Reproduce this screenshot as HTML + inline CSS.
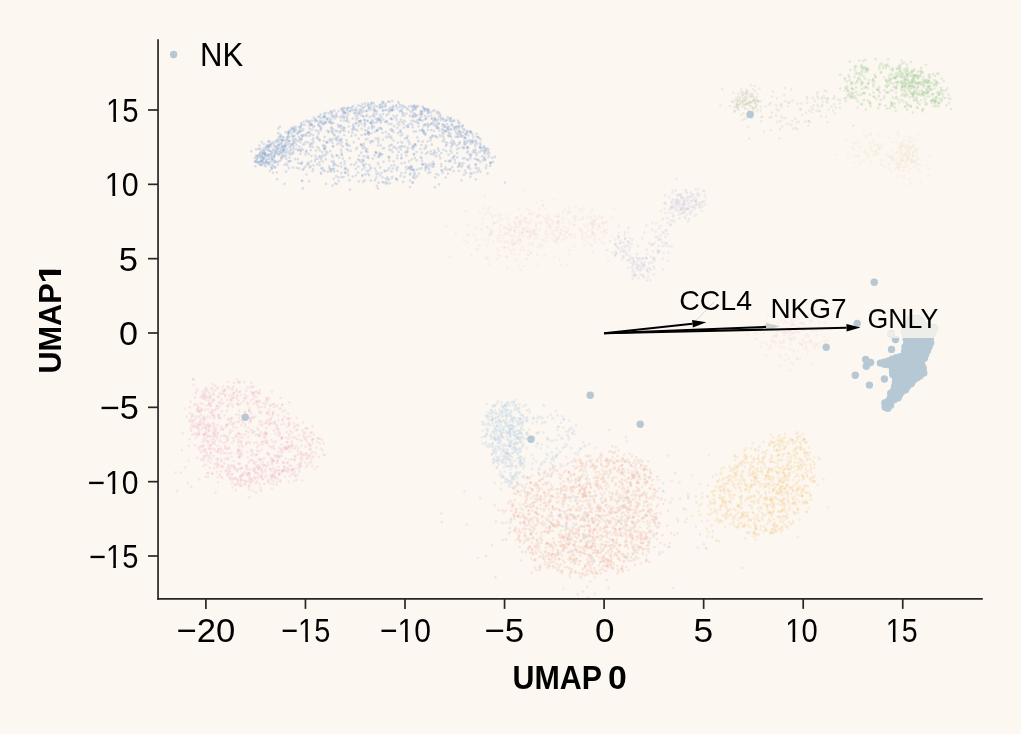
<!DOCTYPE html>
<html><head><meta charset="utf-8"><style>
html,body{margin:0;padding:0;background:#fcf7f1;}
svg{display:block;}
</style></head><body>
<svg width="1021" height="734" viewBox="0 0 1021 734">
<rect width="1021" height="734" fill="#fcf7f1"/>
<clipPath id="ax"><rect x="159" y="30" width="830" height="568"/></clipPath>
<g clip-path="url(#ax)">
<path d="M387.7 170.1h0M451.2 147.2h0M261.5 156.2h0M318.7 123.7h0M402.1 108.6h0M292.7 144.2h0M367.8 173.6h0M257.3 158.9h0M432.3 135.7h0M301.4 135.3h0M320.0 150.5h0M309.6 128.6h0M417.3 115.0h0M272.9 172.8h0M282.9 136.8h0M343.2 112.5h0M325.2 123.3h0M344.8 112.7h0M397.3 127.6h0M442.7 172.7h0M371.5 141.2h0M403.5 106.6h0M376.9 185.9h0M476.4 158.8h0M363.6 156.2h0M318.7 122.3h0M324.2 116.3h0M272.8 165.2h0M368.0 120.9h0M404.7 146.6h0M407.7 149.2h0M315.2 119.6h0M468.7 167.2h0M391.9 144.8h0M309.9 145.1h0M364.2 119.9h0M453.0 126.3h0M347.1 109.7h0M378.5 173.3h0M426.0 117.3h0M321.1 127.9h0M263.6 158.4h0M438.4 175.1h0M457.2 149.2h0M370.6 116.6h0M257.4 155.8h0M358.2 159.4h0M309.5 122.5h0M400.4 105.0h0M362.4 104.2h0M361.9 124.3h0M322.7 161.7h0M440.2 114.7h0M265.8 155.4h0M312.6 146.9h0M354.1 129.2h0M290.4 144.8h0M319.5 140.1h0M333.4 123.1h0M425.6 124.6h0M263.4 163.7h0M382.4 101.9h0M332.5 142.9h0M268.2 141.7h0M450.2 133.6h0M473.4 137.0h0M295.0 159.2h0M282.5 146.6h0M301.3 125.1h0M421.2 112.3h0M267.7 149.0h0M459.1 163.1h0M406.5 151.6h0M324.2 145.8h0M259.0 163.9h0M258.1 162.9h0M348.0 108.1h0M278.5 145.4h0M430.7 112.5h0M280.8 139.9h0M258.6 149.1h0M263.7 144.0h0M286.2 163.7h0M275.3 167.0h0M369.4 165.1h0M407.5 151.1h0M445.6 161.1h0M324.7 122.4h0M367.4 139.0h0M338.8 181.1h0M465.4 144.7h0M424.9 115.8h0M280.5 152.1h0M442.5 125.9h0M354.9 113.6h0M383.0 139.6h0M447.8 127.8h0M484.5 153.5h0M297.8 159.2h0M383.1 110.4h0M483.0 160.3h0M315.6 155.9h0M341.1 120.5h0M321.9 156.6h0M306.4 150.9h0M411.3 166.1h0M383.0 114.1h0M413.2 146.3h0M289.5 144.5h0M256.3 156.2h0M340.1 140.9h0M424.7 108.7h0M448.0 173.6h0M260.1 156.3h0M259.6 157.0h0M451.5 152.6h0M352.8 118.4h0M402.3 134.6h0M357.5 130.4h0M391.3 118.8h0M466.9 159.6h0M303.7 168.8h0M367.9 156.2h0M450.4 135.4h0M366.4 156.9h0M309.2 121.0h0M379.0 119.7h0M331.2 115.3h0M464.4 129.9h0M421.8 158.1h0M333.5 115.9h0M329.6 121.5h0M309.2 132.0h0M451.3 146.2h0M278.9 154.3h0M380.8 122.4h0M418.5 123.4h0M480.3 161.9h0M332.0 170.5h0M287.1 149.1h0M389.0 179.6h0M264.8 164.5h0M488.5 149.2h0M377.4 130.1h0M275.0 141.3h0M370.7 106.0h0M364.8 180.3h0M322.3 152.1h0M336.1 176.1h0M370.5 122.7h0M278.5 161.5h0M452.2 167.0h0M475.5 149.6h0M441.6 170.0h0M321.4 122.9h0M389.4 109.2h0M376.3 153.2h0M355.6 135.3h0M285.8 144.4h0M406.4 126.0h0M304.6 144.0h0M392.3 100.9h0M413.4 170.1h0M431.8 118.5h0M407.7 147.7h0M310.6 166.3h0M338.3 136.4h0M409.1 106.4h0M416.9 176.3h0M470.4 173.4h0M405.4 172.7h0M372.1 128.6h0M256.2 155.4h0M411.4 106.1h0M269.8 171.0h0M454.2 120.7h0M365.2 147.9h0M458.5 126.0h0M477.0 136.8h0M344.9 172.7h0M333.3 169.2h0M476.5 133.8h0M287.0 145.1h0M427.6 167.7h0M386.8 109.9h0M484.2 159.1h0M426.9 111.1h0M391.8 178.0h0M444.7 126.7h0M264.6 153.2h0M427.1 111.1h0M333.3 129.4h0M411.4 169.5h0M323.2 169.9h0M356.4 162.3h0M423.2 107.7h0M310.5 124.2h0M351.0 164.5h0M401.5 163.3h0M331.6 169.7h0M368.0 157.0h0M448.9 161.4h0M320.8 117.8h0M439.5 130.7h0M317.3 164.4h0M373.7 113.7h0M324.4 148.6h0M331.6 122.5h0M363.4 146.0h0M446.9 127.6h0M461.5 167.0h0M436.9 111.9h0M267.1 162.2h0M462.4 165.7h0M293.3 153.2h0M258.2 156.0h0M323.0 145.2h0M310.9 134.2h0M278.6 155.1h0M293.0 139.3h0M289.4 141.1h0M365.8 139.4h0M450.4 121.5h0M368.3 134.3h0M446.0 145.7h0M417.0 120.3h0M337.0 144.3h0M327.3 142.7h0M275.0 161.2h0M400.5 130.2h0M430.8 151.3h0M429.1 112.8h0M322.3 120.6h0M403.8 127.7h0M369.8 110.1h0M393.5 147.5h0M422.6 141.7h0M319.8 165.1h0M282.2 141.6h0M306.3 151.4h0M434.5 110.2h0M368.5 132.9h0M432.1 166.5h0M338.0 124.9h0M277.7 145.7h0M263.1 153.1h0M365.7 106.0h0M369.7 117.1h0M418.9 173.9h0M378.1 140.2h0M261.1 164.3h0M313.6 165.4h0M433.6 154.7h0M268.8 148.3h0M370.6 105.7h0M485.3 160.0h0M457.9 136.7h0M397.3 155.5h0M400.5 135.6h0M410.6 123.7h0M279.2 161.4h0M291.0 149.4h0M438.2 127.5h0M311.0 161.4h0M430.3 163.8h0M284.5 164.9h0M258.5 155.2h0M320.6 130.5h0M302.4 124.7h0M350.8 150.8h0M434.6 117.7h0M294.0 129.2h0M340.7 125.3h0M425.0 125.0h0M489.0 152.7h0M351.9 107.3h0M285.0 146.2h0M447.1 124.3h0M488.4 157.2h0M453.6 157.1h0M428.3 116.3h0M378.6 182.7h0M299.8 131.6h0M280.0 147.9h0M414.8 145.8h0M311.9 120.6h0M322.6 168.0h0M360.9 109.4h0M346.8 143.5h0M475.7 167.8h0M282.8 149.7h0M348.8 132.0h0M425.4 134.7h0M438.2 112.0h0M427.8 111.1h0M452.2 143.9h0M287.3 138.9h0M368.4 104.9h0M412.9 110.1h0M408.7 167.5h0M449.4 126.5h0M446.2 120.7h0M275.1 151.7h0M311.9 124.9h0M392.2 110.1h0M255.7 161.5h0M385.7 103.9h0M261.1 160.7h0M415.6 145.4h0M344.2 118.3h0M324.8 136.9h0M310.8 150.1h0M346.6 149.0h0M407.7 127.1h0M251.2 151.3h0M308.2 162.7h0M260.4 164.2h0M264.2 164.1h0M353.2 129.4h0M282.8 140.0h0M445.7 130.8h0M338.4 166.0h0M261.7 142.1h0M282.2 140.0h0M271.9 168.6h0M419.5 119.7h0M362.6 116.0h0M410.7 173.5h0M475.8 140.7h0M388.1 101.8h0M375.1 111.3h0M289.4 132.4h0M464.6 138.0h0M441.3 153.0h0M377.4 106.4h0M470.2 158.3h0M389.0 157.5h0M320.2 156.4h0M397.3 108.5h0M268.1 146.6h0M332.3 133.0h0M347.0 116.6h0M399.5 111.4h0M341.4 154.5h0M402.0 122.1h0M286.4 158.9h0M347.2 118.0h0M452.1 124.0h0M420.7 111.3h0M313.8 117.3h0M363.5 165.6h0M344.1 135.0h0M415.8 109.5h0M438.8 128.2h0M402.5 115.8h0M292.9 167.5h0M286.2 151.6h0M332.9 157.1h0M432.0 164.1h0M319.8 120.7h0M283.8 150.5h0M379.1 154.8h0M398.1 101.8h0M331.8 127.5h0M462.0 135.6h0M443.1 125.0h0M489.2 156.0h0M423.7 132.1h0M443.9 139.2h0M300.0 130.5h0M389.2 168.2h0M327.5 118.0h0M329.9 120.8h0M384.3 170.9h0M480.1 161.9h0M301.8 180.5h0M289.6 136.8h0M385.1 121.9h0M470.5 131.8h0M414.0 105.9h0M466.8 131.3h0M425.6 168.1h0M350.0 111.2h0M275.4 151.0h0M324.0 140.8h0M259.6 162.9h0M441.0 120.1h0M457.3 153.2h0M268.8 145.6h0M399.8 106.9h0M480.2 146.8h0M427.4 109.0h0M443.2 119.2h0M393.6 161.4h0M286.4 151.0h0M428.3 125.3h0M422.5 130.7h0M380.3 104.6h0M290.7 144.9h0M408.9 167.8h0M392.4 176.8h0M267.8 162.5h0M306.5 120.7h0M443.5 149.9h0M375.2 110.6h0M358.6 121.4h0M368.7 109.8h0M302.2 162.4h0M277.9 148.0h0M396.2 105.4h0M334.7 135.3h0M289.5 161.2h0M480.5 145.2h0M454.0 128.2h0M362.3 175.1h0" stroke="#4d78bd" stroke-opacity="0.19" stroke-width="2.7" stroke-linecap="round" fill="none"/>
<path d="M293.4 127.0h0M335.0 118.3h0M389.2 146.4h0M380.3 119.9h0M475.6 164.5h0M301.9 148.7h0M294.9 131.6h0M414.9 158.2h0M341.6 152.4h0M289.8 147.0h0M278.4 128.4h0M353.8 142.3h0M457.4 128.1h0M380.7 145.3h0M275.3 146.8h0M330.2 122.7h0M341.4 166.5h0M282.2 140.0h0M319.1 126.1h0M376.4 177.7h0M254.8 158.2h0M409.9 115.9h0M484.2 147.6h0M445.6 167.4h0M326.2 142.3h0M330.8 171.6h0M347.7 111.6h0M328.7 131.5h0M462.2 125.9h0M379.8 107.0h0M344.6 163.9h0M442.6 124.1h0M401.1 158.3h0M328.7 113.4h0M405.2 152.6h0M391.0 136.6h0M265.9 166.4h0M305.5 154.5h0M437.6 137.5h0M451.9 125.0h0M284.7 147.3h0M477.0 154.3h0M285.2 153.2h0M401.4 173.1h0M358.9 113.7h0M264.2 152.6h0M481.0 150.2h0M382.4 132.9h0M343.7 128.0h0M357.7 114.9h0M360.6 121.3h0M432.8 111.1h0M268.5 154.7h0M374.1 116.4h0M364.6 167.8h0M424.0 133.5h0M329.2 166.4h0M281.2 142.8h0M460.5 133.3h0M427.7 152.4h0M385.7 106.4h0M271.6 157.9h0M387.4 179.5h0M472.3 141.4h0M422.8 106.6h0M459.6 142.1h0M487.5 154.0h0M379.7 155.9h0M404.9 162.8h0M347.3 120.1h0M385.7 178.5h0M277.4 149.0h0M325.0 122.0h0M341.3 177.1h0M416.9 106.9h0M486.0 149.5h0M394.5 165.2h0M411.6 159.5h0M411.0 167.1h0M436.9 125.6h0M339.8 132.5h0M473.4 142.1h0M293.1 151.5h0M263.8 156.7h0M415.3 116.1h0M397.9 133.1h0M274.3 162.8h0M377.2 130.7h0M396.9 115.6h0M401.0 146.6h0M333.9 134.4h0M282.6 156.0h0M284.0 151.0h0M353.1 106.0h0M465.7 138.0h0M412.4 169.5h0M413.7 147.3h0M311.4 155.8h0M321.2 174.0h0M296.6 167.9h0M379.6 118.8h0M256.6 161.8h0M346.2 169.0h0M463.9 147.5h0M302.9 188.4h0M373.2 110.3h0M330.0 170.8h0M277.1 153.7h0M394.1 126.1h0M260.2 152.8h0M330.2 151.1h0M299.8 139.3h0M264.9 166.0h0M284.5 183.8h0M278.8 137.0h0M289.4 147.1h0M369.0 134.3h0M261.6 161.3h0M422.8 164.5h0M292.1 128.7h0M299.2 146.7h0M266.7 160.1h0M332.2 131.8h0M470.5 155.3h0M358.8 181.3h0M450.5 150.7h0M275.8 162.1h0M413.5 117.1h0M333.1 138.9h0M344.6 161.3h0M300.5 163.6h0M288.5 132.2h0M372.3 126.0h0M323.9 117.5h0M404.3 176.8h0M401.3 132.3h0M390.3 145.1h0M313.4 127.3h0M436.0 156.4h0M355.8 129.5h0M348.0 170.2h0M274.4 150.1h0M268.1 146.7h0M295.3 128.4h0M315.6 130.4h0M399.2 122.0h0M378.0 188.4h0M396.7 149.0h0M307.4 121.9h0M293.9 142.0h0M371.3 133.4h0M480.5 147.9h0M450.4 129.5h0M470.6 143.7h0M350.0 189.7h0M255.4 166.2h0M455.1 162.7h0M386.0 182.0h0M430.2 137.7h0M393.3 105.8h0M380.0 105.0h0M411.9 112.2h0M415.8 107.6h0M316.0 120.2h0M358.6 138.7h0M388.5 156.8h0M364.7 120.0h0M271.7 159.6h0M490.1 165.8h0M336.0 138.3h0M285.2 144.7h0M368.4 132.8h0M288.1 142.8h0M453.7 171.2h0M262.4 154.0h0M376.2 152.5h0M418.4 126.5h0M301.0 126.3h0M342.9 110.9h0M371.9 125.1h0M271.8 159.5h0M439.1 184.4h0M476.4 155.0h0M309.3 136.0h0M259.9 148.6h0M272.1 151.4h0M299.8 127.9h0M286.0 171.7h0M423.7 130.7h0M438.7 123.8h0M419.4 120.0h0M439.4 155.6h0M378.4 142.5h0M378.0 163.1h0M384.0 182.4h0M425.1 119.3h0M446.2 151.1h0M317.5 158.9h0M284.4 156.8h0M297.1 133.9h0M349.8 158.2h0M468.0 147.8h0M417.2 137.4h0M365.8 150.5h0M368.1 103.6h0M274.9 149.7h0M383.4 103.3h0M322.2 123.3h0M377.5 118.9h0M281.0 135.9h0M424.5 148.8h0M465.5 134.1h0M435.3 177.4h0M365.3 134.2h0M357.6 117.9h0M430.2 172.3h0M378.3 164.3h0M344.8 113.0h0M470.2 168.9h0M401.7 111.0h0M319.3 156.7h0M281.2 158.3h0M261.7 157.5h0M272.4 152.4h0M390.0 183.3h0M389.1 111.6h0M293.2 137.1h0M279.8 137.4h0M459.0 131.5h0M300.4 142.1h0M302.9 149.8h0M471.7 173.7h0M468.0 151.2h0M280.8 160.1h0M445.4 142.0h0M338.5 111.0h0M450.5 169.4h0M477.4 168.5h0M434.6 151.4h0M473.5 150.3h0M416.6 151.8h0M375.0 168.6h0M435.9 119.7h0M341.8 142.5h0M334.3 171.4h0M430.9 154.2h0M479.2 169.8h0M393.6 132.0h0M476.1 152.5h0M269.5 156.8h0M319.3 116.7h0M386.8 121.2h0M372.9 158.7h0M293.6 149.2h0M392.5 106.9h0M397.7 123.7h0M402.5 105.7h0M397.7 167.3h0M344.1 127.9h0M385.8 183.4h0M341.2 138.9h0M471.8 143.5h0M320.8 159.3h0M380.2 167.6h0M269.3 151.0h0M274.2 161.1h0M445.8 131.6h0M392.6 131.2h0M333.6 161.3h0M323.0 124.0h0M414.0 154.7h0M392.6 152.0h0M451.7 121.0h0M305.1 166.8h0M439.0 117.0h0M358.3 166.7h0M427.9 127.0h0M482.0 156.3h0M338.6 139.3h0M415.1 178.2h0M321.3 158.6h0M414.5 172.7h0M458.9 171.0h0M474.7 159.0h0M303.1 144.5h0M370.7 122.8h0M311.9 144.0h0M279.1 139.4h0M382.2 107.2h0M354.3 164.7h0M359.0 155.5h0M413.7 175.9h0M380.2 175.5h0M368.8 107.8h0M442.4 129.2h0M360.5 106.1h0M361.0 144.1h0M504.9 182.6h0M451.0 118.4h0M475.5 144.0h0M431.4 123.5h0M318.7 133.4h0M367.1 115.2h0M469.8 130.8h0M336.7 184.0h0M371.6 102.8h0M382.4 104.1h0M440.3 116.4h0M457.1 157.3h0M334.3 117.3h0M456.4 133.2h0M291.2 130.3h0M343.3 112.1h0M301.9 137.6h0M299.0 168.4h0M422.7 120.6h0M306.0 151.8h0M343.3 114.6h0M456.4 126.3h0M398.6 151.9h0M389.2 136.8h0M393.4 115.8h0M261.6 164.7h0M420.4 114.5h0M375.3 110.9h0M469.6 131.9h0M274.4 156.8h0M266.9 145.2h0M364.7 122.7h0M436.6 125.1h0M260.5 158.1h0M288.8 168.2h0M325.2 148.4h0M459.3 165.8h0M425.7 133.7h0M269.8 162.4h0M274.1 143.7h0M287.3 165.3h0M390.9 137.0h0M264.6 155.0h0M311.3 124.9h0M448.6 129.4h0M449.3 136.3h0M391.5 109.5h0M433.7 164.3h0M269.7 159.7h0M363.7 108.0h0M434.2 150.7h0M467.8 167.4h0M348.8 126.5h0M379.7 156.5h0M261.6 153.1h0M410.3 111.3h0M299.7 140.4h0M379.7 152.9h0M315.3 119.1h0M450.5 161.1h0M361.8 135.1h0M352.1 129.5h0M339.8 117.2h0M303.4 135.5h0M330.8 111.8h0M351.3 108.6h0M332.6 185.6h0M376.0 118.7h0M278.0 164.8h0M283.4 149.9h0M373.7 103.0h0M395.0 147.2h0M389.1 156.9h0M307.2 132.9h0M472.8 152.1h0M286.2 155.7h0M283.7 137.6h0M341.7 115.9h0M368.2 105.4h0M391.3 150.2h0M442.9 141.2h0M298.0 132.5h0M302.4 129.0h0M263.8 150.6h0M327.5 130.7h0M323.0 117.5h0M269.2 141.0h0M354.1 112.8h0M261.2 150.9h0M388.6 134.2h0M491.1 162.7h0M303.4 129.7h0M258.8 161.5h0M422.2 129.4h0M326.2 151.5h0M379.2 156.9h0M366.4 111.3h0M270.4 144.5h0M341.3 173.1h0M380.1 115.2h0M302.2 130.8h0M333.1 146.1h0M438.8 150.7h0M385.3 110.2h0M403.2 181.9h0M478.4 168.4h0M349.5 180.2h0M282.4 152.0h0M382.4 177.5h0M335.0 117.8h0M307.9 142.3h0M450.6 120.1h0M336.0 115.4h0M324.3 113.5h0M361.8 112.8h0M331.8 140.0h0M386.7 122.0h0M261.4 158.6h0" stroke="#4d78bd" stroke-opacity="0.19" stroke-width="2.7" stroke-linecap="round" fill="none"/>
<path d="M304.7 124.8h0M346.9 145.0h0M292.5 136.0h0M342.4 117.5h0M378.4 138.2h0M288.4 161.6h0M299.0 149.7h0M327.4 141.9h0M269.1 163.3h0M436.4 174.0h0M470.2 141.3h0M270.0 145.1h0M288.2 136.5h0M386.2 136.8h0M272.5 142.2h0M305.6 142.0h0M478.4 160.0h0M484.1 146.4h0M447.7 117.2h0M492.3 157.9h0M453.0 144.6h0M288.0 137.2h0M441.7 170.8h0M406.5 113.6h0M265.4 158.4h0M265.3 153.5h0M438.9 123.5h0M315.0 161.0h0M391.7 110.4h0M412.9 127.4h0M482.5 147.9h0M376.2 171.5h0M427.9 165.1h0M422.0 164.3h0M474.5 151.3h0M413.8 131.5h0M401.4 142.1h0M330.5 141.1h0M415.2 107.8h0M378.4 118.5h0M271.8 153.9h0M275.1 154.2h0M264.1 162.1h0M431.2 115.5h0M356.9 113.0h0M366.8 170.8h0M415.9 131.4h0M423.8 109.0h0M461.5 180.4h0M372.7 122.7h0M356.0 108.0h0M278.1 133.1h0M293.4 141.1h0M429.2 169.4h0M435.0 136.1h0M315.6 158.9h0M276.5 151.5h0M422.4 130.6h0M368.5 132.0h0M257.0 158.2h0M284.0 155.8h0M406.6 137.9h0M362.8 107.2h0M363.5 116.6h0M447.2 143.2h0M355.9 116.3h0M268.2 158.7h0M451.1 129.3h0M412.5 124.9h0M362.5 163.1h0M400.5 175.9h0M268.2 154.7h0M466.0 172.9h0M291.6 144.1h0M360.3 161.6h0M447.3 128.8h0M445.0 130.8h0M480.3 143.2h0M441.3 166.3h0M413.9 153.8h0M280.0 150.5h0M282.5 144.6h0M363.0 148.3h0M413.6 170.2h0M416.0 116.5h0M310.8 143.3h0M289.7 141.0h0M280.1 134.4h0M437.0 122.2h0M307.2 164.9h0M381.2 117.2h0M332.4 111.6h0M387.3 183.4h0M364.0 143.7h0M352.8 176.6h0M325.8 159.3h0M331.7 123.5h0M426.1 118.8h0M428.2 109.9h0M372.1 103.9h0M426.0 167.2h0M365.1 124.2h0M406.0 166.9h0M263.6 150.7h0M277.6 140.7h0M479.8 147.5h0M447.4 128.3h0M448.1 135.6h0M468.3 159.9h0M443.4 133.6h0M474.5 152.3h0M320.7 128.9h0M323.7 124.2h0M422.5 113.7h0M371.3 103.3h0M415.3 144.3h0M475.9 164.7h0M262.5 161.1h0M472.9 134.6h0M286.0 141.8h0M419.6 118.4h0M377.5 120.1h0M300.4 131.3h0M428.0 123.5h0M455.5 130.9h0M432.5 124.6h0M433.6 166.6h0M409.9 169.2h0M318.4 138.5h0M433.6 153.1h0M373.2 141.3h0M380.4 128.0h0M309.9 122.5h0M375.1 105.7h0M291.9 133.7h0M396.9 170.2h0M415.1 114.0h0M398.9 103.5h0M324.4 149.3h0M441.6 136.2h0M455.0 127.5h0M392.3 119.2h0M425.2 109.8h0M382.7 148.4h0M373.9 107.0h0M257.9 162.4h0M267.1 149.9h0M279.6 145.1h0M389.9 110.9h0M388.9 124.1h0M412.5 107.3h0M269.0 163.8h0M355.9 123.2h0M450.7 142.4h0M295.8 126.5h0M408.3 109.5h0M454.6 129.2h0M449.2 169.5h0M461.1 131.5h0M490.2 162.5h0M455.5 136.9h0M337.3 131.2h0M339.2 157.5h0M471.1 132.0h0M317.6 136.3h0M314.1 126.0h0M485.3 150.5h0M462.4 147.2h0M463.5 128.9h0M336.6 155.6h0M391.5 165.5h0M443.4 136.6h0M348.3 175.3h0M367.1 149.0h0M300.4 153.9h0M319.7 140.0h0M311.8 129.9h0M377.9 145.5h0M431.1 130.1h0M341.5 109.2h0M329.6 168.4h0M375.3 152.0h0M381.7 129.0h0M435.3 119.6h0M359.7 122.4h0M271.6 156.8h0M465.8 134.6h0M477.4 171.9h0M259.2 162.5h0M382.8 106.5h0M456.7 145.5h0M399.0 147.4h0M333.1 146.6h0M415.6 115.5h0M427.9 113.2h0M389.5 101.9h0M290.7 153.2h0M411.7 148.2h0M327.3 119.4h0M346.5 140.3h0M334.5 163.6h0M301.8 139.4h0M293.5 128.8h0M400.9 149.4h0M431.8 144.7h0M475.8 179.4h0M384.8 105.9h0M427.3 109.8h0M384.1 148.2h0M344.7 130.9h0M299.1 127.2h0M459.5 122.9h0M401.4 154.8h0M404.9 138.6h0M459.3 164.8h0M486.6 148.3h0M372.4 121.6h0M363.9 165.0h0M383.2 102.3h0M288.6 133.6h0M289.4 157.5h0M343.4 108.3h0M323.4 154.9h0M426.1 145.6h0M270.4 154.3h0M396.5 178.9h0M370.8 167.5h0M395.5 117.4h0M336.7 137.5h0M439.8 135.3h0M475.4 146.5h0M390.2 130.1h0M389.3 149.8h0M431.8 118.6h0M362.3 176.1h0M368.8 127.9h0M309.7 167.4h0M450.6 118.5h0M300.8 150.9h0M291.7 154.2h0M265.9 147.6h0M464.5 140.5h0M340.3 131.1h0M391.4 171.3h0M375.8 138.6h0M355.9 110.0h0M299.0 131.4h0M342.9 158.5h0M262.7 151.3h0M265.2 158.9h0M356.2 119.5h0M317.6 147.0h0M413.1 115.4h0M349.6 145.8h0M263.8 158.0h0M373.8 122.7h0M263.4 159.7h0M443.0 118.7h0M416.8 169.7h0M312.5 140.1h0M305.7 134.6h0M341.2 140.2h0M284.6 148.9h0M449.7 118.1h0M331.4 130.6h0M359.3 112.7h0M461.2 163.7h0M338.6 126.8h0M467.6 147.2h0M333.8 168.6h0M403.4 113.7h0M443.7 130.9h0M266.1 155.5h0M296.5 144.9h0M302.4 181.1h0M460.8 136.8h0M256.2 160.8h0M256.8 156.4h0M293.3 131.8h0M336.5 113.3h0M367.5 152.1h0M362.0 145.3h0M421.6 111.0h0M467.3 142.6h0M429.5 166.1h0M463.0 125.5h0M290.6 161.1h0M448.9 133.3h0M279.9 126.7h0M325.1 155.6h0M331.1 111.5h0M402.1 142.7h0M412.9 149.2h0M464.9 170.5h0M444.5 169.5h0M412.6 182.5h0M358.3 105.4h0M317.9 131.1h0M442.8 130.2h0M420.5 157.1h0M274.0 156.1h0M366.1 164.0h0M381.5 154.4h0M472.6 140.2h0M339.1 143.5h0M453.5 143.9h0M266.9 156.4h0M463.2 132.3h0M345.3 167.7h0M396.7 168.7h0M291.8 146.4h0M265.4 150.2h0M341.0 149.7h0M300.3 127.1h0M447.9 127.3h0M271.6 168.6h0M459.4 125.8h0M387.0 137.4h0M378.6 128.4h0M353.7 126.8h0M266.2 162.4h0M285.6 132.1h0M408.2 126.9h0M485.2 159.4h0M362.8 160.7h0M452.4 140.3h0M376.4 114.0h0M454.4 155.9h0M273.0 149.4h0M433.4 121.1h0M436.8 127.8h0M475.1 146.0h0M346.7 144.0h0M351.3 135.9h0M324.8 115.6h0M308.7 132.8h0M446.5 144.6h0M464.2 144.3h0M385.5 171.2h0M413.8 105.5h0M431.3 123.7h0M385.7 132.0h0M441.0 118.1h0M432.3 123.2h0M293.7 146.7h0M464.7 137.3h0M327.4 152.9h0M393.6 140.5h0M428.4 172.8h0M484.1 147.7h0M278.6 142.0h0M298.0 133.0h0M260.2 153.4h0M469.1 165.4h0M392.8 168.5h0M454.7 143.4h0M282.1 146.6h0M405.3 107.1h0M431.2 137.9h0M269.3 150.6h0M441.2 164.2h0M302.6 169.8h0M483.0 150.9h0M479.1 138.2h0M369.2 107.8h0M428.4 112.4h0M276.8 172.3h0M397.2 158.3h0M421.9 152.8h0M295.4 142.8h0M463.2 136.4h0M268.2 158.5h0M459.0 130.7h0M455.6 129.3h0M273.4 159.2h0M457.8 134.0h0M368.5 158.0h0M434.8 119.5h0M472.9 140.6h0M352.7 110.3h0M301.5 163.9h0M391.1 129.1h0M399.9 131.6h0M277.2 162.2h0M335.2 183.3h0M364.9 130.0h0M446.8 169.6h0M430.5 140.4h0M474.3 172.6h0M422.0 160.9h0M306.5 174.5h0M359.6 121.1h0M475.9 141.7h0M383.5 161.6h0M326.1 153.9h0M358.0 172.7h0M434.5 123.3h0M427.6 141.5h0M277.1 179.2h0M401.6 157.8h0M333.5 165.5h0M464.2 143.1h0M328.6 132.2h0M285.5 146.3h0M352.3 132.8h0M411.8 167.5h0M480.5 171.8h0M298.4 163.0h0M467.4 131.7h0M422.0 114.1h0M402.3 146.3h0M415.1 121.8h0M295.6 140.0h0M448.5 154.6h0M368.6 128.5h0" stroke="#4d78bd" stroke-opacity="0.19" stroke-width="2.7" stroke-linecap="round" fill="none"/>
<path d="M344.5 107.9h0M266.0 161.3h0M275.9 146.6h0M493.1 161.8h0M309.1 125.6h0M391.5 138.5h0M303.8 121.5h0M329.7 118.5h0M302.1 135.5h0M484.9 152.2h0M356.3 149.2h0M282.3 153.0h0M326.0 183.8h0M266.5 146.7h0M418.1 106.0h0M267.9 155.5h0M448.3 119.7h0M268.4 164.1h0M376.1 122.5h0M379.7 108.1h0M345.4 172.7h0M359.9 111.2h0M271.1 146.7h0M262.0 160.8h0M374.1 126.8h0M306.3 135.7h0M470.4 176.8h0M364.6 126.2h0M296.2 149.1h0M366.8 130.7h0M291.6 128.3h0M427.8 130.0h0M287.7 140.4h0M265.0 154.5h0M425.4 170.2h0M363.1 181.8h0M350.4 111.1h0M477.8 160.1h0M396.7 119.7h0M480.8 139.4h0M424.0 132.6h0M380.3 153.8h0M381.5 173.0h0M366.0 116.3h0M392.3 130.0h0M463.0 158.5h0M409.4 142.7h0M318.2 125.1h0M341.9 126.4h0M372.1 127.0h0M370.5 168.8h0M397.2 179.9h0M287.8 132.5h0M418.6 141.2h0M313.5 142.4h0M312.6 170.9h0M467.0 147.7h0M455.9 127.0h0M388.3 114.1h0M402.3 112.7h0M471.9 142.1h0M369.1 175.2h0M454.8 159.8h0M311.5 124.7h0M313.0 135.1h0M348.7 122.1h0M318.1 116.8h0M269.5 145.8h0M484.7 150.8h0M413.3 120.8h0M271.0 166.8h0M295.3 138.8h0M495.0 156.9h0M342.3 110.1h0M313.0 169.3h0M459.6 133.2h0M335.4 131.1h0M380.7 107.5h0M288.2 134.6h0M348.1 150.4h0M352.9 125.6h0M318.8 148.3h0M316.8 121.1h0M310.2 146.8h0M425.5 124.7h0M469.3 154.2h0M425.1 109.1h0M467.0 147.7h0M344.4 116.7h0M273.8 156.1h0M421.6 168.4h0M484.1 157.8h0M363.6 160.7h0M313.4 138.5h0M277.8 149.9h0M362.3 169.5h0M464.8 158.1h0M308.5 164.0h0M400.9 119.6h0M330.2 138.8h0M366.6 110.8h0M279.6 153.9h0M288.7 151.8h0M412.3 116.4h0M289.9 154.3h0M319.4 162.3h0M361.7 110.4h0M471.2 154.7h0M358.6 125.8h0M353.4 124.4h0M463.5 163.0h0M375.0 180.2h0M263.0 159.6h0M395.9 178.8h0M421.4 145.0h0M460.5 135.3h0M265.2 153.5h0M327.9 171.8h0M445.6 177.6h0M399.5 125.1h0M419.5 168.9h0M301.1 123.2h0M437.5 113.9h0M421.0 114.8h0M374.6 131.8h0M387.3 177.3h0M460.6 135.1h0M326.0 112.8h0M479.5 152.1h0M361.3 152.7h0M332.1 113.5h0M410.0 180.6h0M425.6 165.4h0M336.2 139.8h0M287.1 137.2h0M344.2 128.2h0M282.3 140.0h0M434.9 187.3h0M380.6 120.8h0M418.2 141.2h0M370.5 142.8h0M277.0 142.4h0M356.3 123.5h0M416.2 106.2h0M376.6 174.3h0M281.2 156.9h0M267.3 162.6h0M344.9 169.1h0M435.1 125.9h0M276.9 139.8h0M331.8 155.2h0M416.6 160.4h0M331.4 119.6h0M437.7 128.3h0M420.8 120.3h0M289.9 130.6h0M356.2 110.8h0M414.2 108.7h0M438.3 119.7h0M459.8 143.3h0M271.3 165.5h0M409.8 174.5h0M383.3 119.6h0M464.0 174.8h0M355.8 168.9h0M334.5 110.6h0M275.0 167.7h0M342.8 130.4h0M268.3 164.6h0M344.3 111.4h0M485.8 168.0h0M316.9 137.9h0M423.7 164.1h0M466.9 152.5h0M345.7 113.1h0M329.0 122.0h0M256.1 149.4h0M393.7 109.7h0M263.0 162.2h0M439.1 113.1h0M273.5 166.8h0M325.1 117.1h0M434.1 164.0h0M458.9 127.5h0M340.6 127.5h0M408.3 140.9h0M468.2 135.4h0M331.7 161.7h0M374.6 155.3h0M347.9 145.3h0M356.9 147.9h0M414.7 144.4h0M377.0 111.5h0M444.7 126.8h0M354.5 109.9h0M363.7 111.1h0M283.1 150.6h0M487.6 173.4h0M477.5 143.6h0M421.3 117.0h0M436.3 153.2h0M296.0 130.0h0M277.0 148.2h0M360.8 120.7h0M337.1 140.8h0M411.5 120.8h0M275.1 152.5h0M420.5 149.0h0M280.5 136.8h0M425.6 164.0h0M373.3 115.5h0M373.3 115.7h0M279.7 152.4h0M404.6 115.5h0M355.9 175.5h0M409.0 167.6h0M274.2 146.0h0M406.8 108.7h0M470.6 156.1h0M414.7 174.5h0M361.5 128.8h0M442.5 133.0h0M453.5 120.9h0M396.0 106.3h0M280.0 143.8h0M254.7 161.7h0M484.5 156.8h0M382.8 110.6h0M360.7 115.2h0M365.3 134.3h0M425.8 147.4h0M262.9 153.7h0M332.5 116.9h0M344.3 121.0h0M378.0 156.8h0M393.1 107.3h0M297.8 150.3h0M347.5 172.5h0M423.3 126.3h0M389.1 160.4h0M348.2 114.3h0M386.4 115.4h0M440.3 158.4h0M420.6 113.1h0M261.2 161.6h0M316.0 150.4h0M289.0 130.5h0M358.8 125.3h0M265.7 163.0h0M320.2 126.2h0M320.8 172.5h0M417.5 122.5h0M281.6 149.4h0M271.0 154.6h0M340.3 126.4h0M294.6 135.7h0M274.9 154.0h0M451.1 137.1h0M376.4 130.7h0M264.6 148.1h0M403.5 124.1h0M407.2 138.0h0M359.5 160.0h0M342.9 146.5h0M368.9 170.6h0M490.5 163.3h0M272.0 161.8h0M270.4 143.0h0M450.1 160.4h0M337.1 155.3h0M459.2 148.0h0M478.1 137.1h0M365.0 103.4h0M437.9 148.3h0M366.9 120.9h0M457.9 166.9h0M261.1 161.1h0M458.3 122.4h0M341.5 145.3h0M463.7 148.4h0M404.1 120.7h0M274.0 156.0h0M263.7 148.4h0M433.0 161.8h0M282.0 154.4h0M361.0 145.2h0M433.8 130.8h0M293.7 135.9h0M448.0 130.9h0M465.1 142.4h0M377.5 121.7h0M421.4 112.2h0M346.7 108.6h0M300.3 150.3h0M407.1 152.2h0M458.7 144.2h0M413.4 107.7h0M323.7 146.6h0M407.6 136.0h0M362.8 159.5h0M390.2 107.5h0M370.3 141.6h0M467.2 140.9h0M368.2 132.9h0M436.1 136.7h0M330.8 169.2h0M293.2 144.0h0M413.0 145.5h0M452.6 158.2h0M382.6 182.1h0M272.2 159.2h0M486.0 167.9h0M406.4 155.6h0M325.4 146.5h0M409.4 144.1h0M409.9 187.1h0M353.4 127.5h0M436.2 126.1h0M308.5 153.9h0M366.2 151.3h0M413.7 109.8h0M286.5 139.8h0M320.5 122.0h0M370.9 180.6h0M277.8 152.2h0M341.7 108.5h0M392.6 110.0h0M386.5 121.5h0M412.8 182.7h0M284.5 140.4h0M260.6 165.3h0M272.2 144.0h0M414.2 113.7h0M444.5 121.0h0M324.7 170.9h0M340.8 163.2h0M487.7 151.3h0M282.3 149.2h0M320.7 114.4h0M406.7 169.3h0M371.1 108.5h0M261.8 155.2h0M346.5 120.9h0M298.8 136.8h0M469.6 140.2h0M331.2 128.0h0M258.7 155.8h0M282.2 147.3h0M391.3 123.9h0M259.5 145.5h0M268.2 146.4h0M458.0 120.7h0M261.0 155.9h0M404.8 121.5h0M326.7 119.3h0M289.7 150.9h0M342.2 129.5h0M374.3 109.2h0M380.9 128.4h0M424.2 111.0h0M262.3 157.4h0M371.0 123.1h0M297.6 140.9h0M471.3 133.0h0M457.7 136.7h0M365.2 174.4h0M326.2 122.4h0M463.1 158.4h0M336.8 116.4h0M333.8 178.5h0M329.5 139.7h0M324.2 117.1h0M277.2 146.8h0M400.8 110.3h0M453.7 141.7h0M486.3 165.3h0M408.3 124.8h0M333.8 164.2h0M321.3 168.4h0M281.9 158.1h0M444.5 125.2h0M314.8 121.4h0M342.1 155.0h0M338.3 177.5h0M466.7 133.2h0M390.7 118.5h0M309.0 181.3h0M271.1 151.7h0M337.6 171.0h0M461.7 127.5h0M279.4 153.4h0M277.8 145.5h0M428.8 110.1h0M423.8 124.8h0M419.9 130.4h0M413.2 177.7h0M348.8 107.9h0M434.5 119.6h0M382.2 154.5h0M336.1 165.1h0M283.4 146.3h0M259.3 155.0h0M303.4 135.7h0M288.3 153.0h0M426.0 153.8h0M409.0 161.2h0M429.7 125.0h0M372.6 120.2h0M300.4 138.9h0M446.1 120.2h0M343.5 177.1h0M398.0 142.6h0M432.8 136.1h0M359.0 110.0h0M294.4 130.8h0" stroke="#4d78bd" stroke-opacity="0.19" stroke-width="2.7" stroke-linecap="round" fill="none"/>
<path d="M310.0 444.8h0M239.5 434.2h0M309.2 462.6h0M207.2 424.6h0M275.5 478.3h0M251.2 482.2h0M282.0 471.8h0M214.4 449.4h0M277.9 415.3h0M223.4 403.1h0M231.3 400.7h0M238.2 400.2h0M253.6 418.0h0M272.4 447.8h0M209.5 467.6h0M241.6 485.6h0M209.1 404.1h0M291.1 446.2h0M208.6 445.2h0M296.1 430.2h0M239.1 418.4h0M279.9 432.7h0M216.5 459.1h0M280.1 481.3h0M233.8 461.1h0M314.9 468.8h0M203.6 398.4h0M318.0 438.7h0M199.5 449.4h0M241.8 444.9h0M224.9 390.7h0M243.1 418.1h0M193.9 420.9h0M317.2 442.1h0M197.5 428.2h0M204.1 423.7h0M232.5 424.8h0M285.8 458.6h0M310.1 449.4h0M262.7 471.9h0M303.4 454.8h0M255.4 478.0h0M199.0 428.9h0M289.6 459.8h0M309.5 455.0h0M312.6 443.2h0M201.4 409.4h0M219.4 440.4h0M276.5 470.4h0M228.6 465.8h0M256.2 492.7h0M265.2 432.1h0M206.4 405.3h0M257.0 402.7h0M221.2 441.9h0M261.0 406.9h0M288.5 446.5h0M236.9 470.1h0M208.3 442.2h0M205.1 449.1h0M230.6 421.8h0M246.6 442.7h0M228.7 448.4h0M278.1 457.2h0M205.5 440.5h0M227.9 469.5h0M220.4 429.5h0M218.6 402.7h0M248.4 441.9h0M261.1 475.6h0M246.1 468.5h0M298.8 435.6h0M262.3 474.3h0M239.5 468.4h0M228.4 419.3h0M287.4 426.7h0M248.2 436.8h0M202.9 394.8h0M266.5 413.5h0M200.8 459.8h0M199.6 407.9h0M249.1 480.2h0M230.3 468.3h0M253.2 386.3h0M245.4 398.2h0M281.8 437.8h0M282.2 404.8h0M218.1 449.2h0M295.9 468.3h0M279.0 447.9h0M200.7 410.8h0M208.1 423.3h0M192.3 434.6h0M273.2 461.1h0M197.9 406.9h0M235.2 478.4h0M199.0 430.3h0M250.8 421.2h0M242.9 437.5h0M215.2 390.2h0M270.7 475.2h0M205.8 464.7h0M228.6 453.6h0M209.0 425.4h0M241.5 425.4h0M221.1 461.6h0M241.5 420.4h0M275.7 433.9h0M206.1 429.3h0M265.4 471.4h0M217.7 460.2h0M251.4 459.8h0M236.4 391.6h0M228.7 470.5h0M273.6 407.0h0M266.2 443.3h0M217.7 477.3h0M265.3 476.5h0M192.9 422.6h0M225.8 471.5h0M181.9 450.3h0M249.6 474.2h0M241.4 475.3h0M306.4 458.4h0M214.1 468.1h0M263.7 433.8h0M266.5 475.6h0M206.7 389.0h0M203.5 460.5h0M307.6 465.1h0M287.2 463.1h0M248.9 486.3h0M256.2 391.6h0M310.9 433.1h0M309.8 436.3h0M248.5 481.6h0M269.4 421.3h0M286.4 448.7h0M275.1 469.7h0M268.0 479.9h0M210.5 395.4h0M202.0 458.9h0M234.4 397.6h0M299.5 440.0h0M237.8 479.2h0M217.7 396.8h0M240.8 442.1h0M233.3 427.0h0M269.1 414.6h0M249.1 410.4h0M224.3 463.3h0M319.9 443.3h0M295.5 476.5h0M240.1 480.0h0M319.0 457.0h0M192.9 379.2h0M274.8 477.7h0M237.1 379.5h0M275.5 406.5h0M231.5 388.9h0M323.5 454.7h0M306.2 466.9h0M306.5 454.3h0M194.8 416.3h0M310.0 449.7h0M266.8 399.1h0M245.0 426.2h0M238.7 404.8h0M251.3 417.9h0M228.0 474.1h0M175.3 472.5h0M242.0 434.6h0M239.4 454.5h0M263.9 437.1h0M239.3 382.3h0M289.3 424.2h0M216.5 406.2h0M236.8 396.7h0M274.8 455.0h0M212.4 473.6h0M220.7 447.9h0M296.8 439.0h0M225.6 394.7h0M208.6 457.8h0M248.3 427.8h0M248.8 462.5h0M242.1 455.7h0M237.3 436.5h0M201.7 396.3h0M240.9 468.1h0M295.9 468.3h0M238.6 440.2h0M232.7 388.5h0M205.3 399.7h0M223.1 428.6h0M232.7 438.1h0M264.2 458.4h0M306.3 428.0h0M206.4 440.4h0M277.0 462.8h0M237.1 398.5h0M278.6 452.1h0M226.5 425.3h0M215.3 440.8h0M313.4 439.0h0M244.1 382.0h0M249.4 476.6h0M288.8 469.0h0M228.8 465.0h0M271.9 488.7h0M231.2 465.5h0M267.9 453.7h0M206.2 432.6h0M239.2 410.7h0M242.7 420.4h0M232.2 395.1h0M283.6 470.4h0M222.4 478.0h0M198.9 434.3h0M233.7 424.0h0M311.3 462.1h0M258.3 393.5h0M221.1 471.3h0M289.3 436.5h0M257.4 450.8h0M273.9 404.3h0M288.6 448.7h0M260.1 435.2h0M259.3 467.7h0M263.1 479.1h0M292.0 469.6h0M197.8 416.6h0M257.5 428.1h0M238.4 484.7h0M214.4 400.5h0M251.7 451.7h0M273.4 468.3h0M269.3 409.7h0M252.8 393.1h0M207.7 473.2h0M258.0 465.3h0M232.7 389.9h0M194.0 426.1h0M230.2 399.9h0M236.9 453.4h0M205.9 398.6h0M284.8 448.8h0M257.4 465.4h0M265.9 432.6h0M235.5 437.1h0M268.1 462.5h0M190.4 421.4h0M270.5 423.1h0M294.0 427.4h0M208.5 435.6h0M313.8 434.3h0M213.2 413.7h0M212.0 414.8h0M305.1 439.2h0M189.9 407.2h0M291.4 459.4h0M213.1 429.2h0M272.3 477.4h0M271.4 440.0h0M216.2 451.3h0M284.9 410.5h0M282.5 451.3h0M297.7 475.1h0M221.3 404.2h0M215.4 430.9h0M231.4 418.1h0M266.8 466.8h0M227.2 400.1h0" stroke="#e58fab" stroke-opacity="0.16" stroke-width="2.7" stroke-linecap="round" fill="none"/>
<path d="M220.1 417.5h0M232.4 397.7h0M238.6 463.7h0M245.3 424.1h0M292.5 437.6h0M269.1 446.1h0M259.7 460.9h0M225.6 453.0h0M289.7 451.5h0M265.0 438.0h0M295.1 459.5h0M214.5 418.5h0M300.5 466.2h0M306.1 453.1h0M255.6 392.2h0M277.8 460.2h0M205.5 390.0h0M241.1 441.7h0M304.5 454.9h0M214.9 463.9h0M210.3 397.5h0M294.6 471.8h0M274.6 421.8h0M286.0 446.9h0M217.0 463.1h0M199.5 422.5h0M211.9 410.2h0M177.0 491.2h0M295.4 426.0h0M217.1 467.7h0M289.5 465.7h0M273.8 445.9h0M301.9 459.7h0M241.0 481.5h0M261.5 450.0h0M223.8 435.6h0M231.7 456.6h0M221.0 436.4h0M279.5 473.2h0M305.2 432.7h0M246.1 465.3h0M242.0 475.9h0M210.5 462.4h0M214.0 426.8h0M265.2 433.9h0M257.3 467.0h0M286.5 446.9h0M247.8 457.4h0M301.5 445.8h0M223.0 466.8h0M248.3 432.3h0M191.2 430.7h0M255.9 482.9h0M238.9 421.9h0M209.5 402.9h0M228.1 405.8h0M254.8 464.5h0M305.6 428.5h0M263.0 441.9h0M199.5 416.8h0M236.3 414.7h0M234.4 468.4h0M196.2 433.1h0M208.6 430.7h0M266.0 465.0h0M259.2 411.2h0M209.8 436.8h0M230.2 471.4h0M249.8 478.1h0M310.4 449.2h0M240.0 457.2h0M251.3 449.9h0M232.5 474.0h0M197.3 457.8h0M209.4 393.2h0M252.3 450.4h0M219.3 393.9h0M182.7 433.0h0M280.9 408.6h0M283.8 467.1h0M261.4 412.4h0M200.8 424.5h0M210.9 453.1h0M301.7 453.1h0M222.0 467.5h0M288.4 418.5h0M255.7 461.9h0M256.3 472.9h0M299.3 469.8h0M232.7 465.6h0M213.3 456.1h0M261.3 421.4h0M271.2 479.5h0M205.7 450.6h0M276.1 441.3h0M197.3 409.4h0M236.2 484.4h0M294.4 460.5h0M253.2 460.8h0M278.7 432.4h0M207.9 409.2h0M271.8 391.9h0M239.1 392.1h0M292.1 445.0h0M249.4 473.1h0M286.6 432.5h0M219.7 474.6h0M247.2 474.8h0M282.6 419.0h0M251.1 400.3h0M258.4 430.1h0M291.5 465.9h0M306.6 440.9h0M294.0 473.5h0M244.7 394.7h0M289.1 422.4h0M299.3 471.5h0M256.8 442.8h0M225.4 458.9h0M276.2 427.6h0M203.0 398.1h0M215.4 430.1h0M212.1 402.6h0M303.9 432.4h0M264.5 440.8h0M302.4 430.4h0M253.2 469.0h0M202.0 429.4h0M270.4 483.3h0M199.6 424.3h0M225.4 446.1h0M218.5 415.7h0M279.4 408.7h0M233.5 465.7h0M249.5 485.5h0M204.9 397.0h0M279.9 470.5h0M209.6 447.6h0M268.3 455.0h0M210.6 424.8h0M203.2 394.9h0M233.8 393.6h0M245.7 483.9h0M247.2 452.0h0M200.9 419.6h0M278.7 466.9h0M247.2 466.4h0M256.3 397.0h0M322.5 450.3h0M214.9 433.9h0M266.3 428.2h0M239.5 450.4h0M191.7 414.5h0M213.9 418.7h0M272.8 414.5h0M200.2 446.6h0M240.5 450.6h0M191.3 418.0h0M270.0 469.2h0M236.6 427.9h0M227.3 474.8h0M223.2 393.8h0M246.0 418.9h0M213.3 416.1h0M244.1 481.2h0M288.6 481.6h0M234.0 383.0h0M254.4 431.8h0M209.9 412.5h0M205.8 434.7h0M252.3 433.2h0M232.6 406.8h0M208.2 426.9h0M256.7 454.9h0M212.6 442.5h0M192.9 426.8h0M214.8 444.0h0M242.8 419.5h0M280.0 435.0h0M225.7 427.2h0M200.8 414.9h0M204.0 458.2h0M306.8 437.2h0M262.1 425.7h0M296.8 479.8h0M250.4 419.2h0M205.2 425.4h0M264.8 407.2h0M220.3 449.2h0M273.7 461.2h0M221.9 411.4h0M243.6 401.0h0M214.5 410.6h0M198.9 411.0h0M275.5 477.0h0M268.7 424.4h0M242.2 452.5h0M197.2 434.2h0M208.8 448.7h0M248.0 404.3h0M276.8 426.2h0M205.3 456.2h0M270.3 419.0h0M257.3 401.1h0M206.1 427.3h0M261.6 468.3h0M271.8 459.2h0M193.6 384.9h0M221.0 476.6h0M282.1 437.3h0M273.1 475.9h0M206.1 418.1h0M230.0 433.2h0M271.7 470.9h0M189.6 439.1h0M250.0 387.2h0M241.7 452.9h0M278.4 420.1h0M212.6 448.6h0M246.2 390.9h0M209.6 447.4h0M186.7 416.6h0M258.5 459.1h0M241.1 479.6h0M251.4 413.6h0M254.4 432.0h0M253.9 432.0h0M202.9 403.8h0M225.6 448.5h0M288.1 439.0h0M272.5 476.7h0M223.7 391.8h0M267.1 452.8h0M235.8 478.3h0M259.0 401.5h0M215.5 492.7h0M204.5 420.6h0M218.1 452.0h0M234.1 479.1h0M254.8 468.0h0M249.6 422.5h0M238.9 433.0h0M266.6 422.8h0M279.0 474.0h0M225.5 389.5h0M200.9 411.5h0M203.5 434.9h0M195.9 393.2h0M240.3 477.1h0M286.3 471.0h0M200.6 396.9h0M237.6 403.8h0M219.1 414.8h0M234.1 440.6h0M226.8 424.3h0M202.3 423.4h0M287.3 442.4h0M245.2 434.5h0M317.4 466.4h0M232.5 487.6h0M247.4 387.7h0M246.4 481.5h0M322.5 439.9h0M273.8 430.5h0M258.4 473.1h0M216.9 436.2h0M241.1 403.5h0M277.6 455.1h0M283.0 470.7h0M228.1 382.0h0M217.5 445.8h0M258.6 469.2h0M259.5 390.4h0" stroke="#e58fab" stroke-opacity="0.16" stroke-width="2.7" stroke-linecap="round" fill="none"/>
<path d="M237.7 469.7h0M313.0 456.7h0M261.4 476.7h0M213.4 393.4h0M195.1 445.3h0M233.8 393.1h0M207.0 437.4h0M225.2 395.9h0M196.5 424.0h0M308.2 443.4h0M180.7 472.5h0M198.8 411.9h0M196.9 389.3h0M245.6 473.1h0M257.4 477.6h0M272.9 412.2h0M221.9 465.9h0M259.0 451.5h0M218.9 396.8h0M282.3 420.7h0M197.5 408.5h0M261.6 490.9h0M233.2 386.6h0M251.2 478.9h0M312.5 426.6h0M213.5 438.8h0M260.6 487.7h0M289.5 447.0h0M272.1 416.6h0M203.2 427.0h0M227.4 406.3h0M291.4 441.4h0M210.7 452.5h0M189.6 420.3h0M244.4 472.4h0M278.1 435.9h0M255.7 435.2h0M296.8 418.1h0M264.1 465.5h0M229.0 476.7h0M218.2 432.7h0M222.9 450.7h0M221.5 451.6h0M286.6 442.0h0M211.8 436.6h0M227.6 457.8h0M294.6 437.2h0M230.6 419.6h0M260.0 466.5h0M204.5 456.2h0M281.0 450.4h0M260.3 459.3h0M320.3 438.9h0M239.8 463.7h0M197.4 405.2h0M237.5 404.1h0M258.2 478.1h0M321.0 448.6h0M268.2 481.4h0M238.1 433.6h0M252.3 394.6h0M205.1 393.5h0M254.9 478.5h0M212.0 389.5h0M303.2 422.4h0M224.4 415.3h0M312.2 440.0h0M254.6 471.3h0M243.1 422.5h0M292.2 432.7h0M305.6 446.7h0M261.8 469.7h0M213.3 434.2h0M268.1 482.1h0M226.0 470.3h0M245.3 398.4h0M273.4 480.8h0M266.6 434.6h0M232.5 480.0h0M258.2 469.2h0M191.1 486.9h0M232.1 442.8h0M262.5 479.2h0M212.3 400.6h0M297.4 429.7h0M201.7 446.2h0M210.2 426.6h0M282.0 438.3h0M307.5 456.7h0M217.2 406.2h0M282.1 404.9h0M257.9 467.5h0M277.4 405.4h0M226.3 441.5h0M207.9 460.4h0M294.1 480.9h0M249.6 490.0h0M210.0 417.6h0M203.4 417.8h0M284.2 447.9h0M281.5 456.1h0M217.7 424.9h0M204.3 434.7h0M229.9 431.6h0M223.8 453.4h0M211.0 445.3h0M299.1 467.3h0M224.2 443.2h0M190.5 428.2h0M253.0 393.6h0M215.9 428.2h0M207.4 436.0h0M221.2 426.9h0M303.8 434.6h0M208.3 400.7h0M221.6 459.6h0M189.7 412.8h0M218.5 417.7h0M228.6 387.8h0M275.0 456.6h0M214.5 416.1h0M261.4 471.0h0M212.9 423.2h0M253.5 463.1h0M206.6 396.1h0M213.3 432.3h0M281.4 424.5h0M266.3 442.4h0M215.6 409.5h0M248.6 488.7h0M260.0 490.1h0M299.6 463.7h0M216.9 472.2h0M266.9 433.7h0M250.4 420.2h0M212.7 383.9h0M245.2 411.9h0M214.8 435.6h0M192.6 420.3h0M249.6 497.1h0M297.7 454.5h0M197.6 426.4h0M276.8 484.8h0M249.1 410.7h0M287.7 472.1h0M238.0 450.8h0M218.0 387.9h0M218.0 482.3h0M238.8 457.6h0M292.1 448.1h0M266.5 397.9h0M192.3 425.0h0M240.6 454.2h0M238.2 449.4h0M245.4 480.8h0M278.7 456.0h0M197.2 411.2h0M287.4 418.7h0M247.4 469.4h0M258.9 436.2h0M208.9 429.1h0M229.0 403.9h0M239.0 463.9h0M277.0 429.0h0M232.7 398.0h0M199.8 425.2h0M284.2 466.9h0M289.9 476.2h0M276.4 456.7h0M313.5 457.1h0M260.4 424.5h0M268.2 412.1h0M257.6 405.1h0M208.2 473.0h0M235.9 490.1h0M282.7 471.3h0M203.0 420.4h0M241.1 468.8h0M283.7 462.9h0M265.6 435.8h0M273.0 474.1h0M282.9 411.5h0M270.5 404.9h0M292.0 443.3h0M218.4 415.1h0M258.3 407.5h0M303.4 435.6h0M223.9 390.6h0M272.1 463.0h0M248.7 473.5h0M301.1 462.2h0M247.3 402.7h0M278.0 470.3h0M220.8 453.7h0M243.3 474.8h0M232.1 430.5h0M246.0 431.0h0M222.8 430.0h0M222.6 390.4h0M234.6 466.8h0M292.8 469.7h0M264.4 483.8h0M274.9 422.4h0M285.1 476.6h0M249.4 408.2h0M255.7 472.7h0M233.8 466.8h0M250.0 469.6h0M300.9 454.1h0M210.2 449.1h0M244.4 397.9h0M252.8 431.6h0M203.1 466.0h0M279.5 474.8h0M230.2 430.6h0M257.4 434.7h0M190.7 401.9h0M230.0 477.4h0M292.6 469.9h0M311.9 466.0h0M286.0 449.0h0M310.1 456.5h0M204.9 409.9h0M261.8 442.2h0M210.7 405.9h0M227.5 436.2h0M308.4 456.5h0M234.9 469.1h0M259.5 421.6h0M259.7 401.4h0M215.8 408.8h0M191.9 424.8h0M277.6 429.6h0M253.6 398.9h0M207.2 455.3h0M209.3 396.7h0M227.3 439.6h0M281.5 455.9h0M229.3 395.5h0M297.6 424.5h0M309.6 444.8h0M238.5 442.4h0M203.5 445.2h0M197.0 390.9h0M281.5 444.8h0M265.6 404.0h0M231.3 452.9h0M215.2 385.7h0M213.5 392.3h0M231.2 399.9h0M218.1 464.6h0M212.1 473.7h0M187.9 483.1h0M274.7 471.9h0M193.4 379.4h0M237.3 471.3h0M207.2 397.0h0M292.7 446.1h0M304.3 437.7h0M229.4 396.1h0M198.9 432.8h0M307.9 458.4h0M195.7 404.1h0M294.7 456.1h0M227.0 410.9h0M295.9 446.1h0M254.1 403.7h0M229.2 447.7h0M233.5 422.8h0M258.6 475.2h0M185.0 467.5h0M237.6 482.0h0" stroke="#e58fab" stroke-opacity="0.16" stroke-width="2.7" stroke-linecap="round" fill="none"/>
<path d="M240.2 437.7h0M281.8 453.0h0M226.8 437.5h0M208.0 476.9h0M205.2 428.2h0M297.8 465.2h0M253.4 393.7h0M284.3 416.5h0M218.1 408.5h0M261.0 432.2h0M207.7 416.1h0M307.6 428.9h0M226.8 425.1h0M253.1 454.0h0M278.0 479.0h0M316.4 447.7h0M236.0 435.1h0M238.0 381.9h0M203.7 416.6h0M283.4 463.1h0M198.4 410.6h0M228.3 459.3h0M236.7 389.6h0M300.9 456.0h0M188.8 446.0h0M238.1 450.1h0M238.7 451.8h0M285.0 447.1h0M202.0 409.5h0M246.0 444.1h0M295.0 448.5h0M253.2 417.0h0M266.9 440.5h0M282.8 462.2h0M289.3 418.9h0M259.0 435.2h0M227.9 386.6h0M263.8 465.3h0M269.3 454.1h0M257.2 481.6h0M271.8 458.8h0M295.1 475.6h0M265.3 469.6h0M231.5 474.7h0M204.5 451.3h0M301.8 440.8h0M288.8 446.1h0M253.4 491.0h0M302.3 480.5h0M209.2 404.0h0M270.1 406.1h0M253.7 392.7h0M196.8 427.7h0M194.3 434.3h0M217.9 458.7h0M270.6 419.2h0M254.9 416.6h0M205.1 391.5h0M258.7 392.5h0M299.9 452.0h0M273.4 484.0h0M267.4 442.7h0M272.3 423.0h0M271.4 461.1h0M240.8 395.2h0M211.7 387.8h0M221.2 393.5h0M209.8 455.5h0M224.8 435.9h0M229.5 423.9h0M289.3 425.3h0M270.9 457.9h0M267.3 400.3h0M230.0 479.5h0M267.4 413.1h0M265.8 422.8h0M207.6 391.2h0M292.4 474.3h0M280.7 480.6h0M195.7 418.6h0M203.4 449.9h0M212.4 411.1h0M203.5 439.4h0M290.2 431.2h0M270.9 477.0h0M311.7 452.9h0M267.5 401.6h0M202.5 391.8h0M282.9 470.4h0M297.6 451.2h0M311.3 432.3h0M278.5 429.2h0M240.4 486.2h0M259.8 393.3h0M262.1 444.7h0M257.1 447.3h0M324.8 455.1h0M211.5 440.0h0M300.5 463.8h0M269.0 398.9h0M279.5 456.8h0M241.6 416.3h0M232.3 483.2h0M284.1 423.8h0M267.2 420.5h0M214.1 424.4h0M199.0 434.5h0M241.7 479.7h0M251.2 430.0h0M206.0 476.8h0M218.4 450.3h0M222.9 386.7h0M263.0 461.8h0M294.5 459.6h0M192.7 414.8h0M218.2 451.2h0M263.4 403.2h0M281.3 448.7h0M221.5 399.7h0M300.5 458.3h0M247.9 475.1h0M211.2 413.0h0M200.5 452.6h0M253.4 471.1h0M202.4 451.4h0M255.2 455.6h0M256.5 454.7h0M287.6 462.6h0M205.7 388.0h0M305.3 462.6h0M239.0 415.1h0M195.6 438.0h0M274.7 424.0h0M204.5 395.8h0M251.2 391.8h0M315.9 453.6h0M198.4 447.4h0M289.0 434.4h0M317.9 438.1h0M289.5 402.4h0M219.8 418.6h0M266.1 401.0h0M287.0 467.9h0M209.3 431.5h0M217.4 433.7h0M203.9 434.5h0M205.6 432.7h0M256.1 401.7h0M204.5 437.7h0M237.6 480.8h0M288.5 470.0h0M231.9 418.0h0M273.4 460.2h0M250.0 460.4h0M236.7 422.1h0M254.0 476.4h0M251.5 382.9h0M197.4 435.8h0M225.3 447.8h0M246.5 466.0h0M271.1 447.0h0M239.7 382.1h0M209.1 404.7h0M204.0 418.6h0M232.0 478.1h0M298.1 425.7h0M239.2 456.7h0M248.4 472.8h0M285.8 437.5h0M194.1 405.1h0M228.2 419.3h0M238.8 446.0h0M259.5 483.8h0M198.2 424.6h0M274.6 449.0h0M311.6 459.3h0M278.9 474.0h0M274.0 475.4h0M208.0 425.8h0M291.3 471.5h0M249.6 411.7h0M213.6 432.9h0M323.6 443.5h0M227.2 448.9h0M272.0 464.5h0M260.0 413.0h0M280.6 398.1h0M312.3 439.5h0M194.9 397.7h0M261.2 477.1h0M273.1 404.0h0M247.3 396.4h0M281.5 438.7h0M240.3 391.3h0M247.4 474.2h0M310.4 446.6h0M184.7 408.6h0M192.2 416.2h0M313.6 451.8h0M293.1 469.4h0M214.0 395.0h0M202.8 446.6h0M195.0 426.0h0M216.9 465.5h0M275.6 472.6h0M270.5 469.2h0M237.3 395.2h0M273.0 413.0h0M261.3 459.3h0M244.2 484.7h0M266.2 433.4h0M293.8 423.5h0M264.1 423.5h0M232.1 404.6h0M252.0 479.5h0M229.0 472.8h0M300.6 466.2h0M249.9 443.1h0M254.4 395.9h0M209.8 398.3h0M200.6 403.4h0M298.1 448.3h0M227.9 467.4h0M214.4 436.5h0M211.1 444.9h0M240.2 476.4h0M295.4 456.3h0M254.2 442.9h0M255.1 469.1h0M272.3 475.6h0M268.7 398.1h0M242.2 467.7h0M288.1 413.7h0M269.9 424.3h0M188.5 460.5h0M206.6 453.0h0M240.1 483.6h0M252.6 387.3h0M228.3 439.9h0M277.0 482.2h0M210.6 405.5h0M242.7 473.9h0M234.9 484.8h0M277.1 425.1h0M219.3 465.9h0M244.5 412.2h0M251.4 455.3h0M200.1 422.0h0M285.2 469.3h0M258.7 445.2h0M199.2 479.4h0M281.1 448.8h0M273.6 441.9h0M216.9 438.2h0M277.3 461.4h0M251.6 480.6h0M250.5 482.7h0M249.3 417.9h0M213.2 399.3h0M219.1 406.6h0M286.9 448.8h0M216.9 388.3h0M213.8 442.8h0M253.2 480.5h0M220.9 402.6h0M261.8 464.2h0M302.2 457.6h0M202.7 441.8h0M242.5 446.9h0M208.1 441.7h0M268.7 465.0h0M211.1 458.6h0" stroke="#e58fab" stroke-opacity="0.16" stroke-width="2.7" stroke-linecap="round" fill="none"/>
<path d="M535.0 529.0h0M592.1 545.7h0M605.3 559.3h0M531.1 534.4h0M549.2 501.1h0M589.5 492.9h0M589.8 460.6h0M644.7 539.3h0M605.6 531.2h0M535.7 512.4h0M594.2 464.9h0M637.7 536.5h0M575.3 518.0h0M595.3 466.9h0M553.7 525.8h0M687.8 494.2h0M624.5 475.8h0M636.2 536.9h0M528.0 478.2h0M569.7 481.9h0M579.6 485.8h0M537.3 541.0h0M617.1 461.4h0M632.9 538.4h0M581.4 526.4h0M583.3 534.7h0M636.3 491.4h0M573.4 544.5h0M520.7 540.7h0M552.3 496.1h0M615.1 545.8h0M565.0 547.4h0M590.7 547.9h0M576.1 550.2h0M578.3 480.6h0M555.4 524.7h0M536.4 553.1h0M547.9 475.2h0M553.2 565.5h0M568.7 471.7h0M634.8 544.7h0M523.6 504.5h0M620.0 560.4h0M626.1 493.7h0M547.0 543.3h0M641.8 494.5h0M544.6 493.5h0M622.7 507.9h0M622.3 516.3h0M524.9 534.3h0M565.5 496.5h0M625.3 461.8h0M587.7 517.9h0M628.3 461.9h0M589.4 444.2h0M527.6 525.4h0M609.6 523.4h0M556.9 564.0h0M554.9 509.5h0M627.6 491.3h0M584.6 493.7h0M619.9 529.1h0M585.3 487.5h0M549.7 527.0h0M598.3 516.0h0M546.4 527.7h0M601.8 502.6h0M502.4 523.0h0M613.8 518.5h0M543.7 491.8h0M579.0 530.1h0M590.0 500.6h0M644.4 466.2h0M518.6 529.7h0M529.4 513.9h0M539.4 480.7h0M618.5 468.1h0M535.6 551.7h0M596.7 556.0h0M620.2 473.4h0M578.6 536.0h0M597.5 487.5h0M564.2 472.5h0M597.3 459.9h0M555.1 470.5h0M595.0 543.9h0M531.8 552.0h0M582.6 494.6h0M649.5 561.8h0M583.3 516.1h0M604.4 558.7h0M564.3 486.0h0M641.0 547.7h0M574.0 559.8h0M529.5 539.1h0M513.2 504.2h0M592.0 564.7h0M552.6 557.5h0M551.9 546.2h0M525.0 534.0h0M644.2 482.8h0M628.9 499.3h0M528.4 520.7h0M570.7 538.5h0M567.4 520.2h0M602.3 489.0h0M536.8 484.5h0M599.8 570.4h0M605.8 531.3h0M601.8 543.7h0M651.3 516.0h0M533.5 537.8h0M654.2 493.5h0M646.5 555.1h0M637.4 472.7h0M584.5 515.5h0M565.1 499.7h0M637.4 482.6h0M562.1 555.5h0M650.2 532.7h0M580.5 507.1h0M568.4 517.9h0M548.3 489.8h0M644.3 492.3h0M598.8 515.9h0M637.0 600.9h0M532.9 490.5h0M533.1 554.6h0M618.6 497.4h0M605.9 500.8h0M542.1 523.0h0M584.5 526.2h0M553.2 519.8h0M626.5 531.1h0M559.2 474.2h0M523.2 514.2h0M625.0 507.2h0M645.8 561.5h0M633.9 510.0h0M641.8 495.1h0M632.6 528.2h0M523.4 468.4h0M588.3 547.3h0M630.9 465.1h0M594.2 545.4h0M546.1 484.0h0M654.7 492.8h0M611.1 521.3h0M547.4 567.9h0M635.3 509.5h0M543.1 484.5h0M613.1 545.4h0M540.1 565.4h0M570.6 530.9h0M572.5 514.6h0M602.3 568.6h0M626.7 493.0h0M641.4 543.0h0M647.7 524.3h0M633.6 475.2h0M603.1 549.6h0M571.7 538.0h0M551.6 554.5h0M587.2 559.5h0M533.0 490.5h0M644.5 466.8h0M616.3 543.2h0M604.1 570.6h0M601.0 456.3h0M560.7 572.5h0M657.3 527.8h0M622.4 495.5h0M563.5 588.5h0M543.2 521.9h0M601.0 464.1h0M609.6 514.5h0M568.1 498.0h0M534.4 546.0h0M561.1 538.1h0M591.8 556.3h0M506.1 510.5h0M596.6 460.4h0M609.3 451.6h0M549.4 559.2h0M624.4 497.8h0M637.0 506.3h0M598.2 504.9h0M647.1 515.4h0M656.7 533.3h0M574.7 517.8h0M548.1 473.7h0M578.1 477.4h0M538.5 486.5h0M532.4 520.4h0M613.4 563.0h0M631.3 543.5h0M619.7 481.7h0M552.0 524.3h0M525.2 525.5h0M607.3 462.0h0M636.8 506.0h0M668.5 455.6h0M609.7 512.9h0M531.6 534.2h0M549.2 566.1h0M596.4 478.2h0M551.1 476.6h0M626.7 498.1h0M441.3 513.7h0M557.3 493.7h0M632.6 499.4h0M588.2 456.6h0M594.3 545.1h0M550.8 544.4h0M536.2 546.9h0M659.5 523.4h0M576.5 558.4h0M553.8 469.3h0M620.4 509.8h0M639.4 495.6h0M637.1 552.5h0M571.4 474.8h0M515.0 530.6h0M582.3 505.3h0M653.1 495.3h0M523.3 522.4h0M599.7 457.7h0M567.8 537.7h0M650.0 538.9h0M601.3 457.4h0M610.0 532.1h0M524.8 532.8h0M606.1 545.9h0M565.4 494.9h0M598.1 550.9h0M610.6 521.0h0M614.6 463.0h0M587.5 514.4h0M605.4 545.3h0M627.8 516.9h0M524.7 522.1h0M616.8 493.2h0M571.9 569.6h0M607.7 466.3h0M600.8 569.5h0M578.6 507.1h0M548.4 493.3h0M561.9 573.2h0M600.3 474.9h0M595.8 519.8h0M593.5 538.0h0M627.1 517.8h0M645.3 484.6h0M607.6 521.4h0M575.5 546.3h0M550.0 530.5h0M600.8 456.0h0M646.4 514.9h0M586.2 464.2h0M568.1 478.9h0M559.4 558.8h0M546.2 518.2h0M611.1 561.6h0M598.3 536.7h0M623.4 512.4h0M651.2 531.0h0M602.2 502.6h0M602.3 536.0h0M620.9 497.3h0M638.0 460.5h0M621.4 523.1h0M563.5 545.3h0M558.9 535.1h0M630.1 506.3h0M546.1 505.7h0M542.5 515.9h0M581.4 539.7h0M596.3 481.1h0M630.3 528.1h0M613.7 532.8h0M633.1 477.0h0M683.7 508.4h0M517.1 485.7h0M549.9 516.6h0M656.8 518.5h0M593.6 560.2h0M651.9 519.6h0M595.9 515.1h0M570.4 487.7h0M596.2 552.8h0M525.7 502.9h0M589.9 483.8h0M635.6 526.2h0M594.2 500.0h0M514.2 516.1h0M611.4 556.3h0M567.3 518.3h0M607.7 566.4h0M576.6 559.0h0M640.7 563.4h0M631.7 495.2h0M577.2 538.1h0M513.8 514.3h0M618.0 501.0h0M647.6 511.6h0M577.6 502.6h0M614.7 500.0h0M668.6 547.0h0M565.1 567.0h0M575.8 478.9h0M557.6 550.0h0M607.8 521.5h0M606.3 461.3h0M603.6 520.0h0M535.0 484.7h0M573.6 534.3h0M575.0 533.9h0M571.2 569.4h0M636.2 556.7h0M585.5 546.1h0M593.3 543.2h0M620.6 466.4h0M656.6 517.6h0M628.1 498.2h0M583.1 573.3h0M615.2 528.5h0M639.0 546.8h0M637.7 505.9h0M575.0 501.1h0M636.9 509.9h0M712.4 536.8h0M587.1 545.4h0M552.9 467.7h0M607.9 533.6h0M566.4 524.9h0M663.3 504.0h0M613.8 477.4h0M647.5 482.1h0M551.6 515.2h0M654.1 520.4h0M561.1 541.7h0M636.3 510.2h0M589.4 507.7h0M580.4 520.0h0M567.0 567.3h0M633.2 516.8h0M539.6 499.1h0M545.2 531.5h0M563.7 537.5h0M646.1 548.9h0M627.3 511.3h0M620.6 545.0h0M628.8 472.9h0M541.4 463.5h0M657.8 497.7h0M591.0 511.7h0M616.3 492.9h0M622.4 469.4h0M551.7 474.7h0M623.5 561.1h0M590.7 487.9h0M531.6 552.2h0M555.8 559.2h0M616.2 513.0h0M599.1 505.7h0M605.6 505.7h0M640.7 537.7h0M525.1 535.3h0M642.0 518.1h0M629.3 509.3h0M521.4 491.0h0M635.4 506.6h0M594.3 553.2h0M631.7 472.4h0M593.1 533.4h0M553.0 554.2h0M632.1 522.1h0M635.8 531.8h0M648.2 504.5h0M537.2 539.6h0M552.5 506.5h0M614.3 531.9h0M613.7 542.8h0M674.4 535.1h0M603.4 466.9h0M572.9 663.0h0M547.8 563.6h0M593.9 468.9h0M583.0 591.4h0M637.4 480.1h0M594.3 529.1h0M520.0 517.2h0M617.4 516.5h0M631.1 485.4h0M643.6 505.9h0M596.8 537.5h0M620.8 532.0h0M550.1 531.0h0M533.4 506.6h0M588.1 554.8h0M583.0 574.2h0M538.7 550.2h0M530.5 482.4h0M631.2 557.4h0M642.1 487.1h0M598.3 508.8h0M563.9 501.2h0M541.6 535.9h0M622.2 484.2h0M614.9 452.1h0M617.0 548.9h0M574.0 555.4h0M613.7 511.7h0M632.3 553.9h0M624.2 454.6h0M528.1 494.4h0M588.2 521.8h0M613.6 564.3h0M617.1 491.2h0M534.0 560.5h0M612.0 518.2h0M649.4 498.5h0M618.7 551.2h0M643.7 469.2h0M579.8 500.5h0M587.2 564.1h0M563.5 481.3h0M643.6 510.4h0M657.2 476.8h0M546.3 485.1h0M569.4 536.8h0M519.1 530.9h0M585.1 566.0h0M607.8 461.7h0M630.3 482.2h0" stroke="#e6896a" stroke-opacity="0.15" stroke-width="2.7" stroke-linecap="round" fill="none"/>
<path d="M612.9 494.0h0M590.6 466.9h0M466.8 524.7h0M649.5 478.3h0M600.6 547.8h0M597.4 484.8h0M546.9 495.7h0M626.8 491.8h0M630.8 502.6h0M562.0 535.6h0M578.3 493.4h0M560.8 478.8h0M559.0 559.2h0M599.8 486.8h0M560.9 491.1h0M617.4 573.6h0M622.1 507.3h0M598.7 472.2h0M633.0 518.0h0M576.9 549.9h0M567.5 515.1h0M590.5 556.4h0M511.0 518.9h0M597.0 573.7h0M561.9 544.6h0M573.6 545.0h0M606.2 545.7h0M530.0 492.9h0M571.4 461.9h0M559.6 537.5h0M589.6 557.8h0M603.7 481.6h0M604.3 528.7h0M621.8 479.3h0M591.8 459.8h0M608.3 564.8h0M508.2 503.3h0M618.9 551.8h0M525.4 552.2h0M592.4 531.8h0M516.0 494.0h0M559.8 477.9h0M544.2 476.3h0M625.7 545.2h0M588.0 548.5h0M535.2 525.8h0M556.9 502.4h0M618.5 450.4h0M590.1 566.9h0M567.0 487.9h0M563.2 511.4h0M535.9 548.1h0M580.6 470.0h0M581.5 462.8h0M627.2 459.7h0M583.4 549.3h0M605.5 485.6h0M646.6 493.3h0M589.9 555.4h0M592.4 522.8h0M564.4 540.1h0M577.2 504.1h0M611.6 548.3h0M646.5 466.0h0M605.7 542.1h0M537.6 491.5h0M529.0 510.4h0M595.6 572.9h0M554.0 547.6h0M528.2 514.3h0M626.8 496.7h0M626.1 557.3h0M542.2 540.1h0M613.1 461.8h0M524.9 518.4h0M649.9 488.0h0M652.6 480.2h0M603.9 561.6h0M629.7 503.1h0M546.7 531.5h0M579.4 459.7h0M601.6 478.6h0M512.0 506.7h0M634.6 530.9h0M541.2 532.7h0M532.0 549.4h0M535.3 560.4h0M559.8 553.8h0M574.3 459.2h0M561.5 571.0h0M656.8 533.6h0M550.0 469.9h0M520.5 495.2h0M606.4 580.2h0M587.5 569.7h0M612.0 481.4h0M523.7 517.5h0M553.0 547.9h0M569.4 568.4h0M550.6 498.8h0M543.9 531.6h0M629.7 515.7h0M556.6 497.8h0M619.1 500.7h0M516.6 509.0h0M624.4 480.0h0M557.7 522.5h0M650.4 513.3h0M545.1 496.2h0M568.9 528.7h0M649.6 541.8h0M607.9 551.9h0M646.8 501.6h0M540.6 508.8h0M578.9 534.4h0M548.7 504.2h0M634.4 559.8h0M628.1 547.8h0M566.3 490.7h0M615.8 447.3h0M571.4 562.3h0M581.7 488.9h0M586.4 536.8h0M539.8 474.9h0M627.8 500.4h0M626.0 567.1h0M560.6 466.6h0M589.6 556.3h0M575.9 542.0h0M532.3 510.5h0M589.7 536.3h0M544.9 471.1h0M662.7 535.1h0M552.9 506.6h0M624.9 480.3h0M612.4 567.8h0M569.0 472.7h0M513.2 488.8h0M527.2 496.4h0M525.5 496.7h0M603.2 477.0h0M622.5 566.0h0M648.7 542.7h0M533.2 553.2h0M541.0 539.4h0M593.4 536.6h0M635.0 558.6h0M638.4 547.8h0M586.0 484.4h0M646.4 496.2h0M562.0 498.5h0M580.2 576.5h0M551.1 556.3h0M574.9 562.5h0M619.9 528.9h0M654.8 523.0h0M637.8 502.7h0M595.0 540.4h0M607.8 508.1h0M623.6 556.0h0M558.5 554.5h0M579.2 561.1h0M605.5 460.6h0M518.9 535.9h0M560.4 510.9h0M529.9 487.7h0M615.1 535.0h0M576.0 509.4h0M659.7 552.2h0M548.6 502.7h0M600.5 562.2h0M605.3 500.3h0M552.7 531.0h0M638.7 488.7h0M564.6 512.1h0M632.6 523.2h0M573.2 554.4h0M543.5 473.0h0M622.4 569.7h0M552.1 562.1h0M641.1 532.4h0M632.4 476.6h0M616.8 539.6h0M599.6 521.9h0M565.6 528.8h0M671.3 533.0h0M611.6 545.0h0M486.0 555.9h0M589.2 512.0h0M584.6 553.6h0M575.9 561.1h0M634.6 474.7h0M583.2 494.2h0M642.2 461.7h0M605.6 515.7h0M592.4 571.7h0M586.5 571.2h0M584.4 496.7h0M637.8 545.3h0M530.2 553.0h0M580.5 541.6h0M618.9 470.3h0M640.8 542.9h0M626.8 525.1h0M630.1 483.7h0M558.5 501.5h0M593.8 523.3h0M598.1 524.7h0M604.3 511.3h0M633.9 550.4h0M650.6 472.2h0M552.6 509.6h0M580.2 493.4h0M517.9 515.7h0M611.2 512.7h0M576.7 508.8h0M550.4 500.1h0M643.6 521.8h0M571.6 572.2h0M523.0 509.8h0M667.9 511.0h0M650.1 488.1h0M616.4 532.6h0M522.9 529.5h0M530.5 493.4h0M562.9 501.7h0M600.8 493.9h0M591.8 519.3h0M543.2 554.8h0M655.0 489.9h0M637.2 482.3h0M567.9 480.2h0M579.2 510.7h0M579.7 552.0h0M641.4 495.8h0M603.5 556.9h0M583.4 471.4h0M611.0 567.0h0M605.5 566.1h0M627.8 478.2h0M569.7 534.3h0M742.3 567.8h0M646.7 481.1h0M627.4 478.7h0M656.9 539.1h0M625.1 541.9h0M595.3 495.2h0M559.3 524.7h0M622.4 520.5h0M553.7 542.1h0M540.4 567.7h0M595.7 550.1h0M615.1 469.0h0M703.9 544.2h0M526.1 539.5h0M579.7 485.3h0M617.3 471.3h0M581.6 475.3h0M519.8 504.5h0M585.2 565.9h0M583.0 463.7h0M568.3 544.2h0M623.2 554.0h0M565.9 542.5h0M561.0 564.5h0M552.9 550.3h0M576.0 558.7h0M566.6 523.4h0M545.1 524.2h0M537.6 519.5h0M555.1 554.7h0M571.1 552.1h0M580.2 489.5h0M517.5 483.6h0M588.5 515.2h0M608.5 460.5h0M619.5 545.9h0M568.8 497.0h0M578.1 497.1h0M600.3 553.0h0M635.2 476.7h0M627.4 520.8h0M645.7 535.3h0M649.9 522.5h0M533.8 502.5h0M588.4 597.3h0M534.9 567.5h0M558.1 502.4h0M618.6 511.0h0M568.6 552.2h0M510.4 522.8h0M567.5 539.6h0M531.2 558.5h0M642.6 549.1h0M546.0 506.4h0M639.8 532.8h0M575.0 536.8h0M579.6 470.8h0M584.7 468.4h0M611.3 508.6h0M595.0 502.8h0M551.0 484.5h0M591.0 569.1h0M524.8 523.5h0M616.4 460.5h0M510.0 522.2h0M645.6 469.2h0M588.1 455.6h0M558.0 552.9h0M630.4 501.6h0M604.5 515.9h0M624.1 505.9h0M526.3 529.0h0M548.7 509.1h0M530.0 546.3h0M624.6 460.5h0M643.0 510.2h0M598.8 486.1h0M660.3 543.1h0M520.5 532.7h0M645.3 537.3h0M588.1 562.2h0M536.4 544.4h0M526.3 506.8h0M592.4 558.1h0M635.9 464.1h0M532.1 542.6h0M517.6 438.3h0M541.4 524.0h0M575.9 533.0h0M644.0 518.1h0M586.3 496.0h0M587.1 586.8h0M560.8 488.9h0M524.3 523.5h0M541.1 552.4h0M586.3 513.3h0M568.2 463.2h0M527.9 492.6h0M588.1 503.1h0M633.3 560.1h0M585.9 545.4h0M567.9 478.5h0M570.2 509.5h0M543.3 525.5h0M609.4 492.3h0M552.4 487.0h0M607.7 559.9h0M616.3 522.8h0M548.3 553.2h0M659.1 488.4h0M600.6 535.2h0M522.7 516.2h0M571.1 551.5h0M513.9 515.8h0M594.0 529.8h0M533.2 502.5h0M571.0 558.5h0M582.9 569.4h0M622.4 569.1h0M611.1 565.9h0M570.2 542.4h0M603.2 474.4h0M610.0 539.1h0M545.6 552.4h0M647.4 528.5h0M548.5 532.3h0M569.9 514.6h0M569.0 510.0h0M532.1 489.4h0M534.6 485.9h0M610.2 461.1h0M565.4 497.6h0M520.3 522.6h0M514.7 500.0h0M524.6 541.0h0M631.7 535.5h0M584.8 530.1h0M632.3 466.7h0M580.5 463.3h0M648.5 545.4h0M630.7 465.6h0M565.7 514.1h0M572.4 489.7h0M551.0 488.7h0M623.3 459.4h0M589.2 570.5h0M537.3 494.8h0M581.7 466.3h0M656.7 506.7h0M515.1 529.0h0M550.0 562.6h0M639.4 511.8h0M535.9 483.1h0M583.8 475.0h0M531.1 483.4h0M612.8 539.9h0M646.4 481.7h0M552.2 523.7h0M547.3 542.8h0M619.7 506.7h0M587.2 515.8h0M602.0 515.7h0M633.2 462.7h0M632.3 546.2h0M586.3 543.3h0M539.2 489.0h0M593.6 498.9h0M534.4 495.8h0M545.4 524.5h0M515.6 512.2h0M536.5 533.4h0M580.2 555.6h0M600.2 485.9h0M559.4 516.9h0M616.0 541.9h0M624.2 561.6h0M565.5 487.2h0M581.5 577.8h0M597.4 461.5h0M540.4 505.0h0M636.5 540.3h0M608.6 588.3h0M633.2 478.4h0M611.3 451.7h0M605.4 527.2h0M582.2 476.2h0M658.2 480.1h0M573.2 506.5h0M509.9 528.0h0M639.7 499.6h0M628.4 508.6h0M568.1 529.1h0M615.6 485.2h0M619.7 494.6h0" stroke="#e6896a" stroke-opacity="0.15" stroke-width="2.7" stroke-linecap="round" fill="none"/>
<path d="M511.1 520.5h0M530.1 482.6h0M635.3 496.0h0M530.8 533.9h0M548.1 532.5h0M606.8 526.7h0M583.3 534.0h0M548.0 482.2h0M634.4 471.6h0M552.9 508.0h0M639.3 490.7h0M618.5 508.4h0M547.3 483.1h0M634.8 564.8h0M648.5 477.1h0M548.6 520.0h0M648.8 549.2h0M609.0 464.0h0M607.1 532.0h0M550.9 512.3h0M653.2 533.7h0M542.0 517.1h0M530.6 519.2h0M543.9 499.1h0M589.5 562.0h0M593.0 543.0h0M648.6 551.8h0M566.8 510.6h0M536.4 513.5h0M558.8 569.4h0M625.7 522.2h0M599.1 489.3h0M592.4 465.7h0M506.1 539.4h0M547.9 556.0h0M552.5 465.1h0M628.4 490.6h0M664.7 544.8h0M581.4 469.4h0M634.8 522.8h0M598.5 477.8h0M615.0 512.7h0M618.5 461.2h0M552.3 472.6h0M558.1 551.3h0M595.8 530.3h0M559.2 567.0h0M564.3 495.6h0M538.7 522.2h0M589.8 532.2h0M591.7 548.2h0M558.0 554.5h0M587.4 484.2h0M558.3 521.8h0M552.3 516.9h0M647.3 537.7h0M636.2 502.5h0M541.7 479.3h0M572.9 532.8h0M622.3 473.1h0M591.2 546.5h0M564.0 498.3h0M537.4 485.4h0M576.2 460.9h0M531.2 526.4h0M614.7 467.2h0M592.9 496.4h0M568.4 544.8h0M571.2 555.9h0M557.6 415.4h0M581.1 541.0h0M506.6 453.1h0M513.5 506.2h0M643.5 470.2h0M596.7 466.6h0M568.5 505.6h0M594.7 577.5h0M644.3 502.6h0M580.7 561.0h0M654.2 535.2h0M559.1 565.5h0M611.9 496.8h0M533.1 528.4h0M529.3 521.5h0M574.0 474.1h0M581.0 519.7h0M582.2 465.7h0M606.7 459.6h0M606.3 504.9h0M516.2 540.0h0M639.6 477.0h0M597.6 481.7h0M596.2 485.7h0M557.5 552.9h0M613.6 526.3h0M591.1 572.1h0M639.7 504.1h0M633.5 553.6h0M624.1 491.8h0M646.1 533.6h0M601.4 464.9h0M610.9 472.5h0M528.6 548.2h0M551.1 522.7h0M558.8 522.4h0M625.7 507.8h0M559.5 510.2h0M538.5 545.6h0M629.8 536.7h0M599.0 511.2h0M586.3 487.4h0M685.9 509.5h0M524.3 521.7h0M590.8 486.4h0M597.2 507.9h0M597.7 515.1h0M514.3 518.7h0M667.1 525.7h0M583.7 495.3h0M603.3 478.2h0M589.3 492.1h0M570.7 475.9h0M596.5 536.9h0M614.0 547.4h0M624.0 526.7h0M621.5 482.3h0M591.6 540.7h0M621.8 483.2h0M646.8 560.6h0M581.9 487.5h0M550.6 475.5h0M552.6 489.5h0M618.7 520.5h0M538.4 544.5h0M642.8 552.5h0M604.3 479.2h0M623.3 486.7h0M552.9 525.1h0M592.2 508.5h0M571.7 492.3h0M600.8 539.7h0M615.9 529.9h0M614.9 553.6h0M618.8 510.1h0M582.0 526.2h0M550.4 501.5h0M550.3 528.1h0M494.5 504.9h0M590.0 483.5h0M642.7 554.2h0M626.5 536.9h0M598.4 553.1h0M553.0 567.2h0M498.8 510.0h0M589.7 506.2h0M600.2 539.4h0M677.9 521.5h0M648.3 542.2h0M583.6 489.7h0M611.5 558.6h0M596.0 495.9h0M616.1 553.1h0M610.7 560.0h0M640.7 539.7h0M646.3 533.3h0M603.5 565.8h0M515.8 527.7h0M602.1 558.3h0M594.3 521.7h0M644.7 501.4h0M603.5 482.3h0M563.6 545.5h0M578.5 466.9h0M593.3 521.8h0M628.3 502.7h0M585.0 547.1h0M591.5 561.4h0M584.8 550.9h0M573.2 491.4h0M578.9 573.0h0M641.3 465.6h0M587.6 483.4h0M562.8 548.3h0M566.8 537.7h0M518.3 538.0h0M607.4 563.0h0M533.5 505.5h0M610.1 559.5h0M645.0 479.5h0M522.0 551.9h0M582.9 496.7h0M578.9 515.9h0M575.2 487.3h0M603.3 545.2h0M592.5 543.0h0M604.0 532.0h0M596.1 511.1h0M651.0 497.4h0M632.9 516.9h0M622.0 465.4h0M582.5 496.8h0M642.9 543.2h0M636.8 473.9h0M557.3 524.7h0M530.8 507.0h0M527.1 498.9h0M611.6 540.1h0M620.4 528.7h0M639.0 482.9h0M519.7 547.0h0M652.1 510.3h0M645.9 501.5h0M517.3 516.4h0M580.5 477.3h0M643.6 516.8h0M639.3 476.8h0M563.4 536.4h0M618.5 571.5h0M549.8 522.5h0M589.4 564.8h0M588.6 540.8h0M613.0 468.6h0M617.1 503.4h0M517.8 491.4h0M549.5 544.3h0M527.4 518.3h0M569.5 557.0h0M640.6 467.9h0M608.8 430.0h0M629.7 533.8h0M589.7 555.1h0M630.9 505.2h0M616.1 524.9h0M556.2 489.2h0M584.9 575.5h0M572.6 528.8h0M611.0 549.2h0M601.4 487.5h0M515.7 509.3h0M533.3 523.6h0M540.6 499.3h0M617.3 456.0h0M606.3 466.4h0M552.8 553.9h0M537.0 518.0h0M526.7 477.8h0M568.1 552.9h0M624.6 557.4h0M576.1 499.9h0M574.9 516.6h0M630.4 483.3h0M606.7 565.5h0M631.9 475.2h0M679.6 482.4h0M597.7 550.9h0M544.5 492.7h0M653.5 489.0h0M616.9 554.5h0M594.2 530.1h0M603.1 560.6h0M592.4 512.5h0M563.8 486.1h0M660.5 513.3h0M587.2 544.3h0M638.8 516.0h0M648.0 549.8h0M533.7 527.5h0M590.2 492.5h0M604.4 547.7h0M610.0 523.0h0M620.9 535.5h0M535.3 502.1h0M544.0 508.8h0M537.0 509.0h0M535.0 512.0h0M646.4 482.7h0M600.7 510.9h0M600.2 516.4h0M565.8 470.7h0M627.2 509.7h0M576.6 531.2h0M572.7 486.9h0M544.9 562.2h0M573.6 560.8h0M616.3 494.9h0M592.3 549.7h0M611.0 500.2h0M563.8 504.3h0M537.1 521.1h0M613.6 453.2h0M608.1 561.3h0M581.4 573.9h0M575.6 482.9h0M578.7 530.4h0M575.3 571.6h0M495.4 577.3h0M562.2 503.8h0M578.3 546.5h0M627.9 553.9h0M617.7 616.4h0M538.5 543.1h0M655.0 517.5h0M653.8 519.6h0M621.4 569.1h0M601.2 551.5h0M592.2 463.4h0M585.3 554.0h0M626.5 541.9h0M609.6 506.0h0M516.4 512.0h0M570.6 489.9h0M531.4 498.1h0M609.7 545.5h0M643.6 549.0h0M548.5 559.3h0M536.8 524.6h0M578.9 564.3h0M651.0 504.4h0M593.1 574.1h0M480.2 498.1h0M605.4 481.7h0M551.5 560.0h0M524.7 491.7h0M654.8 514.0h0M628.2 487.7h0M612.9 540.4h0M583.1 485.5h0M559.4 515.3h0M590.9 509.3h0M584.7 567.8h0M599.6 506.9h0M441.7 521.9h0M525.6 517.9h0M571.3 496.9h0M586.0 496.4h0M589.5 525.4h0M616.8 501.3h0M532.1 475.5h0M636.9 474.0h0M567.3 544.6h0M590.4 529.2h0M621.8 554.6h0M633.6 522.9h0M597.8 481.0h0M586.2 479.0h0M584.3 534.6h0M647.2 506.2h0M541.6 488.6h0M529.5 529.2h0M563.1 560.5h0M627.6 509.1h0M528.5 505.5h0M610.7 562.3h0M623.3 501.2h0M586.9 525.1h0M520.5 523.6h0M551.4 496.4h0M618.1 558.8h0M560.7 464.3h0M584.5 521.1h0M584.4 489.6h0M612.6 457.4h0M578.4 528.9h0M563.9 550.4h0M610.3 469.9h0M675.1 472.9h0M587.2 536.6h0M597.5 533.0h0M520.8 508.3h0M631.0 530.2h0M648.6 511.6h0M632.4 539.2h0M646.5 498.0h0M634.1 477.5h0M541.0 556.5h0M545.3 551.3h0M622.8 571.7h0M609.1 474.7h0M606.9 564.9h0M626.7 481.9h0M595.1 483.0h0M612.5 528.0h0M543.5 503.1h0M606.2 559.0h0M656.8 513.4h0M636.3 522.8h0M600.4 516.2h0M594.4 568.4h0M595.5 472.2h0M634.4 516.8h0M630.4 501.5h0M641.5 535.0h0M524.5 536.2h0M524.4 516.6h0M531.8 572.8h0M596.8 475.9h0M576.7 467.1h0M583.2 537.0h0M600.8 573.5h0M596.6 526.5h0M610.7 554.2h0M584.4 539.0h0M632.2 521.3h0M579.9 479.9h0M633.5 513.2h0M653.1 498.8h0M577.7 594.3h0M648.2 461.3h0M595.7 529.1h0M554.3 526.5h0M619.2 529.6h0M568.6 559.5h0M617.1 511.7h0M526.3 518.3h0M637.6 472.0h0M534.2 517.2h0M610.4 496.8h0M557.6 552.8h0M579.6 491.0h0M589.1 534.7h0M635.1 547.0h0M533.1 531.4h0M546.8 543.7h0M538.9 490.6h0M588.5 492.1h0M606.2 489.0h0M645.1 476.2h0M587.4 499.9h0M592.0 517.9h0M640.7 460.4h0M594.6 550.6h0M573.4 518.4h0M650.0 530.7h0M561.3 546.1h0M572.1 491.3h0" stroke="#e6896a" stroke-opacity="0.15" stroke-width="2.7" stroke-linecap="round" fill="none"/>
<path d="M639.6 535.2h0M531.1 533.3h0M596.9 506.8h0M646.6 539.2h0M606.6 458.6h0M562.9 550.6h0M575.5 572.5h0M627.1 545.2h0M628.0 518.4h0M586.6 547.0h0M571.3 509.2h0M637.2 482.9h0M574.6 549.9h0M524.6 528.3h0M649.7 469.9h0M573.6 487.0h0M605.7 553.5h0M630.2 535.2h0M590.1 547.3h0M646.3 537.3h0M643.9 532.2h0M530.8 504.0h0M543.9 510.7h0M625.2 520.3h0M588.1 504.9h0M538.7 514.4h0M626.2 540.0h0M639.6 474.5h0M595.8 484.8h0M638.1 521.6h0M509.3 501.0h0M535.2 559.1h0M553.2 538.7h0M582.7 553.1h0M584.5 492.5h0M671.7 480.8h0M526.1 493.9h0M640.3 479.0h0M537.4 487.8h0M641.8 518.8h0M644.4 495.0h0M546.9 520.5h0M606.7 471.9h0M585.1 492.5h0M574.3 541.3h0M617.9 569.6h0M624.2 533.2h0M604.0 527.4h0M511.0 501.2h0M549.7 490.7h0M590.5 504.3h0M597.0 573.2h0M597.1 552.6h0M631.4 541.8h0M585.6 516.9h0M574.3 474.7h0M517.2 481.9h0M637.9 530.8h0M570.7 572.3h0M584.0 538.0h0M632.0 538.1h0M599.3 510.5h0M546.8 543.7h0M606.4 534.8h0M551.6 554.5h0M650.0 488.8h0M621.2 534.9h0M620.0 520.5h0M539.7 569.9h0M584.6 489.4h0M565.9 534.3h0M620.0 552.4h0M557.3 520.3h0M643.5 493.7h0M556.6 526.9h0M540.9 496.2h0M580.7 460.4h0M613.7 463.5h0M589.1 530.1h0M558.5 508.9h0M536.6 512.5h0M641.1 534.3h0M607.4 527.1h0M566.7 516.9h0M571.6 515.9h0M655.7 516.5h0M519.9 512.8h0M622.4 474.4h0M599.2 508.8h0M652.0 485.2h0M495.7 521.7h0M635.4 551.8h0M620.9 523.9h0M530.2 506.7h0M555.1 556.9h0M628.2 530.3h0M616.2 477.3h0M613.0 540.0h0M638.0 537.8h0M595.5 546.9h0M609.7 546.5h0M607.9 567.6h0M559.0 542.0h0M618.2 534.6h0M582.9 496.8h0M658.5 526.6h0M572.9 515.7h0M612.1 493.0h0M575.9 572.1h0M512.0 504.6h0M611.5 510.3h0M569.8 532.6h0M621.3 518.2h0M553.3 496.8h0M582.3 488.1h0M545.0 502.7h0M569.6 539.5h0M624.5 471.9h0M601.8 498.0h0M609.4 511.4h0M519.4 535.9h0M531.5 489.1h0M576.9 516.7h0M579.5 484.3h0M532.7 503.3h0M612.2 479.4h0M580.4 547.9h0M606.1 535.8h0M649.5 509.0h0M540.8 500.8h0M586.4 573.8h0M628.7 492.2h0M629.7 462.7h0M600.5 507.9h0M635.3 512.4h0M518.8 539.5h0M563.1 537.8h0M613.6 507.6h0M585.2 508.1h0M655.9 519.3h0M557.8 489.2h0M607.8 463.5h0M492.0 545.4h0M600.7 453.6h0M571.5 487.4h0M669.8 543.1h0M630.8 485.7h0M617.1 535.7h0M557.4 570.7h0M561.9 490.2h0M636.6 487.3h0M509.1 486.7h0M603.4 556.1h0M580.9 509.4h0M554.6 543.9h0M658.0 504.7h0M631.4 509.3h0M528.4 510.7h0M599.3 557.8h0M589.1 525.6h0M519.8 542.1h0M565.7 526.7h0M548.9 528.9h0M563.9 494.4h0M592.0 537.0h0M605.6 498.9h0M646.9 545.6h0M503.0 540.1h0M576.0 518.8h0M637.6 520.1h0M529.1 523.9h0M627.7 556.7h0M569.5 574.8h0M564.6 490.1h0M640.7 511.2h0M579.9 478.3h0M606.4 571.0h0M636.4 495.0h0M621.7 568.0h0M626.4 526.1h0M598.0 520.2h0M585.6 466.0h0M606.9 537.2h0M545.1 565.0h0M570.0 508.9h0M527.6 549.9h0M611.8 551.6h0M574.9 563.7h0M550.3 495.7h0M610.6 460.2h0M595.3 468.1h0M639.4 497.1h0M586.6 461.7h0M628.9 477.9h0M601.2 529.1h0M607.2 459.1h0M576.5 510.7h0M587.5 515.9h0M625.1 515.2h0M625.8 534.6h0M589.6 526.9h0M579.9 490.7h0M539.4 556.8h0M601.1 518.6h0M608.5 486.5h0M529.7 547.3h0M628.2 560.6h0M536.9 507.7h0M624.8 556.3h0M551.4 545.8h0M570.7 510.1h0M576.5 523.9h0M613.0 568.6h0M638.4 476.7h0M582.6 501.5h0M615.7 483.4h0M536.2 570.2h0M608.8 560.9h0M615.9 519.8h0M628.7 570.3h0M561.6 551.6h0M611.7 498.7h0M603.4 509.9h0M640.0 527.1h0M633.5 548.8h0M600.1 528.0h0M633.2 491.2h0M632.6 536.2h0M604.7 492.5h0M565.3 517.1h0M587.7 574.6h0M614.6 555.3h0M548.9 515.4h0M544.9 559.3h0M649.9 477.0h0M630.6 561.0h0M634.1 527.3h0M592.4 545.7h0M574.5 544.7h0M564.5 562.3h0M561.7 518.2h0M622.3 465.1h0M561.5 475.2h0M584.7 519.1h0M570.3 519.7h0M537.6 499.1h0M644.2 469.1h0M526.6 483.9h0M527.2 492.4h0M551.4 513.0h0M584.2 526.8h0M537.2 498.9h0M597.5 524.8h0M645.4 515.0h0M604.9 562.1h0M548.9 565.9h0M564.6 545.5h0M599.9 530.1h0M637.3 507.1h0M549.3 546.6h0M575.5 468.7h0M527.8 540.3h0M607.6 515.0h0M638.3 504.3h0M624.8 504.9h0M624.4 489.1h0M621.8 461.2h0M582.4 517.8h0M607.4 519.8h0M638.7 462.6h0M625.2 529.4h0M557.3 470.7h0M601.5 454.8h0M529.9 477.9h0M648.7 510.0h0M564.1 548.1h0M525.8 500.4h0M623.4 468.9h0M644.0 474.7h0M621.7 471.9h0M517.2 532.8h0M644.6 478.9h0M541.3 542.8h0M608.2 542.2h0M508.8 533.5h0M621.8 505.5h0M622.7 458.0h0M618.4 521.5h0M566.3 517.5h0M606.2 474.0h0M612.0 513.1h0M607.2 483.3h0M570.2 577.1h0M637.5 532.0h0M586.1 547.5h0M601.6 479.4h0M560.3 484.0h0M654.5 522.0h0M589.4 496.0h0M622.4 535.8h0M583.4 492.9h0M545.1 473.0h0M555.7 567.7h0M528.9 547.0h0M661.0 499.7h0M587.2 475.5h0M622.0 459.4h0M554.5 561.9h0M619.0 470.0h0M522.6 486.7h0M647.2 521.4h0M593.7 539.7h0M585.5 512.2h0M626.7 507.3h0M569.0 543.7h0M560.1 533.8h0M532.4 549.5h0M602.9 495.5h0M602.3 470.5h0M607.8 560.4h0M546.2 556.0h0M525.8 500.7h0M601.0 460.6h0M562.7 570.7h0M597.8 484.0h0M577.1 551.9h0M592.9 518.8h0M571.5 480.3h0M518.2 515.9h0M579.9 461.3h0M581.4 462.8h0M637.7 490.0h0M609.7 470.8h0M661.5 498.6h0M604.8 471.6h0M539.2 567.0h0M650.8 473.4h0M620.0 533.5h0M585.4 501.0h0M573.6 559.7h0M654.7 496.4h0M577.8 516.3h0M641.8 539.1h0M622.2 489.2h0M543.7 558.8h0M549.0 553.8h0M631.5 533.4h0M600.6 518.6h0M641.1 464.9h0M632.8 474.9h0M564.7 537.1h0M611.3 534.6h0M592.2 520.3h0M522.9 485.7h0M609.3 511.8h0M502.3 510.2h0M592.9 465.8h0M617.2 565.8h0M619.0 544.7h0M603.3 502.0h0M626.2 534.4h0M614.5 529.2h0M556.2 545.3h0M582.9 547.0h0M546.0 502.8h0M558.5 525.4h0M514.0 493.6h0M574.8 548.9h0M578.0 533.3h0M606.2 524.6h0M655.6 525.2h0M649.4 511.1h0M629.6 453.5h0M562.2 536.9h0M636.5 469.8h0M579.9 552.1h0M622.5 505.7h0M511.3 510.7h0M644.9 474.4h0M554.3 525.9h0M647.0 515.8h0M556.0 508.6h0M576.1 529.0h0M594.2 560.9h0M514.9 487.7h0M538.7 547.7h0M625.5 461.7h0M602.8 536.8h0M716.3 540.6h0M609.8 555.5h0M585.9 494.7h0M617.3 555.8h0M523.7 543.1h0M595.4 571.5h0M560.9 515.8h0M575.6 480.6h0M628.3 497.9h0M610.4 564.7h0M636.1 457.3h0M565.3 530.7h0M609.1 521.4h0M619.4 487.1h0M594.1 477.7h0M530.7 534.3h0M643.9 538.6h0M537.4 495.9h0M632.0 455.9h0M594.7 518.1h0M628.3 470.0h0M600.8 562.0h0M566.7 547.8h0M606.4 472.6h0M685.5 522.2h0M590.5 535.8h0M571.3 540.0h0M594.9 547.1h0M641.4 536.5h0M559.8 515.2h0M644.7 494.7h0M543.2 558.8h0M568.3 534.4h0M514.3 531.0h0M569.1 472.3h0M558.6 496.7h0M640.3 547.1h0M656.9 491.3h0M532.8 538.1h0M561.6 487.8h0M537.0 501.0h0M635.1 466.9h0M618.9 558.4h0M625.0 546.4h0M577.3 486.7h0M570.4 559.4h0M604.5 473.7h0" stroke="#e6896a" stroke-opacity="0.15" stroke-width="2.7" stroke-linecap="round" fill="none"/>
<path d="M572.3 433.5h0M514.7 450.6h0M585.5 445.1h0M537.6 443.5h0M573.7 523.8h0M618.8 521.7h0M512.1 461.7h0M499.8 439.7h0M506.4 416.1h0M523.5 421.4h0M575.3 453.6h0M638.2 558.4h0M521.5 422.7h0M500.8 488.9h0M519.6 442.0h0M626.9 441.5h0M517.2 450.2h0M495.5 417.5h0M503.9 467.3h0M572.8 551.7h0M486.7 429.0h0M543.3 611.4h0M490.3 425.7h0M511.6 466.8h0M487.2 428.4h0M516.3 408.5h0M492.7 443.8h0M517.5 421.5h0M504.6 456.5h0M575.6 525.3h0M511.5 445.6h0M513.7 447.6h0M515.7 408.3h0M496.6 451.5h0M501.3 434.9h0M517.7 483.6h0M515.5 436.2h0M516.2 448.0h0M512.1 477.0h0M497.5 457.3h0M509.3 413.9h0M519.1 431.0h0M501.6 411.2h0M519.9 465.4h0M509.7 432.4h0M502.8 446.6h0M499.3 439.0h0M578.6 480.5h0M513.4 477.3h0M507.2 450.9h0M486.3 442.5h0M522.2 447.2h0M553.4 467.2h0M523.9 417.0h0M500.9 439.6h0M560.2 545.8h0M520.8 462.4h0M515.4 407.5h0M512.8 426.2h0M507.0 453.5h0M520.9 459.0h0M669.0 547.0h0M626.0 498.0h0M623.1 506.2h0M506.3 522.5h0M551.8 452.2h0M520.5 451.5h0M580.6 448.4h0M495.9 426.5h0M553.3 418.6h0M569.0 420.5h0M594.8 593.7h0M509.9 441.4h0M586.4 471.6h0M506.7 410.3h0M522.7 415.5h0M492.2 412.1h0M506.9 405.1h0M494.6 428.1h0M515.6 399.9h0M520.4 418.3h0M513.7 432.2h0M546.0 459.0h0M512.2 457.2h0M547.2 439.1h0M529.1 429.7h0M499.1 447.2h0M518.1 442.2h0M569.0 536.0h0M514.8 479.2h0M489.7 445.5h0M495.7 429.9h0M522.3 438.1h0M495.0 461.3h0M555.9 456.5h0M493.3 412.8h0M523.2 446.4h0M497.9 443.3h0M708.1 485.6h0M520.4 438.4h0M513.2 422.4h0M519.2 412.1h0M493.8 459.0h0M498.4 459.4h0M609.0 550.3h0M561.3 437.9h0M515.3 420.3h0M512.4 487.6h0M677.5 533.3h0M498.6 460.1h0M499.9 439.1h0M523.7 406.2h0M521.4 448.1h0M529.0 409.7h0M482.4 424.4h0M510.6 410.0h0M516.5 438.3h0M503.6 458.9h0M509.4 481.3h0M552.3 418.2h0M503.0 429.8h0M491.7 417.6h0M537.6 433.5h0M527.0 421.5h0M553.4 456.4h0M658.4 522.8h0M541.3 464.9h0M519.1 458.2h0M501.9 445.7h0M515.1 460.5h0M532.4 455.1h0M512.3 449.2h0M509.0 444.6h0M579.3 527.0h0M497.7 416.8h0M510.3 469.6h0M499.5 423.4h0M549.3 526.0h0M506.2 425.3h0M505.9 457.8h0M509.2 441.6h0M534.3 437.4h0M533.4 418.1h0M526.3 418.6h0M513.5 420.5h0M519.9 448.9h0M562.7 506.7h0M631.1 479.0h0M629.9 530.7h0M594.7 491.4h0M516.0 449.1h0M532.2 469.2h0M526.4 434.3h0M545.6 422.2h0M494.8 437.6h0M587.3 481.6h0M499.4 456.7h0M496.4 421.9h0M515.5 447.4h0M506.8 439.5h0M507.6 403.4h0M504.8 423.3h0M574.2 461.1h0M501.4 421.8h0M500.5 424.5h0M514.5 418.0h0M514.3 410.1h0M560.8 514.4h0M555.0 466.3h0M663.6 491.7h0M495.2 405.7h0M538.9 469.8h0M558.3 426.9h0M522.0 446.1h0M487.0 434.6h0M508.5 453.9h0M490.9 446.6h0M513.3 421.2h0M511.4 419.7h0M541.7 423.5h0M584.6 520.5h0M512.8 404.9h0M498.6 422.3h0M510.8 419.5h0M563.7 419.2h0M492.1 420.6h0M576.0 425.3h0M511.9 429.2h0M566.9 527.5h0M600.6 499.7h0M519.3 438.8h0M646.9 469.7h0M511.2 420.5h0M502.3 463.1h0M524.3 489.7h0M696.0 526.6h0M497.9 427.1h0M510.6 433.8h0M501.9 476.9h0M517.7 454.5h0M511.1 442.3h0M493.4 430.9h0M505.0 426.6h0" stroke="#86b6dc" stroke-opacity="0.16" stroke-width="2.7" stroke-linecap="round" fill="none"/>
<path d="M566.9 444.8h0M560.4 452.1h0M540.9 497.0h0M524.0 475.8h0M500.6 432.5h0M501.8 412.6h0M561.4 525.9h0M677.3 518.7h0M526.5 421.1h0M624.1 499.5h0M492.5 437.7h0M504.4 409.5h0M515.0 486.6h0M532.6 463.5h0M562.3 416.3h0M513.3 401.9h0M512.8 453.1h0M636.5 513.7h0M505.3 406.0h0M626.5 558.4h0M522.7 436.5h0M521.0 442.5h0M510.2 436.3h0M492.2 445.0h0M622.9 528.7h0M520.5 430.5h0M492.4 415.8h0M565.8 444.4h0M538.9 473.1h0M514.1 444.3h0M507.6 402.4h0M514.0 447.0h0M492.8 450.1h0M559.6 451.8h0M558.4 515.7h0M509.6 445.5h0M504.5 406.8h0M500.6 422.1h0M502.8 450.7h0M518.0 422.8h0M482.0 421.8h0M558.6 435.4h0M649.6 526.4h0M498.3 417.1h0M509.1 438.5h0M505.2 453.6h0M588.9 479.2h0M600.9 508.1h0M540.7 417.4h0M558.1 426.9h0M498.0 435.5h0M488.3 412.5h0M500.1 415.0h0M538.5 432.3h0M493.2 451.7h0M503.0 411.3h0M487.7 418.7h0M566.1 456.8h0M519.1 408.3h0M497.2 461.2h0M539.2 468.1h0M561.0 422.8h0M516.0 474.7h0M522.0 434.2h0M605.2 521.9h0M500.3 411.6h0M518.0 434.1h0M493.7 452.0h0M509.4 416.2h0M594.2 501.5h0M512.3 419.1h0M599.1 516.3h0M585.3 495.9h0M517.1 491.2h0M509.0 425.4h0M517.0 425.4h0M501.7 402.2h0M696.5 502.3h0M508.2 439.8h0M522.6 419.6h0M576.6 497.0h0M487.1 415.6h0M522.0 422.7h0M518.1 418.4h0M572.0 531.1h0M510.7 402.4h0M514.1 475.7h0M648.9 531.9h0M589.5 531.3h0M622.3 472.6h0M569.2 429.4h0M501.9 416.4h0M514.7 435.2h0M516.6 474.9h0M550.6 440.8h0M533.7 458.9h0M497.4 403.0h0M496.2 413.7h0M571.3 448.1h0M519.3 423.8h0M583.1 519.8h0M490.2 436.1h0M509.6 484.3h0M584.9 491.5h0M505.7 465.1h0M503.2 461.3h0M520.1 432.4h0M514.1 476.6h0M712.8 531.2h0M509.7 425.0h0M565.2 446.7h0M552.7 440.7h0M517.3 443.9h0M507.8 446.1h0M496.0 448.9h0M508.2 427.3h0M517.5 477.8h0M491.4 412.9h0M583.2 518.6h0M563.4 466.1h0M521.6 433.2h0M492.9 405.8h0M497.4 436.2h0M555.9 411.1h0M569.6 429.1h0M483.9 422.3h0M621.7 513.3h0M496.8 468.0h0M504.4 462.9h0M595.4 447.6h0M578.9 602.4h0M489.0 416.5h0M593.6 562.3h0M653.1 536.7h0M616.8 508.3h0M477.8 558.0h0M504.2 512.2h0M491.8 410.7h0M509.9 444.1h0M524.6 438.6h0M507.2 482.4h0M518.8 430.8h0M571.1 550.6h0M507.5 449.3h0M510.8 473.0h0M531.7 518.5h0M547.5 455.4h0M505.6 414.7h0M519.7 421.3h0M486.8 445.5h0M509.6 455.5h0M503.3 437.7h0M492.3 419.2h0M499.4 449.2h0M512.3 420.5h0M521.1 429.1h0M628.3 512.8h0M501.2 449.3h0M521.4 457.2h0M498.4 446.8h0M506.0 420.7h0M520.2 484.5h0M491.6 454.4h0M521.4 463.5h0M505.6 407.6h0M499.0 416.0h0M492.9 461.9h0M513.1 426.8h0M516.3 468.0h0M500.7 442.0h0M501.4 483.3h0M508.3 439.8h0M556.4 448.4h0M503.5 427.7h0M519.7 461.4h0M522.4 423.6h0M499.8 420.4h0M498.4 437.1h0M515.9 466.3h0M526.6 506.6h0M492.8 422.9h0M501.4 449.9h0M552.8 458.7h0M506.8 436.4h0M538.8 416.4h0M511.3 428.4h0M516.9 444.3h0M507.9 410.8h0M510.3 429.4h0M520.3 436.9h0M516.6 430.7h0M510.2 432.7h0M590.4 461.7h0M510.5 415.4h0M523.4 444.2h0M501.1 436.3h0M634.4 524.8h0M496.3 439.9h0M513.0 479.2h0M520.3 472.3h0M507.6 456.3h0M507.5 431.5h0M526.5 432.5h0" stroke="#86b6dc" stroke-opacity="0.16" stroke-width="2.7" stroke-linecap="round" fill="none"/>
<path d="M550.4 468.6h0M510.1 532.1h0M540.0 537.9h0M537.5 418.1h0M503.7 421.0h0M494.6 450.1h0M499.2 413.3h0M494.0 432.3h0M487.5 416.7h0M494.7 439.1h0M497.1 425.9h0M520.6 414.2h0M506.2 431.2h0M556.1 457.5h0M518.0 458.1h0M492.8 442.9h0M519.4 433.6h0M510.0 446.3h0M513.8 402.1h0M494.7 448.6h0M600.5 545.0h0M501.1 426.2h0M573.0 526.8h0M497.7 460.9h0M570.4 497.9h0M492.0 420.1h0M507.4 415.0h0M507.8 433.3h0M557.0 455.1h0M568.9 439.4h0M514.3 417.6h0M495.2 428.9h0M501.4 453.3h0M505.3 482.1h0M529.8 412.5h0M499.9 443.2h0M612.4 446.2h0M498.3 439.5h0M590.8 496.6h0M567.0 518.8h0M515.9 406.0h0M543.2 404.8h0M645.6 515.6h0M498.1 420.6h0M521.3 465.9h0M510.5 459.7h0M515.4 433.5h0M574.0 430.7h0M500.9 428.2h0M486.9 433.6h0M542.5 418.1h0M500.5 427.7h0M501.0 434.1h0M524.2 462.1h0M659.3 554.4h0M584.0 512.9h0M590.7 455.8h0M503.5 429.6h0M504.8 405.5h0M521.2 427.2h0M507.2 480.2h0M498.2 463.3h0M511.5 425.1h0M526.6 448.3h0M505.6 452.5h0M510.1 446.8h0M556.4 555.4h0M523.7 477.3h0M507.3 425.7h0M505.6 433.0h0M515.3 442.9h0M575.7 497.6h0M489.0 424.3h0M566.1 431.3h0M510.4 412.9h0M510.5 463.1h0M519.2 424.3h0M697.8 547.9h0M502.9 408.1h0M516.5 436.8h0M512.4 418.1h0M673.0 588.3h0M492.8 447.0h0M586.4 541.7h0M577.8 454.5h0M516.4 434.0h0M638.5 549.5h0M521.2 560.6h0M516.3 448.9h0M520.2 460.2h0M507.1 466.6h0M519.9 418.8h0M533.2 418.4h0M525.9 404.9h0M511.3 429.3h0M508.7 453.3h0M504.6 432.6h0M495.8 422.6h0M484.9 435.9h0M536.6 433.0h0M491.2 435.2h0M492.2 454.0h0M491.7 432.3h0M494.3 437.0h0M544.2 405.9h0M499.8 430.6h0M498.0 401.1h0M498.8 465.0h0M544.7 461.8h0M519.9 451.8h0M538.4 473.3h0M528.0 434.6h0M509.3 465.9h0M518.0 438.0h0M547.8 417.1h0M516.2 405.5h0M586.8 535.3h0M497.0 426.0h0M522.4 424.6h0M526.8 410.3h0M568.0 540.3h0M536.4 446.4h0M584.3 446.5h0M522.5 476.9h0M490.1 413.9h0M527.0 432.9h0M507.2 423.3h0M522.4 424.9h0M489.6 420.0h0M522.0 427.4h0M511.1 442.3h0M543.8 422.2h0M633.0 547.3h0M513.5 431.7h0M520.3 440.6h0M517.1 452.3h0M589.0 542.2h0M488.2 447.0h0M563.0 526.3h0M510.6 436.5h0M602.2 560.5h0M514.7 448.8h0M578.4 451.4h0M523.5 430.0h0M524.5 465.9h0M521.6 440.5h0M486.8 430.8h0M493.6 432.6h0M503.3 432.8h0M539.3 481.0h0M557.4 430.2h0M653.1 516.4h0M530.6 530.6h0M506.2 418.4h0M521.6 464.3h0M670.6 502.4h0M495.1 405.4h0M507.7 458.9h0M502.6 476.8h0M496.1 446.1h0M496.4 431.3h0M510.3 456.2h0M587.6 525.8h0M573.3 466.0h0M511.5 483.9h0M620.9 498.4h0M514.6 439.6h0M523.6 459.8h0M517.6 453.0h0M590.3 581.7h0M505.3 445.7h0M489.5 444.3h0M496.6 460.0h0M515.2 431.9h0M481.7 437.3h0M545.3 482.8h0M519.9 456.3h0M506.7 416.2h0M518.2 408.1h0M629.9 518.1h0M510.2 430.1h0M541.6 444.2h0M500.4 435.1h0M517.1 472.1h0M517.0 409.9h0M494.9 483.2h0M485.8 416.0h0M509.9 428.9h0M493.1 425.4h0M518.9 462.9h0M501.8 405.5h0M501.3 435.9h0M688.3 498.2h0M662.9 491.0h0M520.5 460.6h0M519.6 439.2h0M502.1 474.7h0M519.2 438.9h0M511.9 483.0h0M563.0 447.9h0M512.3 464.2h0M699.8 534.3h0" stroke="#86b6dc" stroke-opacity="0.16" stroke-width="2.7" stroke-linecap="round" fill="none"/>
<path d="M568.4 431.6h0M591.2 559.2h0M501.6 460.5h0M592.7 553.0h0M568.1 539.6h0M646.3 559.4h0M522.7 463.8h0M482.4 443.2h0M530.9 436.5h0M566.1 522.9h0M511.2 476.8h0M499.7 420.0h0M503.2 449.4h0M513.4 434.6h0M511.5 425.5h0M495.6 418.5h0M512.3 477.0h0M511.2 416.4h0M502.7 456.0h0M495.7 413.3h0M482.8 430.7h0M494.3 439.6h0M488.3 430.3h0M508.8 458.7h0M506.3 479.1h0M565.8 619.5h0M625.2 524.2h0M515.3 404.5h0M499.6 459.6h0M625.9 437.0h0M584.3 536.1h0M514.8 451.9h0M494.1 452.6h0M517.8 437.0h0M547.8 439.4h0M536.7 421.9h0M484.7 424.8h0M519.0 473.4h0M503.8 451.6h0M498.7 441.4h0M547.7 446.5h0M650.8 509.4h0M635.8 550.0h0M511.7 482.1h0M571.1 428.8h0M501.2 431.7h0M635.1 460.7h0M566.6 464.7h0M699.5 604.7h0M537.5 443.5h0M516.0 442.9h0M503.8 459.5h0M509.6 434.8h0M611.1 508.6h0M654.4 547.1h0M506.4 409.6h0M527.2 419.5h0M540.7 448.3h0M505.6 422.5h0M556.2 440.0h0M505.0 471.7h0M560.9 530.8h0M584.7 536.6h0M511.8 453.6h0M547.6 437.7h0M505.5 444.3h0M527.8 477.0h0M505.1 411.8h0M550.4 522.0h0M588.9 520.9h0M497.5 438.2h0M506.2 462.6h0M537.3 514.5h0M506.8 478.9h0M510.0 446.3h0M495.9 454.0h0M571.9 427.6h0M536.4 540.2h0M515.6 473.2h0M553.8 460.3h0M574.5 434.0h0M511.4 411.9h0M643.4 542.3h0M505.4 405.3h0M503.6 444.5h0M505.8 456.3h0M525.5 487.2h0M494.8 440.0h0M505.3 404.4h0M490.5 409.8h0M563.8 419.5h0M509.4 405.4h0M495.1 410.7h0M515.9 475.7h0M634.0 494.4h0M505.1 479.2h0M509.2 426.6h0M563.5 427.4h0M513.5 428.6h0M464.5 491.4h0M520.3 419.3h0M493.1 406.7h0M583.3 442.1h0M518.9 411.7h0M511.7 465.5h0M547.3 476.5h0M546.4 453.8h0M542.7 478.8h0M519.1 492.1h0M543.9 557.4h0M510.3 474.9h0M602.8 550.7h0M568.6 436.8h0M527.6 537.9h0M484.8 443.8h0M508.5 466.0h0M519.6 404.4h0M506.4 413.2h0M509.8 480.8h0M486.8 424.3h0M499.7 474.8h0M504.8 449.5h0M488.2 423.0h0M501.4 461.8h0M491.2 438.9h0M511.7 440.7h0M562.2 439.0h0M522.1 415.0h0M511.7 479.5h0M635.0 499.1h0M507.5 433.0h0M536.3 461.3h0M509.8 460.4h0M514.1 443.9h0M586.3 477.9h0M499.2 409.3h0M497.2 425.6h0M581.5 552.2h0M503.6 456.1h0M543.7 462.0h0M527.4 417.7h0M570.4 500.9h0M573.7 496.2h0M502.9 406.7h0M498.0 430.2h0M493.4 418.7h0M499.0 438.1h0M509.7 428.9h0M507.8 453.6h0M567.4 435.1h0M495.6 439.1h0M506.7 459.4h0M550.7 414.7h0M515.7 466.3h0M503.4 416.1h0M572.5 432.6h0M585.9 455.8h0M526.7 417.4h0M498.8 430.6h0M662.9 552.1h0M505.2 411.6h0M502.4 414.1h0M521.0 433.1h0M496.5 433.5h0M535.2 499.1h0M557.3 454.3h0M593.4 521.9h0M543.5 432.3h0M639.4 521.1h0M503.3 420.0h0M527.0 438.7h0M599.0 565.2h0M509.8 430.6h0M570.4 514.3h0M494.9 434.2h0M487.0 404.0h0M497.0 467.3h0M493.5 459.3h0M550.7 462.8h0M532.4 423.3h0M500.4 471.9h0M629.9 510.3h0M503.6 477.0h0M514.7 426.9h0M524.7 458.1h0M502.1 432.3h0M509.5 432.9h0M663.1 483.2h0M509.9 422.0h0M545.7 547.5h0M573.5 516.8h0M551.2 459.3h0M485.3 436.7h0M514.1 443.8h0M519.4 448.7h0M494.2 433.8h0M580.7 449.0h0M502.6 436.9h0M608.4 477.4h0M493.4 463.4h0M496.5 457.5h0M560.7 493.4h0" stroke="#86b6dc" stroke-opacity="0.16" stroke-width="2.7" stroke-linecap="round" fill="none"/>
<path d="M760.9 495.6h0M737.6 466.9h0M726.1 518.8h0M782.5 482.7h0M768.8 469.6h0M708.7 532.4h0M719.9 495.1h0M800.6 469.8h0M777.4 473.1h0M760.2 486.6h0M779.5 435.2h0M723.6 516.0h0M778.6 467.5h0M777.6 460.2h0M739.3 523.9h0M765.9 484.4h0M745.4 485.0h0M750.3 468.3h0M737.7 484.6h0M780.8 450.3h0M725.3 501.2h0M736.3 475.0h0M752.1 474.0h0M798.8 468.4h0M750.3 527.1h0M733.9 468.8h0M726.6 506.7h0M761.1 467.7h0M734.6 484.4h0M758.9 499.5h0M773.5 511.0h0M752.8 512.5h0M741.7 472.5h0M795.6 501.9h0M743.1 526.5h0M800.7 489.6h0M758.8 534.4h0M785.1 448.4h0M777.9 484.1h0M725.1 514.3h0M787.2 485.2h0M721.9 505.5h0M784.4 519.7h0M797.0 490.9h0M742.0 516.9h0M733.4 519.4h0M793.2 521.1h0M721.9 500.5h0M763.9 464.6h0M735.9 510.3h0M784.8 437.6h0M789.0 476.1h0M811.0 469.6h0M790.7 460.8h0M755.1 468.6h0M788.8 473.5h0M688.2 496.9h0M737.6 527.7h0M744.6 523.8h0M726.1 502.2h0M751.0 486.9h0M799.5 502.0h0M701.9 521.0h0M810.4 459.4h0M738.9 512.2h0M767.3 506.0h0M775.3 445.7h0M755.3 476.6h0M763.7 503.9h0M750.4 464.9h0M764.2 464.9h0M778.1 455.1h0M787.7 494.7h0M806.7 492.1h0M770.3 513.2h0M740.8 476.4h0M780.2 521.2h0M779.2 529.4h0M726.4 508.3h0M767.0 450.4h0M764.7 456.4h0M784.7 488.8h0M774.4 450.2h0M774.0 507.8h0M738.9 487.6h0M714.6 511.5h0M801.8 495.9h0M790.7 469.2h0M799.2 469.4h0M803.8 491.6h0M805.7 485.6h0M789.0 522.0h0M782.4 529.5h0M771.4 502.5h0M778.4 436.9h0M794.4 502.8h0M754.0 495.7h0M739.5 497.2h0M750.0 474.7h0M797.6 437.0h0M795.4 476.4h0M753.3 459.2h0M729.5 494.7h0M755.5 450.0h0M765.8 504.2h0M744.1 525.2h0M719.4 479.7h0M713.2 494.6h0M726.6 514.4h0M726.2 483.0h0M763.9 526.3h0M785.3 442.1h0M788.7 468.9h0M738.6 524.5h0M724.0 467.2h0M773.0 525.2h0M778.7 492.7h0M767.5 509.1h0M798.8 476.3h0M794.6 449.6h0M741.6 495.8h0M773.8 531.9h0M765.2 498.4h0M810.6 469.7h0M732.7 484.6h0M758.6 521.1h0M766.2 477.9h0M728.4 510.2h0M745.0 463.1h0M742.9 513.3h0M729.6 501.6h0M797.8 462.8h0M706.7 528.9h0M785.7 492.8h0M783.2 516.0h0M743.3 512.0h0M755.3 520.1h0M746.2 455.5h0M806.8 502.4h0M752.1 466.2h0M715.8 486.6h0M770.3 497.4h0M773.2 506.2h0M781.9 486.0h0M802.9 440.7h0M777.1 444.7h0M762.8 461.1h0M790.4 458.4h0M803.0 461.7h0M737.5 506.4h0M776.4 484.8h0M757.9 468.5h0M791.1 493.9h0M772.7 529.4h0M767.4 471.6h0M797.2 432.1h0M780.6 491.3h0M742.6 477.7h0M784.5 474.1h0M747.9 462.4h0M803.4 490.2h0M755.0 495.9h0M800.3 447.9h0M788.3 453.4h0M740.8 499.1h0M723.1 479.9h0M781.8 510.8h0M750.9 456.3h0M783.2 438.3h0M756.9 470.3h0M787.5 444.0h0M712.8 476.6h0M771.7 516.0h0M783.6 498.9h0M793.2 440.3h0M797.6 487.7h0M770.7 498.6h0M757.4 500.2h0M779.1 493.6h0M774.0 506.7h0M771.1 533.3h0M761.9 517.5h0M729.7 480.7h0M728.5 491.2h0M760.7 462.2h0M744.7 454.6h0M712.0 512.8h0M756.2 528.9h0M722.4 514.8h0M780.2 449.5h0M765.6 486.3h0M797.6 510.5h0M813.2 481.2h0M798.6 488.8h0M755.3 527.4h0M801.9 460.4h0M751.5 501.3h0M752.0 508.5h0M774.3 468.5h0M783.5 472.9h0M764.3 498.0h0M744.8 450.3h0M749.9 489.5h0M776.8 450.7h0M804.7 453.3h0M766.4 475.7h0M787.6 460.7h0M731.4 468.6h0M778.1 474.1h0M808.1 458.4h0M721.7 486.3h0M695.9 496.4h0M765.9 528.7h0M773.9 490.4h0M797.3 499.5h0M779.1 511.3h0M769.0 483.2h0M760.0 484.2h0M791.5 456.6h0M800.6 459.8h0M751.1 497.5h0M754.0 484.5h0M799.7 519.7h0M801.9 450.0h0M785.2 492.3h0" stroke="#eeb24e" stroke-opacity="0.17" stroke-width="2.7" stroke-linecap="round" fill="none"/>
<path d="M808.5 508.5h0M726.4 477.7h0M739.6 506.0h0M776.7 490.9h0M795.3 456.3h0M789.1 508.9h0M773.8 497.3h0M814.2 480.8h0M753.9 461.8h0M745.2 513.4h0M783.2 500.7h0M769.2 475.6h0M719.6 488.9h0M755.5 473.4h0M797.1 474.3h0M782.4 471.6h0M780.7 504.8h0M755.4 525.7h0M807.8 486.2h0M717.5 518.5h0M772.9 479.0h0M780.8 468.8h0M782.3 492.4h0M753.8 503.3h0M714.4 509.0h0M759.7 520.8h0M735.2 517.6h0M720.6 486.6h0M806.9 475.1h0M803.6 502.3h0M784.7 509.2h0M807.8 471.2h0M769.2 519.0h0M772.0 470.1h0M725.1 517.3h0M774.6 488.3h0M758.0 459.0h0M794.6 443.0h0M728.1 483.6h0M742.0 465.3h0M784.8 516.4h0M749.0 472.2h0M783.4 477.3h0M733.0 498.6h0M751.3 484.9h0M723.4 502.3h0M754.0 533.6h0M800.2 459.8h0M708.2 514.0h0M809.7 479.4h0M782.5 501.3h0M758.4 481.9h0M760.5 497.8h0M786.7 517.0h0M762.5 458.9h0M790.0 506.9h0M730.1 524.2h0M680.3 498.8h0M720.7 505.9h0M707.5 520.9h0M791.1 466.0h0M743.5 526.5h0M804.3 478.5h0M771.8 457.9h0M783.7 454.0h0M774.1 524.2h0M805.4 503.0h0M772.8 500.7h0M805.7 469.1h0M770.2 459.7h0M710.6 509.2h0M793.4 503.7h0M803.2 489.2h0M779.5 480.9h0M767.5 483.4h0M765.6 514.8h0M734.9 494.9h0M763.8 515.5h0M800.7 444.0h0M741.2 523.0h0M767.7 512.3h0M755.4 539.3h0M720.4 472.1h0M760.2 506.9h0M763.3 463.0h0M752.7 472.6h0M784.4 479.9h0M731.3 490.8h0M794.6 513.7h0M800.0 436.1h0M798.9 458.6h0M754.2 522.9h0M691.6 515.9h0M708.7 455.1h0M781.1 531.7h0M750.4 519.7h0M745.2 489.5h0M755.8 535.6h0M734.6 455.2h0M743.0 515.9h0M804.8 439.6h0M744.4 456.1h0M797.8 438.4h0M770.2 512.9h0M725.6 503.6h0M808.3 455.0h0M717.3 481.7h0M788.9 469.2h0M747.6 515.6h0M777.3 449.9h0M766.5 530.3h0M757.1 477.7h0M787.7 493.1h0M735.0 516.1h0M777.7 517.2h0M779.3 454.7h0M721.7 468.8h0M744.2 517.2h0M802.8 479.3h0M755.9 516.0h0M757.3 475.2h0M721.4 490.8h0M759.4 446.9h0M803.1 502.1h0M774.7 497.0h0M795.8 504.5h0M736.7 514.0h0M713.5 499.0h0M743.6 480.0h0M811.6 481.7h0M769.1 468.5h0M765.9 475.4h0M790.5 462.2h0M731.7 498.5h0M780.2 468.2h0M756.9 534.5h0M782.6 522.2h0M714.6 500.4h0M723.6 483.9h0M769.3 445.2h0M732.6 516.7h0M797.1 453.5h0M783.2 504.9h0M775.7 525.9h0M796.9 482.7h0M731.0 514.0h0M766.5 486.4h0M720.8 520.9h0M776.1 531.4h0M769.9 444.6h0M672.0 498.4h0M757.9 463.7h0M755.0 477.0h0M807.1 453.0h0M750.3 487.0h0M740.3 463.9h0M780.3 528.2h0M781.6 441.4h0M800.8 465.7h0M723.8 489.6h0M788.1 457.0h0M765.4 492.1h0M787.6 527.7h0M808.8 447.6h0M794.0 503.3h0M802.8 501.8h0M806.8 511.8h0M730.6 502.9h0M772.0 507.5h0M737.5 471.3h0M783.9 489.1h0M785.0 489.0h0M801.3 492.3h0M814.4 468.0h0M795.5 458.4h0M717.8 519.9h0M737.3 457.1h0M769.5 479.6h0M823.5 479.4h0M790.3 439.4h0M810.8 495.6h0M792.1 440.4h0M789.3 510.5h0M752.7 485.4h0M810.7 478.7h0M742.1 462.4h0M778.6 478.2h0M768.0 472.8h0M780.8 487.7h0M792.1 503.8h0M796.2 441.5h0M798.0 489.3h0M782.6 487.1h0M751.4 506.2h0M772.9 498.1h0M749.4 519.6h0M741.8 461.4h0M801.7 493.4h0M810.8 499.7h0M784.0 498.9h0M792.5 490.2h0M777.2 472.1h0M719.2 497.5h0M814.2 457.4h0M782.7 440.9h0M783.8 504.5h0M775.3 487.3h0M755.3 479.0h0M738.4 520.2h0M772.6 442.5h0M770.6 500.3h0M749.6 470.1h0M749.5 505.4h0M755.2 449.6h0M770.7 533.1h0M802.9 476.2h0M781.6 478.8h0M715.0 502.3h0M806.9 460.3h0M747.4 488.6h0M792.7 443.1h0M793.3 451.0h0M710.9 503.4h0M736.4 473.7h0M747.1 486.3h0" stroke="#eeb24e" stroke-opacity="0.17" stroke-width="2.7" stroke-linecap="round" fill="none"/>
<path d="M805.4 472.8h0M786.3 512.1h0M715.6 520.5h0M787.5 491.1h0M759.1 511.1h0M804.3 449.7h0M774.2 505.0h0M744.9 458.7h0M729.8 501.5h0M723.4 478.5h0M784.5 503.3h0M753.5 513.2h0M717.0 510.5h0M692.2 475.5h0M796.8 470.0h0M792.3 487.9h0M784.1 510.6h0M732.7 495.1h0M785.2 433.7h0M756.3 478.6h0M699.7 484.1h0M793.4 511.7h0M736.2 479.8h0M772.9 437.5h0M737.4 467.3h0M809.7 452.5h0M749.0 492.2h0M727.8 510.8h0M745.7 489.9h0M762.2 470.0h0M724.0 487.5h0M814.5 464.3h0M748.3 496.7h0M779.1 472.3h0M803.1 434.3h0M768.9 521.3h0M771.7 529.3h0M793.0 491.3h0M779.6 489.2h0M746.9 498.3h0M807.2 476.5h0M781.7 501.0h0M771.5 471.4h0M794.3 466.6h0M756.5 481.8h0M761.9 513.0h0M769.0 476.6h0M741.7 508.1h0M793.3 485.9h0M757.9 514.5h0M785.0 505.4h0M777.6 499.0h0M741.1 480.4h0M777.5 463.6h0M773.3 477.1h0M803.7 464.2h0M745.1 525.7h0M754.4 532.4h0M782.7 509.1h0M734.1 473.1h0M715.3 490.7h0M723.7 489.6h0M770.7 521.3h0M764.2 487.1h0M716.2 474.4h0M771.0 441.7h0M744.8 467.1h0M795.4 513.3h0M706.3 548.4h0M806.3 465.1h0M798.9 480.7h0M811.5 472.6h0M735.0 476.9h0M796.6 447.6h0M804.1 439.2h0M794.1 454.7h0M775.0 523.2h0M772.6 461.9h0M718.2 481.5h0M770.3 499.2h0M776.5 493.4h0M749.8 475.2h0M732.9 495.5h0M753.1 536.3h0M803.2 503.3h0M779.0 516.3h0M730.1 509.3h0M765.7 494.1h0M789.6 472.6h0M782.6 455.6h0M780.1 500.8h0M778.9 493.7h0M774.0 503.3h0M781.3 480.3h0M729.3 466.5h0M772.4 513.7h0M711.5 491.9h0M784.9 475.9h0M735.2 460.0h0M745.7 515.7h0M735.6 488.5h0M784.8 506.3h0M788.0 479.6h0M747.1 532.5h0M784.3 469.7h0M797.9 466.0h0M775.5 530.7h0M777.7 525.6h0M782.7 466.2h0M780.9 511.9h0M792.4 497.9h0M745.3 538.4h0M739.7 480.5h0M769.4 492.3h0M797.9 537.4h0M828.3 507.6h0M798.1 509.0h0M734.0 486.7h0M810.3 464.6h0M733.9 508.8h0M784.2 481.5h0M759.0 461.4h0M753.9 496.5h0M769.5 512.8h0M741.7 496.9h0M780.9 439.0h0M710.1 501.6h0M700.3 515.3h0M743.4 461.1h0M761.5 470.7h0M789.0 503.5h0M733.4 477.0h0M812.3 477.4h0M796.6 494.2h0M720.1 520.4h0M788.4 501.8h0M746.6 484.9h0M773.1 489.1h0M722.0 497.9h0M665.0 500.1h0M771.0 531.9h0M748.1 520.6h0M802.2 496.2h0M806.5 511.8h0M725.0 489.5h0M735.6 468.3h0M730.1 514.8h0M757.8 518.3h0M790.2 473.5h0M733.2 470.1h0M785.7 478.1h0M766.5 497.9h0M740.7 491.0h0M747.5 516.7h0M772.9 533.2h0M702.4 497.5h0M748.0 525.2h0M781.3 517.1h0M742.2 514.7h0M718.7 486.9h0M720.3 509.6h0M735.0 456.8h0M756.2 527.8h0M787.2 517.9h0M811.5 478.3h0M801.7 468.1h0M788.7 441.8h0M781.7 494.6h0M719.1 541.2h0M793.4 472.2h0M779.5 444.1h0M750.8 520.6h0M754.7 532.9h0M755.3 524.6h0M755.3 484.5h0M803.2 476.8h0M800.8 446.9h0M796.1 452.2h0M707.6 496.1h0M777.9 504.0h0M772.5 485.6h0M790.1 488.3h0M746.0 448.5h0M819.8 459.2h0M699.4 505.6h0M780.9 481.5h0M740.0 463.3h0M755.6 533.3h0M794.5 496.9h0M729.8 496.7h0M732.4 476.0h0M741.2 497.8h0M729.5 475.4h0M763.4 532.0h0M806.3 452.5h0M721.4 474.1h0M758.5 493.5h0M740.6 518.1h0M752.8 443.3h0M772.7 485.4h0M782.1 526.8h0M793.2 503.1h0M768.1 504.8h0M746.6 457.1h0M818.6 457.8h0M740.6 487.8h0M804.6 487.5h0M751.2 448.7h0M797.5 447.2h0M773.5 519.4h0M787.6 465.4h0M777.8 440.4h0M806.5 442.7h0M770.8 461.7h0M782.4 494.8h0M763.0 513.9h0M738.5 483.5h0M814.9 481.9h0M762.6 484.2h0M788.8 463.1h0M740.9 483.8h0M738.6 505.7h0M754.1 501.1h0M751.0 496.5h0M778.0 484.3h0" stroke="#eeb24e" stroke-opacity="0.17" stroke-width="2.7" stroke-linecap="round" fill="none"/>
<path d="M780.7 488.8h0M791.8 439.5h0M787.6 476.4h0M732.6 481.7h0M784.4 469.1h0M698.6 511.2h0M713.2 491.3h0M787.6 464.8h0M814.6 476.3h0M741.6 475.3h0M733.3 523.7h0M817.7 485.0h0M799.2 495.3h0M783.7 446.0h0M757.3 502.6h0M766.2 497.5h0M788.2 486.1h0M804.2 452.4h0M746.3 458.7h0M729.3 479.5h0M750.8 484.9h0M724.3 505.9h0M786.4 526.6h0M800.2 486.9h0M791.0 524.7h0M725.2 485.2h0M727.7 517.2h0M786.4 468.7h0M772.7 504.1h0M796.3 489.8h0M782.4 482.5h0M779.3 446.7h0M762.5 473.8h0M712.7 503.0h0M724.0 497.1h0M787.8 480.8h0M738.2 465.6h0M728.3 477.2h0M781.0 489.7h0M775.9 497.9h0M795.8 448.9h0M734.9 526.5h0M748.3 532.8h0M728.5 480.8h0M742.3 514.1h0M737.8 526.7h0M765.3 530.2h0M711.5 525.4h0M773.8 527.0h0M720.8 506.9h0M800.6 464.1h0M709.9 514.6h0M765.2 479.5h0M765.6 467.4h0M686.7 518.5h0M726.7 512.7h0M786.5 484.4h0M725.3 527.2h0M780.6 491.4h0M773.2 442.5h0M764.9 500.0h0M770.4 504.8h0M775.0 462.5h0M782.5 503.3h0M708.5 505.9h0M764.0 458.2h0M724.6 492.7h0M774.0 446.8h0M737.8 506.1h0M787.9 500.3h0M766.7 476.2h0M722.8 499.5h0M780.7 500.5h0M771.1 462.1h0M796.6 434.0h0M805.5 442.2h0M748.0 512.5h0M739.7 508.1h0M733.4 522.4h0M778.8 440.8h0M730.8 478.6h0M806.7 501.6h0M785.9 446.9h0M724.6 501.3h0M760.6 529.6h0M767.3 499.3h0M800.1 442.2h0M743.1 471.2h0M793.5 499.3h0M780.4 461.1h0M749.6 532.4h0M769.5 484.9h0M785.5 487.1h0M814.1 476.8h0M782.4 442.9h0M773.3 511.8h0M701.3 504.1h0M723.6 501.7h0M802.7 466.2h0M798.8 466.9h0M765.8 453.8h0M775.1 529.1h0M755.3 529.7h0M807.1 503.1h0M761.6 472.0h0M781.9 510.8h0M804.6 485.6h0M707.0 536.6h0M771.3 500.2h0M769.3 487.9h0M802.3 496.0h0M805.6 455.5h0M714.1 503.6h0M777.8 450.8h0M753.2 532.7h0M769.2 478.6h0M790.6 487.4h0M767.1 523.6h0M735.3 465.9h0M758.4 455.7h0M741.0 501.6h0M724.8 492.7h0M780.7 518.6h0M776.4 526.8h0M789.8 454.0h0M779.2 481.3h0M780.3 486.4h0M756.5 490.9h0M798.2 513.2h0M787.4 497.3h0M753.8 471.7h0M805.7 456.5h0M806.4 493.0h0M766.8 506.4h0M728.5 491.3h0M758.9 502.5h0M802.3 474.9h0M722.5 502.3h0M796.3 484.4h0M783.6 449.0h0M785.7 468.3h0M771.1 477.5h0M751.3 480.7h0M766.1 499.7h0M735.1 472.6h0M765.0 452.4h0M775.7 471.4h0M744.4 483.4h0M744.7 480.4h0M758.2 458.1h0M753.6 518.4h0M783.9 473.4h0M772.9 490.9h0M769.8 443.9h0M813.5 461.9h0M800.3 449.1h0M791.5 467.7h0M770.7 434.4h0M778.2 511.8h0M803.5 439.3h0M762.7 457.5h0M730.4 470.8h0M762.5 452.4h0M774.8 442.2h0M707.7 496.7h0M772.2 500.1h0M781.3 441.7h0M792.6 523.1h0M717.0 513.7h0M740.1 517.4h0M706.2 548.2h0M735.2 473.9h0M722.4 521.5h0M752.7 466.9h0M720.5 498.2h0M741.9 503.5h0M763.6 441.8h0M772.3 481.6h0M794.8 462.6h0M754.4 458.7h0M762.5 519.6h0M776.8 492.5h0M771.7 455.7h0M748.8 498.7h0M728.7 477.0h0M769.4 469.9h0M785.6 475.7h0M728.0 489.0h0M805.2 500.8h0M767.9 472.0h0M771.6 468.9h0M738.2 504.6h0M809.3 492.9h0M782.2 459.8h0M780.4 459.7h0M788.0 453.5h0M720.0 491.1h0M727.6 515.7h0M757.9 508.5h0M714.4 495.8h0M760.7 526.3h0M758.7 491.9h0M758.4 450.4h0M754.0 473.3h0M811.2 466.9h0M754.1 481.2h0M774.1 484.0h0M776.5 466.5h0M745.3 500.5h0M797.4 508.5h0M784.5 524.7h0M761.2 508.5h0M793.1 480.2h0M751.7 462.6h0M702.2 493.5h0M769.6 511.5h0M780.2 446.2h0M754.4 477.8h0M718.9 522.6h0M786.3 466.9h0M753.0 475.9h0M758.6 471.6h0M786.9 514.8h0M777.6 455.9h0M810.4 495.4h0" stroke="#eeb24e" stroke-opacity="0.17" stroke-width="2.7" stroke-linecap="round" fill="none"/>
<path d="M941.2 93.4h0M918.8 94.7h0M845.0 79.6h0M920.9 72.4h0M898.1 81.5h0M896.5 96.8h0M880.8 73.0h0M865.5 71.9h0M912.6 80.5h0M853.4 89.3h0M868.6 69.5h0M940.9 90.2h0M903.6 82.9h0M917.8 82.9h0M910.5 75.8h0M858.5 78.0h0M913.8 87.1h0M934.1 100.4h0M847.9 91.1h0M885.8 68.2h0M895.5 87.4h0M907.3 104.4h0M928.2 92.4h0M912.6 82.9h0M934.1 101.8h0M936.5 100.7h0M917.6 71.8h0M900.1 65.3h0M905.6 91.9h0M917.3 100.7h0M860.0 72.5h0M862.3 93.6h0M879.4 104.5h0M910.5 85.8h0M943.8 81.1h0M901.7 90.2h0M918.3 84.3h0M861.2 66.5h0M907.1 109.6h0M918.1 76.8h0M910.8 62.1h0M927.5 82.4h0M904.7 83.2h0M925.8 104.4h0M852.1 94.1h0M872.7 80.7h0M865.9 109.5h0M948.6 94.6h0M917.8 86.8h0M863.1 61.1h0M904.1 62.7h0M901.9 63.7h0M903.3 75.8h0M906.7 95.9h0M938.2 82.9h0M864.9 78.7h0M943.0 94.4h0M903.8 87.5h0M906.9 86.0h0M911.2 93.5h0M910.5 93.6h0M875.4 59.2h0M923.4 92.2h0M870.4 106.3h0M865.4 60.2h0M919.1 82.1h0M909.2 90.8h0M893.6 83.8h0M900.4 71.4h0M904.8 76.4h0M860.9 94.8h0M915.9 75.3h0M897.1 68.3h0M892.9 103.4h0M894.8 107.4h0M863.5 68.0h0M846.9 81.4h0M938.5 102.6h0M907.6 83.5h0M856.2 91.9h0M851.3 84.2h0M935.9 97.3h0M916.6 93.7h0M925.9 93.0h0M936.8 83.2h0M854.5 76.9h0M878.9 90.4h0M911.8 84.6h0M922.4 111.3h0M913.8 80.5h0M918.7 71.2h0M939.1 94.8h0M874.2 97.1h0M901.6 60.5h0M903.7 84.7h0M890.9 83.0h0M898.8 68.7h0M914.2 75.5h0M934.4 102.9h0M938.7 106.2h0M911.6 87.9h0M873.2 79.1h0M863.1 82.6h0M913.7 94.9h0M924.6 83.3h0M862.0 104.4h0M913.1 80.5h0M892.8 68.4h0M904.9 84.3h0M894.6 77.9h0M894.9 103.5h0M935.6 104.4h0M917.8 108.1h0M918.5 77.9h0M906.4 102.7h0M939.0 93.7h0M865.8 87.3h0M848.6 75.3h0M865.4 67.7h0M920.5 76.1h0M931.1 101.1h0M885.3 65.2h0M901.7 95.4h0M904.1 78.8h0M908.7 85.4h0M895.7 111.0h0M931.7 83.0h0M924.3 85.7h0M860.1 79.2h0M910.8 106.2h0M878.4 107.9h0M929.4 77.5h0M886.7 87.2h0M923.5 87.3h0M899.4 72.0h0M923.8 85.7h0M906.2 83.3h0M879.3 69.1h0M907.5 94.9h0M875.5 76.8h0M868.0 83.8h0M881.7 63.3h0M856.2 87.4h0" stroke="#62b054" stroke-opacity="0.16" stroke-width="2.7" stroke-linecap="round" fill="none"/>
<path d="M918.1 87.3h0M909.6 82.5h0M901.5 99.9h0M883.1 66.0h0M861.4 85.3h0M928.3 86.3h0M901.0 82.1h0M939.2 92.6h0M895.8 98.2h0M904.7 71.9h0M898.7 66.0h0M908.8 72.8h0M935.8 106.4h0M872.8 79.8h0M866.9 69.9h0M927.8 93.0h0M878.8 96.3h0M887.2 92.7h0M925.9 64.8h0M914.7 93.1h0M948.9 98.0h0M934.5 88.5h0M897.0 68.9h0M889.1 79.9h0M906.4 71.1h0M928.3 80.7h0M899.7 68.7h0M904.9 86.6h0M891.0 106.0h0M917.3 77.9h0M901.3 77.1h0M901.3 80.8h0M901.9 74.4h0M928.6 75.3h0M906.6 72.1h0M851.7 82.9h0M848.3 96.1h0M932.9 74.2h0M907.8 70.8h0M861.1 103.9h0M929.2 87.6h0M905.1 80.1h0M932.6 100.2h0M935.4 102.1h0M923.2 94.8h0M931.4 89.6h0M917.7 78.8h0M899.5 102.3h0M923.8 93.6h0M912.0 82.4h0M916.3 99.1h0M911.2 82.1h0M927.1 82.9h0M922.2 91.8h0M912.4 79.5h0M933.3 98.4h0M873.9 81.8h0M851.8 97.7h0M859.2 60.3h0M888.6 85.6h0M950.2 99.2h0M912.6 71.2h0M854.4 96.2h0M925.2 80.1h0M877.2 89.7h0M904.0 69.4h0M938.1 103.2h0M935.2 84.5h0M930.1 77.5h0M910.8 106.4h0M904.4 96.3h0M890.9 79.1h0M845.9 97.9h0M916.9 83.7h0M914.3 80.6h0M914.6 98.7h0M863.9 100.1h0M933.2 93.9h0M849.3 93.9h0M893.4 87.0h0M927.8 82.2h0M917.7 76.3h0M888.1 59.4h0M891.8 69.5h0M912.3 95.8h0M936.6 96.8h0M851.8 88.2h0M914.5 77.3h0M907.2 70.8h0M892.9 105.9h0M943.1 97.4h0M915.9 92.4h0M923.5 77.3h0M906.9 64.7h0M864.2 88.0h0M853.8 97.0h0M923.8 81.3h0M891.7 103.4h0M848.2 90.9h0M921.4 85.1h0M887.4 64.6h0M935.0 75.9h0M880.7 99.9h0M883.6 98.5h0M906.5 94.0h0M907.0 74.7h0M895.5 77.0h0M919.2 91.7h0M913.8 100.2h0M930.5 86.3h0M909.9 97.3h0M936.5 81.5h0M913.2 94.0h0M903.4 101.3h0M874.6 74.7h0M874.1 81.1h0M908.3 79.7h0M866.8 68.4h0M930.5 90.0h0M892.8 78.2h0M924.6 81.1h0M883.0 68.1h0M867.5 100.6h0M915.1 75.1h0M879.3 66.7h0M902.1 86.5h0M913.8 70.7h0M862.1 71.3h0M890.9 69.5h0M917.6 88.6h0M878.8 96.1h0M932.1 100.1h0M855.4 83.3h0M915.9 82.7h0M884.3 96.6h0M861.7 83.5h0M892.9 97.7h0M868.0 88.3h0M876.4 99.1h0M913.1 97.0h0M886.3 80.6h0M888.8 84.7h0M918.1 77.7h0" stroke="#62b054" stroke-opacity="0.16" stroke-width="2.7" stroke-linecap="round" fill="none"/>
<path d="M857.5 80.6h0M909.9 74.3h0M941.8 101.0h0M903.6 90.5h0M907.3 67.8h0M933.8 80.1h0M914.4 87.3h0M896.7 73.0h0M913.0 75.7h0M888.8 66.5h0M934.0 85.4h0M935.2 80.7h0M849.5 77.2h0M884.0 77.5h0M851.9 88.9h0M902.6 93.8h0M891.6 104.6h0M863.8 67.0h0M891.2 102.6h0M916.1 89.7h0M929.6 96.5h0M922.7 79.8h0M873.7 96.5h0M939.6 98.7h0M923.5 84.9h0M877.7 89.7h0M891.1 73.8h0M855.6 73.6h0M893.0 70.7h0M891.3 90.0h0M864.4 93.4h0M889.9 81.4h0M868.7 83.0h0M900.1 71.0h0M905.9 83.9h0M912.5 76.1h0M922.9 84.1h0M941.3 100.8h0M847.3 86.0h0M901.7 87.2h0M938.8 94.8h0M851.3 96.2h0M929.2 86.1h0M937.5 93.4h0M854.6 68.4h0M916.7 97.3h0M888.6 80.8h0M897.2 85.4h0M917.7 102.8h0M936.1 98.5h0M946.3 105.4h0M879.6 92.6h0M915.1 100.6h0M885.8 85.6h0M907.9 87.5h0M889.0 77.5h0M860.1 75.2h0M926.5 89.9h0M861.9 83.4h0M919.6 104.2h0M929.7 83.1h0M945.2 98.0h0M897.0 76.8h0M857.9 94.9h0M885.8 80.3h0M925.5 81.5h0M930.0 82.3h0M896.8 82.5h0M933.7 84.1h0M917.0 107.3h0M886.6 65.9h0M870.2 103.7h0M868.8 80.2h0M905.8 78.0h0M912.0 80.3h0M924.4 82.0h0M898.2 76.2h0M913.9 78.5h0M903.9 94.4h0M904.5 95.0h0M868.2 83.0h0M916.2 75.0h0M934.3 100.7h0M926.1 88.8h0M926.8 93.0h0M918.7 82.9h0M896.6 88.6h0M907.2 74.5h0M895.3 73.8h0M921.3 72.0h0M910.7 88.6h0M905.5 80.0h0M926.3 93.7h0M902.2 83.9h0M923.2 109.2h0M931.6 100.5h0M949.0 103.3h0M892.6 90.4h0M894.8 77.8h0M904.9 106.8h0M887.1 86.1h0M869.5 101.7h0M909.6 85.9h0M904.1 77.4h0M901.1 72.9h0M920.1 94.1h0M923.0 83.1h0M912.7 112.6h0M937.1 73.7h0M913.6 87.8h0M850.5 97.5h0M866.1 69.4h0M913.9 91.8h0M914.4 69.1h0M913.0 86.4h0M856.0 66.4h0M887.2 80.9h0M890.5 79.7h0M861.4 67.6h0M912.2 92.9h0M861.1 81.3h0M921.5 94.1h0M896.0 82.3h0M933.1 106.2h0M873.1 84.3h0M937.4 91.9h0M869.9 94.7h0M884.4 90.4h0M889.8 81.7h0M929.2 81.3h0M858.2 78.8h0M921.6 90.0h0M911.2 72.4h0M906.9 70.5h0M879.9 104.1h0M907.8 76.3h0M927.4 91.2h0M900.0 67.7h0M901.4 88.4h0M909.7 91.2h0M916.7 76.3h0M921.4 82.9h0" stroke="#62b054" stroke-opacity="0.16" stroke-width="2.7" stroke-linecap="round" fill="none"/>
<path d="M931.7 102.8h0M861.7 65.1h0M939.6 103.1h0M912.7 77.7h0M856.2 98.6h0M906.8 79.9h0M945.8 90.4h0M858.9 73.5h0M870.0 103.2h0M900.4 75.4h0M855.4 70.6h0M913.6 76.7h0M909.5 83.4h0M911.8 86.1h0M879.3 87.5h0M919.7 83.5h0M927.4 90.3h0M920.6 74.7h0M840.2 74.9h0M851.8 92.6h0M853.4 93.1h0M919.3 75.4h0M855.0 66.1h0M896.2 92.5h0M873.5 86.2h0M941.6 78.9h0M873.5 92.5h0M914.1 76.2h0M900.4 75.7h0M862.0 73.6h0M840.3 88.5h0M923.1 93.9h0M928.6 80.3h0M912.4 71.4h0M901.4 77.4h0M895.9 78.6h0M896.9 82.4h0M851.1 96.0h0M909.8 86.0h0M941.6 99.6h0M898.3 99.6h0M915.3 83.8h0M857.8 101.4h0M943.3 90.6h0M861.6 89.2h0M844.8 78.2h0M947.5 88.4h0M910.5 83.1h0M850.4 69.9h0M921.1 67.9h0M924.2 96.0h0M862.5 69.6h0M863.4 76.0h0M924.4 92.0h0M912.8 95.9h0M921.7 94.9h0M932.7 94.8h0M902.6 86.3h0M887.0 82.5h0M903.0 73.6h0M916.3 82.9h0M863.4 69.1h0M866.2 86.7h0M907.3 75.8h0M892.5 75.5h0M910.6 82.1h0M895.9 87.2h0M936.5 83.1h0M849.8 61.6h0M915.1 83.4h0M846.8 89.0h0M903.1 81.0h0M913.5 82.2h0M881.3 71.8h0M921.1 82.6h0M878.8 87.1h0M857.2 73.4h0M938.7 73.6h0M912.4 73.3h0M917.7 94.4h0M925.5 80.2h0M921.3 100.0h0M866.9 69.1h0M927.5 87.5h0M889.8 108.3h0M905.9 68.8h0M849.4 80.3h0M927.4 96.6h0M927.1 79.8h0M929.1 88.7h0M904.9 86.0h0M857.1 82.1h0M921.4 70.5h0M921.4 95.4h0M895.7 88.0h0M885.3 105.5h0M846.8 88.6h0M923.0 72.7h0M899.8 82.8h0M867.3 71.6h0M845.9 101.1h0M915.2 83.6h0M911.8 70.7h0M922.3 109.7h0M914.7 86.5h0M898.6 74.2h0M907.8 80.7h0M880.2 64.6h0M887.0 108.6h0M875.6 76.7h0M889.4 75.1h0M929.6 74.7h0M852.0 82.6h0M926.9 104.0h0M905.3 89.7h0M908.4 82.0h0M906.6 74.2h0M912.6 93.6h0M896.9 75.4h0M942.1 90.8h0M904.6 82.1h0M905.7 106.3h0M902.2 82.2h0M906.4 79.0h0M908.2 88.6h0M951.2 109.0h0M914.3 91.2h0M901.1 82.9h0M931.9 94.2h0M927.7 82.3h0M888.7 92.1h0M886.7 92.4h0M931.2 89.4h0M908.5 105.2h0M927.7 86.6h0M934.9 101.2h0M940.9 87.9h0M928.5 90.7h0M925.1 99.1h0M936.6 85.9h0M864.0 92.9h0M925.3 101.8h0" stroke="#62b054" stroke-opacity="0.16" stroke-width="2.7" stroke-linecap="round" fill="none"/>
<path d="M780.7 105.3h0M731.7 101.7h0M742.4 94.7h0M826.4 101.2h0M736.5 106.6h0M749.5 103.8h0M722.3 89.3h0M781.7 107.0h0M737.0 100.2h0M808.6 121.2h0M749.1 96.6h0M811.6 112.3h0M776.1 115.6h0M760.7 106.8h0M748.3 126.8h0M749.7 93.8h0M751.0 95.4h0M743.2 101.2h0M810.0 121.9h0M854.1 97.9h0M741.7 103.7h0M734.8 111.7h0M757.3 94.0h0M780.5 121.2h0M816.9 93.7h0M746.9 103.9h0M749.5 102.4h0M816.5 110.4h0M744.1 104.7h0M746.2 89.9h0M817.6 92.1h0M746.7 95.5h0M749.5 105.8h0M792.3 121.2h0M847.8 94.7h0M838.3 99.7h0M748.4 109.5h0M748.5 103.5h0M755.2 108.0h0M826.3 91.7h0M736.9 104.9h0M742.5 120.1h0M754.3 100.1h0M736.4 98.2h0M826.0 116.6h0M749.2 138.5h0M748.5 111.0h0M776.8 98.1h0M739.9 104.2h0M818.2 98.3h0M749.9 112.8h0M747.0 91.8h0M753.2 111.2h0M737.6 108.5h0M821.3 106.2h0M744.0 100.9h0M720.5 105.6h0M741.2 92.1h0M753.8 100.7h0M795.4 118.7h0M739.8 99.0h0M823.7 95.9h0" stroke="#9ea684" stroke-opacity="0.15" stroke-width="2.7" stroke-linecap="round" fill="none"/>
<path d="M836.0 107.6h0M827.5 98.4h0M751.1 101.8h0M800.0 109.2h0M822.8 102.0h0M747.6 91.2h0M752.7 107.7h0M796.5 122.8h0M825.1 98.0h0M737.7 105.5h0M752.8 96.7h0M802.3 115.0h0M827.6 122.2h0M776.9 109.6h0M744.6 99.6h0M776.4 105.4h0M788.2 106.2h0M784.9 101.1h0M742.7 92.3h0M812.7 98.0h0M765.9 106.4h0M756.9 97.4h0M744.0 93.2h0M805.2 121.5h0M743.3 113.3h0M834.3 104.5h0M798.6 121.8h0M770.7 103.2h0M733.4 102.1h0M747.3 99.3h0M788.2 102.7h0M754.0 97.5h0M738.2 93.8h0M824.7 90.3h0M734.6 100.6h0M807.1 98.9h0M822.6 105.4h0M772.0 96.5h0M840.2 99.9h0M845.5 87.7h0M828.0 99.5h0M807.3 102.7h0M757.7 100.8h0M745.7 105.0h0M753.0 100.2h0M745.6 101.6h0M793.5 128.7h0M736.5 103.7h0M738.8 110.1h0M749.4 114.1h0M853.3 125.7h0M756.0 100.6h0M741.2 89.4h0M755.1 103.0h0M821.5 97.7h0M754.6 86.0h0M747.1 114.1h0M759.5 88.7h0M781.2 116.0h0M764.1 131.6h0M743.1 98.5h0" stroke="#9ea684" stroke-opacity="0.15" stroke-width="2.7" stroke-linecap="round" fill="none"/>
<path d="M779.6 138.4h0M741.5 96.5h0M833.3 110.8h0M753.7 101.0h0M744.8 107.9h0M751.5 102.6h0M746.3 93.2h0M844.3 98.6h0M808.9 121.2h0M760.5 101.4h0M817.4 96.4h0M747.0 103.6h0M828.7 109.3h0M751.8 107.5h0M817.5 104.8h0M815.0 100.6h0M758.7 101.1h0M755.8 106.9h0M833.0 98.8h0M734.1 107.0h0M834.6 113.6h0M789.2 124.2h0M769.5 117.6h0M779.9 129.2h0M777.4 121.9h0M752.0 102.4h0M818.8 111.3h0M733.2 92.9h0M791.1 89.4h0M811.1 107.3h0M749.7 101.8h0M742.4 106.9h0M735.9 107.2h0M743.0 95.0h0M760.9 110.5h0M762.2 116.5h0M785.3 118.1h0M757.7 109.8h0M737.5 108.1h0M745.0 96.8h0M738.4 106.5h0M839.8 107.9h0M839.9 103.4h0M755.8 105.6h0M834.3 96.3h0M791.8 125.0h0M781.5 104.2h0M752.1 93.7h0M845.9 88.1h0M741.9 101.3h0M757.2 111.1h0M737.2 105.0h0M738.3 100.3h0M827.4 102.9h0M734.8 110.8h0M758.7 101.1h0M750.5 106.0h0M743.9 104.6h0M801.5 103.3h0M797.4 129.2h0M753.4 101.0h0" stroke="#9ea684" stroke-opacity="0.15" stroke-width="2.7" stroke-linecap="round" fill="none"/>
<path d="M741.1 115.0h0M737.1 101.8h0M792.6 100.5h0M755.2 91.0h0M761.2 117.1h0M786.5 123.8h0M742.7 101.9h0M828.0 98.4h0M756.2 100.0h0M752.3 95.6h0M778.9 110.6h0M739.8 103.6h0M806.7 96.8h0M844.8 90.6h0M806.1 113.0h0M744.7 118.8h0M809.1 110.7h0M729.8 106.0h0M784.4 94.8h0M752.9 89.4h0M753.3 109.1h0M820.9 116.3h0M782.5 118.0h0M755.4 99.9h0M808.4 125.5h0M771.2 117.2h0M801.0 109.6h0M758.3 101.5h0M751.8 118.0h0M755.5 103.2h0M769.2 104.4h0M812.8 109.2h0M797.6 103.7h0M745.7 108.9h0M747.7 103.5h0M834.7 98.3h0M772.8 91.5h0M740.0 100.9h0M756.7 104.8h0M772.0 112.7h0M795.7 127.8h0M813.8 105.6h0M746.0 97.5h0M831.6 106.5h0M782.3 126.6h0M746.2 93.7h0M760.8 121.4h0M789.7 102.6h0M770.9 130.3h0M820.0 110.8h0M745.0 99.7h0M749.5 102.9h0M751.3 96.8h0M746.3 117.9h0M857.4 107.8h0M785.0 88.1h0M822.2 98.8h0M818.2 107.1h0M750.7 85.2h0M738.8 97.2h0M738.2 96.8h0" stroke="#9ea684" stroke-opacity="0.15" stroke-width="2.7" stroke-linecap="round" fill="none"/>
<path d="M900.8 161.3h0M891.9 150.2h0M907.9 140.4h0M876.0 150.8h0M901.8 142.8h0M920.4 181.4h0M918.9 169.5h0M874.2 154.9h0M888.6 164.3h0M904.3 184.7h0M898.7 164.4h0M894.8 169.8h0M902.5 157.3h0M891.4 156.4h0M869.5 143.2h0M906.3 144.8h0M903.2 170.7h0M877.9 147.1h0M896.4 163.7h0M852.6 147.1h0M901.8 156.9h0M917.4 155.9h0M847.6 157.7h0M918.4 158.5h0M917.3 164.2h0M881.0 146.1h0M910.7 183.2h0M854.3 156.3h0M897.8 152.7h0M903.8 160.9h0M890.9 170.6h0M889.5 137.7h0M900.8 154.7h0M882.7 136.2h0M901.4 162.8h0M896.9 167.2h0M894.1 153.5h0M913.1 155.7h0M917.6 134.1h0M908.5 172.5h0M854.0 143.6h0M905.0 146.3h0M892.2 158.6h0M901.8 160.9h0M906.7 151.9h0M905.8 154.5h0M917.3 148.4h0M929.8 169.2h0M908.1 165.1h0M912.7 159.9h0M914.9 161.9h0M880.1 147.1h0M907.5 158.8h0M863.8 130.4h0M899.9 150.0h0M929.8 156.7h0M886.3 154.6h0M907.0 158.4h0" stroke="#e6cfa8" stroke-opacity="0.12" stroke-width="2.7" stroke-linecap="round" fill="none"/>
<path d="M908.2 147.8h0M904.3 141.6h0M906.0 167.1h0M870.7 149.6h0M884.6 166.6h0M920.0 164.6h0M913.6 146.8h0M836.3 154.6h0M867.8 135.1h0M878.2 144.4h0M898.1 167.1h0M874.5 145.6h0M863.5 160.3h0M873.5 154.5h0M864.8 137.5h0M881.9 144.8h0M877.4 154.6h0M910.2 146.6h0M858.8 141.3h0M912.3 160.9h0M907.4 146.0h0M899.5 147.0h0M890.5 157.6h0M912.6 162.7h0M907.7 156.9h0M903.9 140.2h0M917.2 154.1h0M905.5 136.3h0M900.2 145.8h0M909.5 145.0h0M903.4 170.8h0M901.8 160.7h0M903.7 142.8h0M881.6 147.6h0M903.2 145.4h0M870.9 162.1h0M866.6 136.4h0M913.4 145.1h0M897.4 176.0h0M870.8 133.6h0M909.4 156.3h0M916.7 149.9h0M880.6 164.2h0M865.9 151.2h0M911.6 147.0h0M895.8 141.8h0M903.0 167.3h0M901.2 147.8h0M906.8 160.0h0M889.4 168.4h0M888.9 157.2h0M879.4 149.0h0M877.0 144.5h0M882.1 160.7h0M903.3 155.9h0M860.2 162.7h0M855.6 143.4h0M908.0 156.5h0" stroke="#e6cfa8" stroke-opacity="0.12" stroke-width="2.7" stroke-linecap="round" fill="none"/>
<path d="M911.1 141.5h0M894.2 159.4h0M868.6 155.6h0M916.6 164.8h0M910.7 160.8h0M920.0 148.3h0M903.4 159.4h0M892.1 156.4h0M900.3 165.8h0M905.1 147.4h0M905.3 163.6h0M915.0 149.7h0M873.2 143.1h0M864.5 151.9h0M909.8 154.2h0M917.5 158.6h0M872.8 151.0h0M867.2 153.5h0M904.2 176.6h0M878.8 148.1h0M895.9 159.5h0M905.7 162.4h0M875.8 152.3h0M911.6 162.5h0M909.1 158.4h0M900.0 167.8h0M896.6 168.0h0M853.7 149.0h0M878.0 145.0h0M903.7 178.2h0M878.1 149.0h0M910.3 147.6h0M910.7 148.4h0M913.1 156.4h0M909.2 152.6h0M901.1 143.4h0M913.4 152.5h0M897.4 132.9h0M901.2 144.9h0M900.7 175.5h0M898.7 165.1h0M892.2 142.6h0M900.8 153.4h0M904.3 153.9h0M909.7 179.3h0M910.6 137.6h0M853.7 149.4h0M897.9 168.3h0M899.0 146.7h0M906.9 149.9h0M857.6 155.7h0M899.3 170.1h0M900.5 148.5h0M904.4 166.8h0M899.4 157.5h0M871.3 146.7h0M905.6 155.1h0" stroke="#e6cfa8" stroke-opacity="0.12" stroke-width="2.7" stroke-linecap="round" fill="none"/>
<path d="M902.4 146.4h0M875.1 152.2h0M916.7 160.2h0M901.2 158.6h0M897.4 160.3h0M904.5 154.2h0M892.8 159.2h0M872.5 140.2h0M905.9 153.8h0M912.3 161.8h0M913.4 145.6h0M911.0 159.8h0M928.0 175.4h0M853.6 162.8h0M892.4 161.7h0M896.8 152.4h0M870.6 134.9h0M908.2 160.0h0M908.8 153.2h0M908.7 151.1h0M907.8 161.0h0M900.7 151.7h0M914.8 140.2h0M846.3 139.8h0M907.7 161.4h0M910.7 149.2h0M912.5 155.4h0M908.4 151.4h0M907.9 151.8h0M901.7 150.0h0M898.5 135.0h0M906.0 155.8h0M913.2 152.4h0M909.1 142.6h0M927.4 165.7h0M910.5 168.7h0M878.4 152.7h0M902.0 160.3h0M897.7 163.1h0M907.7 158.1h0M899.8 164.2h0M901.8 161.1h0M898.7 130.6h0M878.3 134.9h0M867.5 157.4h0M915.8 151.7h0M908.8 156.1h0M914.3 167.3h0M908.7 137.9h0M858.5 156.3h0M882.1 165.0h0M859.4 147.0h0M914.7 162.0h0M887.9 155.5h0M908.7 148.4h0M919.4 172.4h0M905.8 148.5h0" stroke="#e6cfa8" stroke-opacity="0.12" stroke-width="2.7" stroke-linecap="round" fill="none"/>
<path d="M673.0 207.7h0M698.9 204.5h0M673.2 216.7h0M683.2 211.6h0M689.2 208.4h0M680.9 196.6h0M666.5 230.4h0M684.0 204.1h0M697.0 194.9h0M638.5 265.8h0M653.9 274.4h0M687.4 209.1h0M666.9 243.2h0M627.0 260.3h0M633.7 262.1h0M671.9 203.0h0M629.2 250.2h0M686.3 200.8h0M688.3 203.7h0M623.4 242.4h0M662.8 219.2h0M702.0 211.3h0M692.1 211.0h0M704.6 194.9h0M689.1 219.2h0M670.5 220.7h0M682.5 203.8h0M638.0 245.9h0M640.2 269.5h0M646.7 258.5h0M701.4 202.5h0M646.7 249.6h0M615.5 244.3h0M701.3 202.4h0M660.7 211.0h0M618.4 237.9h0M634.1 263.9h0M667.9 223.1h0M651.2 256.8h0M695.4 201.6h0M699.6 195.7h0M690.1 213.7h0M699.5 208.1h0M627.1 254.9h0M685.0 212.2h0M682.2 213.1h0M673.4 199.2h0M671.3 208.7h0M636.7 266.6h0M653.9 258.7h0M694.0 207.1h0M664.0 233.0h0M664.2 203.1h0M688.5 205.4h0M677.1 202.0h0M637.8 268.6h0M683.0 198.7h0M659.0 228.5h0M660.4 225.9h0M689.7 196.3h0M607.1 250.1h0M646.8 280.5h0M691.7 194.2h0M668.9 246.1h0M669.0 197.3h0M623.1 251.7h0M638.3 270.0h0M620.4 251.9h0M633.8 260.9h0M636.9 257.8h0M659.0 251.2h0M627.7 241.3h0M699.3 202.9h0M624.0 250.9h0M679.6 206.5h0M705.3 204.6h0M618.9 248.3h0M677.8 201.2h0M618.2 236.7h0M651.6 262.9h0M679.0 203.1h0M705.8 197.5h0M683.2 211.8h0M677.5 204.4h0M652.8 244.3h0M634.2 276.1h0M636.3 267.7h0M684.9 204.1h0" stroke="#9898d0" stroke-opacity="0.13" stroke-width="2.7" stroke-linecap="round" fill="none"/>
<path d="M672.2 200.4h0M684.2 209.1h0M659.6 239.4h0M631.8 263.2h0M644.4 232.5h0M685.9 192.2h0M629.4 259.5h0M696.1 205.2h0M688.6 200.3h0M671.8 246.8h0M632.3 239.7h0M643.8 266.4h0M648.5 272.4h0M679.4 218.4h0M642.7 268.6h0M658.5 246.0h0M642.1 264.3h0M629.9 247.6h0M686.1 191.0h0M680.8 213.9h0M660.3 235.3h0M678.5 194.8h0M648.9 243.1h0M633.0 268.9h0M672.2 205.9h0M615.4 255.6h0M647.4 254.0h0M626.3 253.3h0M691.1 196.8h0M655.2 243.0h0M665.2 237.0h0M671.0 207.5h0M658.0 237.2h0M618.5 232.8h0M685.2 209.9h0M688.2 209.7h0M678.7 202.4h0M675.8 200.0h0M616.4 253.4h0M693.8 194.5h0M632.9 258.5h0M682.1 209.3h0M696.2 214.6h0M676.6 194.8h0M692.8 201.1h0M618.7 236.4h0M652.6 222.5h0M652.8 251.3h0M671.1 202.3h0M637.0 254.2h0M675.1 205.1h0M648.9 268.1h0M665.8 204.1h0M684.7 217.1h0M616.2 245.8h0M642.0 265.7h0M665.4 242.8h0M646.4 258.2h0M631.6 267.0h0M642.1 258.9h0M650.4 269.6h0M621.9 247.3h0M642.0 267.8h0M646.2 225.6h0M628.4 245.4h0M649.4 267.8h0M650.9 245.2h0M684.2 201.5h0M680.7 209.4h0M654.3 268.6h0M623.1 256.2h0M657.3 236.8h0M704.1 201.2h0M695.9 200.8h0M695.0 208.6h0M671.9 206.6h0M694.7 216.0h0M629.9 237.9h0M688.0 221.7h0M687.8 199.7h0M674.3 221.3h0M634.3 274.3h0M656.1 223.3h0M630.8 258.5h0M693.5 199.3h0M688.3 198.3h0M624.6 251.3h0M669.5 209.3h0" stroke="#9898d0" stroke-opacity="0.13" stroke-width="2.7" stroke-linecap="round" fill="none"/>
<path d="M668.4 212.5h0M665.3 202.5h0M625.2 238.2h0M655.6 236.8h0M696.0 204.7h0M663.6 253.2h0M667.3 218.1h0M695.7 200.8h0M662.6 246.0h0M680.2 204.7h0M673.9 207.5h0M673.5 215.1h0M640.4 266.6h0M696.1 205.1h0M652.7 244.2h0M695.5 197.9h0M630.1 256.0h0M670.9 224.5h0M692.9 207.6h0M686.9 214.8h0M615.2 243.9h0M672.9 220.5h0M703.2 190.7h0M625.3 247.5h0M665.6 245.2h0M657.3 250.3h0M683.5 213.0h0M617.6 247.1h0M658.0 253.2h0M614.9 255.3h0M637.6 261.3h0M634.7 271.7h0M697.9 193.0h0M681.4 194.3h0M674.9 202.2h0M696.6 199.5h0M675.9 190.4h0M643.3 258.2h0M642.7 275.6h0M635.8 275.4h0M622.0 249.5h0M637.3 268.7h0M702.6 202.0h0M664.8 208.8h0M698.7 194.5h0M671.0 206.7h0M682.5 207.2h0M628.5 242.6h0M667.6 260.6h0M624.3 246.0h0M644.3 265.7h0M677.2 198.8h0M690.2 212.2h0M672.4 192.9h0M658.3 239.8h0M638.6 277.9h0M637.9 265.2h0M667.4 234.1h0M681.3 197.8h0M623.5 257.2h0M639.8 258.7h0M685.6 189.8h0M662.4 232.0h0M662.5 242.5h0M685.0 208.7h0M612.9 252.5h0M615.7 251.5h0M696.6 202.8h0M635.4 275.5h0M647.2 270.6h0M632.6 271.4h0M680.9 208.7h0M685.9 208.7h0M642.5 263.6h0M685.8 218.3h0M632.5 278.8h0M676.8 210.4h0M680.2 200.4h0M698.2 188.9h0M650.1 280.4h0M616.1 253.5h0M619.8 243.3h0M672.7 190.8h0M683.7 204.9h0M654.5 258.2h0M662.8 258.7h0M681.2 195.3h0" stroke="#9898d0" stroke-opacity="0.13" stroke-width="2.7" stroke-linecap="round" fill="none"/>
<path d="M683.1 206.3h0M638.6 259.2h0M678.3 195.6h0M675.7 209.4h0M628.3 268.1h0M640.5 274.3h0M683.8 200.7h0M634.1 261.4h0M632.8 258.2h0M634.3 261.8h0M677.0 207.3h0M661.0 239.8h0M654.3 260.8h0M632.4 275.3h0M665.6 230.5h0M652.0 230.1h0M644.0 277.3h0M678.8 211.2h0M684.5 203.3h0M653.8 266.5h0M668.3 252.6h0M648.9 262.9h0M648.8 263.7h0M663.2 269.6h0M642.4 238.6h0M686.0 198.5h0M628.3 227.9h0M671.7 213.1h0M676.6 202.2h0M658.2 252.0h0M620.6 242.9h0M704.4 191.0h0M699.6 204.6h0M690.7 192.4h0M629.1 260.8h0M690.9 206.7h0M679.5 194.4h0M691.3 200.6h0M701.7 207.1h0M699.5 206.6h0M624.6 234.7h0M626.5 245.5h0M655.5 231.5h0M644.7 262.2h0M647.1 270.5h0M687.4 197.1h0M625.0 238.9h0M635.5 275.0h0M620.4 240.8h0M644.2 264.8h0M695.6 189.4h0M702.5 205.5h0M648.0 276.8h0M678.4 214.8h0M642.8 275.3h0M692.4 196.4h0M677.3 200.4h0M665.3 213.3h0M682.5 207.6h0M687.2 208.1h0M640.7 261.8h0M633.0 265.3h0M629.9 242.4h0M670.7 225.3h0M646.4 269.0h0M637.9 258.3h0M690.6 202.7h0M676.6 178.5h0M665.1 195.4h0M677.4 200.3h0M680.8 209.9h0M645.7 257.9h0M625.1 232.3h0M636.6 264.1h0M632.0 244.1h0M683.3 201.5h0M618.6 225.8h0M653.2 259.8h0M676.5 204.2h0M615.3 239.6h0M693.3 205.6h0M610.0 241.3h0M687.2 193.3h0M622.2 259.2h0M659.3 251.0h0M640.4 270.5h0M682.9 197.7h0" stroke="#9898d0" stroke-opacity="0.13" stroke-width="2.7" stroke-linecap="round" fill="none"/>
<path d="M558.9 238.6h0M544.9 219.4h0M514.0 230.2h0M588.5 224.0h0M490.7 229.6h0M569.5 234.8h0M504.8 247.6h0M604.0 244.1h0M520.5 249.9h0M519.2 221.9h0M526.8 209.5h0M501.2 215.1h0M558.1 230.3h0M582.8 233.5h0M550.5 229.2h0M492.6 223.7h0M566.6 232.6h0M497.7 237.9h0M465.5 211.1h0M504.5 242.2h0M590.4 217.2h0M593.6 224.1h0M561.9 239.9h0M526.9 232.0h0M583.6 208.1h0M533.6 230.9h0M522.8 246.9h0M514.5 255.1h0M510.7 253.6h0M554.8 236.1h0M593.0 232.9h0M490.3 231.8h0M546.8 237.1h0M566.7 264.8h0M523.5 190.6h0M490.1 234.9h0M570.6 235.1h0M487.2 227.0h0M537.9 216.3h0M574.9 218.8h0M485.4 258.2h0M485.1 195.8h0M592.1 209.7h0M528.0 223.6h0M467.6 242.4h0M594.2 234.3h0M591.4 217.3h0M492.9 231.0h0M599.2 239.2h0M592.7 222.7h0M556.9 239.4h0M580.9 230.2h0M588.5 230.7h0M505.6 232.8h0M561.8 230.7h0M512.3 243.9h0M537.6 235.1h0M538.2 216.2h0M558.7 214.1h0M560.5 265.1h0M554.2 241.3h0M582.7 217.5h0M531.6 220.7h0M521.3 223.3h0M569.8 250.4h0M541.2 246.8h0M570.0 234.9h0M586.9 236.3h0M468.6 225.1h0M575.8 206.4h0M574.1 216.5h0M510.8 229.5h0M507.0 256.4h0M518.9 224.2h0M593.9 233.9h0M526.0 222.2h0M511.4 252.9h0M496.5 222.8h0M467.9 234.3h0M558.3 223.8h0M549.0 224.5h0M553.0 234.5h0M471.3 255.4h0M558.1 226.4h0M594.9 224.2h0M498.8 239.4h0M488.2 239.4h0M535.9 229.6h0M590.0 212.7h0M545.0 233.7h0M562.8 212.6h0M592.6 233.5h0M535.0 231.3h0M547.9 215.1h0M486.5 245.1h0M494.0 223.1h0M560.3 233.0h0M591.8 229.9h0M541.4 223.4h0M594.3 219.9h0M509.8 225.4h0M549.4 216.1h0M588.0 242.1h0M500.0 231.5h0M520.1 225.4h0" stroke="#eaa8ac" stroke-opacity="0.1" stroke-width="2.7" stroke-linecap="round" fill="none"/>
<path d="M518.4 236.6h0M490.9 232.9h0M566.4 237.6h0M605.5 222.6h0M487.9 212.7h0M518.8 227.3h0M526.9 259.0h0M570.5 223.4h0M528.9 238.2h0M482.4 228.7h0M547.6 218.2h0M522.9 231.9h0M446.0 226.5h0M591.2 224.9h0M568.4 228.6h0M529.3 210.2h0M519.4 232.6h0M519.9 239.0h0M559.6 235.1h0M514.0 244.5h0M494.9 215.5h0M598.3 224.6h0M601.6 218.6h0M557.7 221.8h0M501.4 235.3h0M514.4 223.3h0M501.3 241.5h0M628.4 232.2h0M592.3 232.2h0M559.5 259.8h0M590.8 244.7h0M508.6 247.6h0M527.5 237.7h0M505.0 247.4h0M546.8 219.0h0M552.7 223.6h0M535.5 233.0h0M598.8 227.0h0M536.8 202.5h0M550.9 220.1h0M569.3 254.6h0M515.4 222.0h0M567.2 213.8h0M520.0 239.7h0M518.6 239.5h0M556.0 238.5h0M488.0 209.8h0M574.9 237.4h0M590.5 222.9h0M544.6 255.5h0M558.0 216.5h0M604.4 230.0h0M475.9 227.8h0M613.6 208.7h0M592.5 225.2h0M528.5 254.8h0M520.1 235.0h0M515.2 218.3h0M539.7 209.5h0M528.6 244.1h0M520.6 220.4h0M499.1 235.5h0M505.5 227.9h0M550.2 226.9h0M562.3 222.5h0M517.0 217.4h0M483.1 208.1h0M585.4 233.1h0M537.8 246.8h0M530.7 253.2h0M508.6 234.0h0M540.5 215.3h0M515.2 237.7h0M545.7 208.8h0M602.1 217.0h0M520.7 269.7h0M546.3 241.7h0M511.6 236.0h0M612.1 236.2h0M482.2 224.1h0M501.5 219.3h0M508.5 218.9h0M515.0 231.2h0M449.8 256.9h0M586.7 226.8h0M551.8 233.5h0M564.0 235.3h0M456.0 233.3h0M584.6 245.7h0M537.9 264.2h0M521.2 215.8h0M525.5 218.3h0M508.9 242.6h0M556.4 240.8h0M524.2 228.0h0M529.7 213.9h0M533.1 243.1h0M592.3 224.5h0M593.3 226.8h0M581.7 210.7h0M565.0 227.5h0M574.9 224.8h0M560.5 229.2h0M592.0 245.6h0M529.8 236.4h0" stroke="#eaa8ac" stroke-opacity="0.1" stroke-width="2.7" stroke-linecap="round" fill="none"/>
<path d="M522.5 229.1h0M588.5 237.5h0M479.7 212.5h0M528.7 250.4h0M520.1 221.6h0M571.6 234.4h0M544.0 240.3h0M553.7 230.9h0M525.9 218.3h0M498.0 241.7h0M603.6 236.2h0M542.6 205.6h0M584.2 240.4h0M516.1 227.5h0M491.3 214.2h0M562.3 218.7h0M498.3 220.6h0M563.0 218.9h0M507.1 241.4h0M522.1 233.4h0M607.0 221.8h0M523.7 236.4h0M527.5 231.1h0M487.1 227.3h0M607.3 229.8h0M531.7 244.9h0M533.5 233.4h0M516.9 259.3h0M507.1 268.3h0M558.1 221.5h0M535.8 226.4h0M510.2 230.4h0M489.6 235.1h0M529.6 222.7h0M521.5 240.8h0M600.7 232.3h0M592.4 224.1h0M545.9 231.2h0M603.1 222.9h0M519.8 243.3h0M537.2 216.9h0M479.5 245.6h0M496.9 249.2h0M587.3 217.7h0M561.0 233.7h0M463.8 240.3h0M506.0 257.1h0M554.4 231.1h0M539.7 244.8h0M603.7 232.3h0M527.3 231.2h0M582.8 219.4h0M498.4 250.8h0M593.1 251.9h0M568.4 207.6h0M499.2 228.4h0M547.7 234.1h0M582.1 236.0h0M539.9 222.4h0M595.1 242.4h0M491.8 233.4h0M602.1 242.7h0M509.3 223.8h0M567.8 231.6h0M514.8 231.6h0M498.7 216.5h0M546.7 223.3h0M468.9 235.3h0M504.3 234.3h0M558.3 237.0h0M519.3 254.0h0M556.5 242.9h0M553.1 221.1h0M515.2 233.1h0M498.2 254.9h0M519.0 208.4h0M531.0 235.8h0M579.2 228.7h0M558.2 216.4h0M537.8 214.9h0M591.2 236.4h0M568.6 211.4h0M547.2 226.9h0M512.3 239.8h0M531.6 214.3h0M539.2 222.5h0M500.5 225.7h0M542.1 200.8h0M531.2 252.1h0M516.0 224.8h0M548.2 218.8h0M523.8 221.0h0M592.8 234.2h0M556.4 229.7h0M515.4 243.0h0M597.2 218.2h0M594.3 221.6h0M507.9 228.9h0M497.5 258.7h0M611.2 217.2h0M529.2 213.6h0M596.8 218.1h0M529.9 231.5h0M547.4 221.8h0M537.0 254.6h0" stroke="#eaa8ac" stroke-opacity="0.1" stroke-width="2.7" stroke-linecap="round" fill="none"/>
<path d="M529.3 229.1h0M573.9 225.1h0M524.7 218.0h0M564.5 209.9h0M535.2 234.5h0M575.7 220.5h0M599.9 226.9h0M599.9 216.7h0M526.3 230.5h0M493.5 242.2h0M512.7 235.1h0M564.7 231.6h0M476.5 249.2h0M536.0 224.2h0M482.7 219.5h0M533.3 230.4h0M544.0 216.7h0M489.3 207.5h0M539.4 230.2h0M575.8 216.6h0M507.1 233.0h0M581.9 238.2h0M516.7 241.1h0M503.6 227.5h0M524.1 266.2h0M564.1 239.1h0M606.8 233.2h0M594.6 239.2h0M518.9 240.3h0M543.5 205.2h0M554.5 199.3h0M523.4 229.2h0M486.9 257.5h0M574.6 246.3h0M602.4 222.7h0M492.2 217.4h0M509.9 250.1h0M532.9 233.3h0M584.3 224.6h0M594.3 216.0h0M485.3 214.0h0M483.7 239.5h0M604.6 230.8h0M592.6 227.3h0M579.9 219.6h0M529.5 232.6h0M533.5 212.9h0M508.5 229.6h0M556.2 227.5h0M536.1 223.0h0M558.5 222.6h0M476.4 240.1h0M531.6 232.5h0M489.7 264.3h0M530.1 234.4h0M515.3 242.7h0M500.3 256.2h0M534.6 238.3h0M598.9 225.8h0M554.2 256.2h0M501.8 247.5h0M519.2 266.6h0M474.1 234.9h0M595.8 236.4h0M575.1 234.8h0M502.9 238.3h0M542.6 244.7h0M512.3 240.3h0M581.4 230.5h0M542.3 240.0h0M595.4 220.3h0M536.6 238.2h0M504.9 227.2h0M478.2 249.2h0M550.2 226.2h0M555.5 216.2h0M546.0 221.6h0M592.1 220.5h0M556.8 222.7h0M537.3 238.1h0M607.8 261.0h0M522.5 232.7h0M568.6 221.3h0M513.5 249.7h0M527.5 255.0h0M559.1 221.4h0M579.2 209.3h0M552.4 239.3h0M488.0 259.5h0M526.5 227.6h0M481.2 230.1h0M603.4 224.7h0M515.7 226.9h0M512.3 242.7h0M498.2 213.7h0M569.8 212.5h0M511.8 227.4h0M494.3 222.9h0M579.3 219.8h0M535.4 235.0h0M517.3 218.1h0M506.5 215.8h0M512.8 244.8h0M523.6 250.2h0M597.4 229.6h0" stroke="#eaa8ac" stroke-opacity="0.1" stroke-width="2.7" stroke-linecap="round" fill="none"/>
<path d="M805.4 336.2h0M827.9 340.2h0M778.4 330.7h0M784.0 322.6h0M765.9 355.0h0M781.9 319.8h0M784.8 335.4h0M761.4 347.4h0M807.3 351.3h0M775.9 343.5h0M819.4 346.9h0M793.7 351.2h0M790.1 349.0h0M797.9 350.9h0M789.0 329.4h0M794.4 330.4h0M804.9 324.6h0M776.4 334.2h0M792.3 319.6h0M793.2 363.8h0M792.0 320.8h0M802.0 345.0h0M778.6 354.4h0M787.9 331.7h0M792.6 324.5h0M765.5 321.7h0M775.6 335.3h0M807.4 315.4h0M824.6 323.1h0M781.9 329.3h0M790.7 338.9h0M790.1 370.3h0M800.2 323.1h0M813.0 331.1h0M802.2 330.4h0M808.2 342.3h0M798.1 319.0h0M784.6 331.9h0" stroke="#e69a9a" stroke-opacity="0.09" stroke-width="2.7" stroke-linecap="round" fill="none"/>
<path d="M816.5 335.2h0M816.4 344.0h0M798.6 332.8h0M814.8 347.9h0M792.6 337.7h0M796.7 326.4h0M783.8 339.5h0M799.0 332.5h0M812.4 363.6h0M797.4 359.2h0M768.4 348.6h0M807.5 316.0h0M794.8 312.5h0M788.8 358.7h0M806.7 334.1h0M813.5 345.9h0M792.0 333.5h0M757.2 333.9h0M785.8 354.6h0M773.6 329.0h0M784.7 360.7h0M779.6 365.9h0M810.6 321.3h0M778.2 323.2h0M774.6 325.3h0M783.2 332.8h0M776.9 336.1h0M767.9 314.7h0M764.9 342.0h0M790.3 318.9h0M772.6 312.4h0M811.9 342.5h0M800.4 343.9h0M782.8 332.7h0M790.8 344.1h0M798.1 332.2h0M812.2 328.3h0M779.9 342.0h0" stroke="#e69a9a" stroke-opacity="0.09" stroke-width="2.7" stroke-linecap="round" fill="none"/>
<path d="M761.5 343.3h0M788.6 337.8h0M747.6 335.2h0M792.6 333.2h0M768.2 323.1h0M805.0 329.4h0M770.1 346.0h0M804.2 348.8h0M835.8 313.1h0M810.3 340.7h0M785.0 332.5h0M806.4 347.9h0M795.6 331.9h0M791.3 363.1h0M823.8 336.6h0M772.7 341.8h0M788.4 315.4h0M808.2 319.5h0M808.4 336.3h0M780.3 356.3h0M788.3 323.1h0M776.9 330.7h0M802.1 344.4h0M774.0 337.1h0M806.1 345.8h0M789.5 330.0h0M824.9 341.7h0M775.7 336.4h0M788.6 333.2h0M802.9 322.7h0M815.8 344.7h0M795.5 319.6h0M754.5 332.5h0M790.6 339.7h0M811.4 320.3h0M756.0 338.9h0M796.8 358.8h0" stroke="#e69a9a" stroke-opacity="0.09" stroke-width="2.7" stroke-linecap="round" fill="none"/>
<path d="M771.3 340.2h0M794.0 338.6h0M783.5 342.8h0M763.8 332.8h0M766.9 344.9h0M781.4 343.0h0M774.2 341.7h0M799.8 358.4h0M816.4 330.6h0M785.3 320.8h0M810.7 340.9h0M799.6 343.3h0M772.2 336.4h0M802.7 324.2h0M793.8 325.4h0M799.7 327.3h0M793.0 323.8h0M790.7 326.2h0M795.3 337.6h0M794.1 339.6h0M802.4 339.8h0M807.8 354.5h0M791.4 323.7h0M801.7 322.9h0M790.2 335.3h0M805.4 342.6h0M819.3 322.3h0M784.5 347.3h0M803.3 341.1h0M781.9 347.5h0M786.9 327.6h0M770.9 347.8h0M790.7 331.1h0M779.8 346.7h0M819.0 343.5h0M783.6 341.3h0M814.9 307.4h0" stroke="#e69a9a" stroke-opacity="0.09" stroke-width="2.7" stroke-linecap="round" fill="none"/>
<clipPath id="bx"><rect x="864" y="300" width="80" height="38"/></clipPath>
<g fill="#b6c8d4"><path d="M911.1 320.0L910.0 321.6L908.2 326.3L908.0 326.5L907.9 326.8L907.7 327.0L904.9 330.9L905.9 337.4L906.9 342.3L907.0 342.7L907.0 343.0L907.0 343.3L906.9 343.6L906.9 344.0L906.8 344.3L906.6 344.6L906.4 344.9L906.3 345.1L904.6 347.2L904.6 353.0L904.6 353.3L904.5 353.7L904.4 354.0L904.3 354.3L904.2 354.6L904.0 354.9L903.8 355.2L903.6 355.5L903.3 355.7L903.0 355.9L902.7 356.0L902.4 356.2L902.1 356.3L894.8 358.2L887.8 361.1L887.5 361.2L887.3 361.3L887.0 361.4L883.6 361.8L880.9 362.4L880.7 363.0L880.9 363.6L883.5 364.1L888.8 364.6L889.1 364.7L889.4 364.7L889.8 364.8L890.0 365.0L890.3 365.1L890.6 365.3L890.8 365.5L891.1 365.8L891.3 366.0L891.4 366.3L891.6 366.6L891.7 366.9L892.4 368.9L892.5 369.2L892.6 369.6L892.6 369.9L892.6 370.3L892.5 370.7L891.9 374.0L895.2 377.8L895.4 378.0L895.6 378.3L895.7 378.6L895.8 379.0L895.9 379.3L896.0 379.6L896.0 380.0L896.0 380.3L895.7 383.3L895.6 383.7L894.6 388.7L894.6 389.0L894.5 389.3L894.3 389.6L894.2 389.8L894.0 390.1L893.8 390.3L890.8 393.5L890.5 398.2L890.5 398.6L890.4 398.9L890.3 399.2L890.2 399.5L890.0 399.8L889.8 400.1L889.6 400.3L889.3 400.5L889.1 400.8L888.8 400.9L888.5 401.1L888.2 401.2L884.7 402.4L884.7 404.7L885.4 408.7L885.7 408.9L888.0 408.1L890.4 405.5L890.6 402.7L890.7 402.4L890.7 402.1L890.8 401.8L891.0 401.5L891.1 401.2L891.3 400.9L891.5 400.7L891.8 400.4L892.0 400.2L892.3 400.0L892.6 399.9L892.9 399.8L895.8 398.8L899.9 397.0L899.6 395.7L899.5 395.4L899.5 395.1L899.5 394.7L899.6 394.4L899.6 394.1L899.7 393.8L899.9 393.4L900.0 393.2L900.2 392.9L900.5 392.6L900.7 392.4L901.0 392.2L901.3 392.0L905.7 389.6L906.6 387.2L906.8 386.9L907.0 386.6L907.2 386.3L907.4 386.1L907.7 385.9L907.9 385.7L908.2 385.5L911.8 383.6L912.4 381.9L912.5 381.6L912.6 381.3L912.8 381.1L913.0 380.8L913.2 380.6L913.4 380.4L913.7 380.2L918.1 377.2L921.5 374.7L921.6 374.7L924.1 373.0L923.6 370.9L923.0 369.1L923.0 369.1L921.3 364.1L921.2 363.8L921.1 363.5L921.1 363.2L921.1 362.8L921.1 362.5L921.2 362.2L921.3 361.9L921.4 361.6L921.5 361.3L921.7 361.0L921.9 360.8L922.1 360.6L924.7 358.1L926.4 353.8L928.2 348.8L928.3 348.5L930.4 344.2L930.7 337.9L930.7 337.7L931.1 333.7L931.2 333.3L931.2 333.0L931.4 332.7L931.5 332.4L931.7 332.1L931.8 331.9L933.4 329.9L933.7 328.8L933.3 328.2L929.7 327.9L929.4 327.8L929.1 327.8L928.8 327.7L928.5 327.5L923.5 325.0L923.2 324.9L922.9 324.7L922.7 324.5L922.4 324.2L922.2 324.0L922.0 323.7L920.4 320.9L918.8 319.8L914.2 319.2L911.1 320.0Z"/><circle cx="855.3" cy="375.3" r="3.7"/><circle cx="869.4" cy="385.1" r="3.7"/><circle cx="884.4" cy="379.0" r="3.7"/><circle cx="891.5" cy="349.4" r="3.7"/><circle cx="895.5" cy="339.6" r="3.7"/><circle cx="865.7" cy="359.4" r="3.7"/><circle cx="870.6" cy="362.5" r="3.7"/><circle cx="866.3" cy="366.2" r="3.7"/><circle cx="891.3" cy="334.0" r="3.7"/><circle cx="934.0" cy="328.0" r="3.7"/><circle cx="874.2" cy="282.3" r="3.7"/><circle cx="857.2" cy="323.5" r="3.7"/><circle cx="826.2" cy="347.2" r="3.7"/><circle cx="590.2" cy="395.2" r="3.7"/><circle cx="640.2" cy="424.3" r="3.7"/><circle cx="531.0" cy="439.2" r="3.7"/><circle cx="245.3" cy="417.3" r="3.7"/><circle cx="750.2" cy="114.5" r="3.7"/><circle cx="911.0" cy="319.5" r="3.7"/><circle cx="909.0" cy="324.2" r="3.7"/><circle cx="907.8" cy="327.7" r="3.7"/><circle cx="905.1" cy="331.4" r="3.7"/><circle cx="906.0" cy="335.0" r="3.7"/><circle cx="906.3" cy="339.4" r="3.7"/><circle cx="906.8" cy="343.4" r="3.7"/><circle cx="905.0" cy="346.9" r="3.7"/><circle cx="904.7" cy="351.1" r="3.7"/><circle cx="904.0" cy="355.1" r="3.7"/><circle cx="900.3" cy="356.7" r="3.7"/><circle cx="896.3" cy="357.7" r="3.7"/><circle cx="892.3" cy="359.2" r="3.7"/><circle cx="888.5" cy="361.0" r="3.7"/><circle cx="884.1" cy="362.1" r="3.7"/><circle cx="880.4" cy="363.1" r="3.7"/><circle cx="884.7" cy="364.2" r="3.7"/><circle cx="889.1" cy="364.7" r="3.7"/><circle cx="892.3" cy="366.7" r="3.7"/><circle cx="892.5" cy="371.5" r="3.7"/><circle cx="892.8" cy="374.5" r="3.7"/><circle cx="895.8" cy="378.5" r="3.7"/><circle cx="895.4" cy="382.5" r="3.7"/><circle cx="894.6" cy="386.7" r="3.7"/><circle cx="893.8" cy="390.3" r="3.7"/><circle cx="890.8" cy="393.2" r="3.7"/><circle cx="890.4" cy="397.8" r="3.7"/><circle cx="888.1" cy="401.2" r="3.7"/><circle cx="884.8" cy="402.9" r="3.7"/><circle cx="885.2" cy="407.3" r="3.7"/><circle cx="887.9" cy="408.2" r="3.7"/><circle cx="890.6" cy="405.3" r="3.7"/><circle cx="891.2" cy="401.5" r="3.7"/><circle cx="894.4" cy="399.6" r="3.7"/><circle cx="898.2" cy="397.8" r="3.7"/><circle cx="899.8" cy="394.4" r="3.7"/><circle cx="902.0" cy="391.5" r="3.7"/><circle cx="905.6" cy="389.8" r="3.7"/><circle cx="907.9" cy="386.0" r="3.7"/><circle cx="911.4" cy="383.5" r="3.7"/><circle cx="913.7" cy="380.1" r="3.7"/><circle cx="917.1" cy="377.7" r="3.7"/><circle cx="920.1" cy="375.7" r="3.7"/><circle cx="923.8" cy="373.0" r="3.7"/><circle cx="923.3" cy="368.5" r="3.7"/><circle cx="922.0" cy="365.2" r="3.7"/><circle cx="921.2" cy="360.8" r="3.7"/><circle cx="924.4" cy="358.3" r="3.7"/><circle cx="925.7" cy="354.6" r="3.7"/><circle cx="927.6" cy="350.4" r="3.7"/><circle cx="929.1" cy="346.4" r="3.7"/><circle cx="930.7" cy="342.8" r="3.7"/><circle cx="930.4" cy="338.1" r="3.7"/><circle cx="930.9" cy="334.7" r="3.7"/><circle cx="932.7" cy="330.9" r="3.7"/><circle cx="931.8" cy="328.6" r="3.7"/><circle cx="928.0" cy="327.3" r="3.7"/><circle cx="924.0" cy="325.6" r="3.7"/><circle cx="921.6" cy="322.1" r="3.7"/><circle cx="918.3" cy="319.3" r="3.7"/><circle cx="913.7" cy="319.1" r="3.7"/></g>
<g fill="#edeeea" clip-path="url(#bx)"><path d="M911.1 320.0L910.0 321.6L908.2 326.3L908.0 326.5L907.9 326.8L907.7 327.0L904.9 330.9L905.9 337.4L906.9 342.3L907.0 342.7L907.0 343.0L907.0 343.3L906.9 343.6L906.9 344.0L906.8 344.3L906.6 344.6L906.4 344.9L906.3 345.1L904.6 347.2L904.6 353.0L904.6 353.3L904.5 353.7L904.4 354.0L904.3 354.3L904.2 354.6L904.0 354.9L903.8 355.2L903.6 355.5L903.3 355.7L903.0 355.9L902.7 356.0L902.4 356.2L902.1 356.3L894.8 358.2L887.8 361.1L887.5 361.2L887.3 361.3L887.0 361.4L883.6 361.8L880.9 362.4L880.7 363.0L880.9 363.6L883.5 364.1L888.8 364.6L889.1 364.7L889.4 364.7L889.8 364.8L890.0 365.0L890.3 365.1L890.6 365.3L890.8 365.5L891.1 365.8L891.3 366.0L891.4 366.3L891.6 366.6L891.7 366.9L892.4 368.9L892.5 369.2L892.6 369.6L892.6 369.9L892.6 370.3L892.5 370.7L891.9 374.0L895.2 377.8L895.4 378.0L895.6 378.3L895.7 378.6L895.8 379.0L895.9 379.3L896.0 379.6L896.0 380.0L896.0 380.3L895.7 383.3L895.6 383.7L894.6 388.7L894.6 389.0L894.5 389.3L894.3 389.6L894.2 389.8L894.0 390.1L893.8 390.3L890.8 393.5L890.5 398.2L890.5 398.6L890.4 398.9L890.3 399.2L890.2 399.5L890.0 399.8L889.8 400.1L889.6 400.3L889.3 400.5L889.1 400.8L888.8 400.9L888.5 401.1L888.2 401.2L884.7 402.4L884.7 404.7L885.4 408.7L885.7 408.9L888.0 408.1L890.4 405.5L890.6 402.7L890.7 402.4L890.7 402.1L890.8 401.8L891.0 401.5L891.1 401.2L891.3 400.9L891.5 400.7L891.8 400.4L892.0 400.2L892.3 400.0L892.6 399.9L892.9 399.8L895.8 398.8L899.9 397.0L899.6 395.7L899.5 395.4L899.5 395.1L899.5 394.7L899.6 394.4L899.6 394.1L899.7 393.8L899.9 393.4L900.0 393.2L900.2 392.9L900.5 392.6L900.7 392.4L901.0 392.2L901.3 392.0L905.7 389.6L906.6 387.2L906.8 386.9L907.0 386.6L907.2 386.3L907.4 386.1L907.7 385.9L907.9 385.7L908.2 385.5L911.8 383.6L912.4 381.9L912.5 381.6L912.6 381.3L912.8 381.1L913.0 380.8L913.2 380.6L913.4 380.4L913.7 380.2L918.1 377.2L921.5 374.7L921.6 374.7L924.1 373.0L923.6 370.9L923.0 369.1L923.0 369.1L921.3 364.1L921.2 363.8L921.1 363.5L921.1 363.2L921.1 362.8L921.1 362.5L921.2 362.2L921.3 361.9L921.4 361.6L921.5 361.3L921.7 361.0L921.9 360.8L922.1 360.6L924.7 358.1L926.4 353.8L928.2 348.8L928.3 348.5L930.4 344.2L930.7 337.9L930.7 337.7L931.1 333.7L931.2 333.3L931.2 333.0L931.4 332.7L931.5 332.4L931.7 332.1L931.8 331.9L933.4 329.9L933.7 328.8L933.3 328.2L929.7 327.9L929.4 327.8L929.1 327.8L928.8 327.7L928.5 327.5L923.5 325.0L923.2 324.9L922.9 324.7L922.7 324.5L922.4 324.2L922.2 324.0L922.0 323.7L920.4 320.9L918.8 319.8L914.2 319.2L911.1 320.0Z"/><circle cx="855.3" cy="375.3" r="3.7"/><circle cx="869.4" cy="385.1" r="3.7"/><circle cx="884.4" cy="379.0" r="3.7"/><circle cx="891.5" cy="349.4" r="3.7"/><circle cx="895.5" cy="339.6" r="3.7"/><circle cx="865.7" cy="359.4" r="3.7"/><circle cx="870.6" cy="362.5" r="3.7"/><circle cx="866.3" cy="366.2" r="3.7"/><circle cx="891.3" cy="334.0" r="3.7"/><circle cx="934.0" cy="328.0" r="3.7"/><circle cx="874.2" cy="282.3" r="3.7"/><circle cx="857.2" cy="323.5" r="3.7"/><circle cx="826.2" cy="347.2" r="3.7"/><circle cx="590.2" cy="395.2" r="3.7"/><circle cx="640.2" cy="424.3" r="3.7"/><circle cx="531.0" cy="439.2" r="3.7"/><circle cx="245.3" cy="417.3" r="3.7"/><circle cx="750.2" cy="114.5" r="3.7"/><circle cx="911.0" cy="319.5" r="3.7"/><circle cx="909.0" cy="324.2" r="3.7"/><circle cx="907.8" cy="327.7" r="3.7"/><circle cx="905.1" cy="331.4" r="3.7"/><circle cx="906.0" cy="335.0" r="3.7"/><circle cx="906.3" cy="339.4" r="3.7"/><circle cx="906.8" cy="343.4" r="3.7"/><circle cx="905.0" cy="346.9" r="3.7"/><circle cx="904.7" cy="351.1" r="3.7"/><circle cx="904.0" cy="355.1" r="3.7"/><circle cx="900.3" cy="356.7" r="3.7"/><circle cx="896.3" cy="357.7" r="3.7"/><circle cx="892.3" cy="359.2" r="3.7"/><circle cx="888.5" cy="361.0" r="3.7"/><circle cx="884.1" cy="362.1" r="3.7"/><circle cx="880.4" cy="363.1" r="3.7"/><circle cx="884.7" cy="364.2" r="3.7"/><circle cx="889.1" cy="364.7" r="3.7"/><circle cx="892.3" cy="366.7" r="3.7"/><circle cx="892.5" cy="371.5" r="3.7"/><circle cx="892.8" cy="374.5" r="3.7"/><circle cx="895.8" cy="378.5" r="3.7"/><circle cx="895.4" cy="382.5" r="3.7"/><circle cx="894.6" cy="386.7" r="3.7"/><circle cx="893.8" cy="390.3" r="3.7"/><circle cx="890.8" cy="393.2" r="3.7"/><circle cx="890.4" cy="397.8" r="3.7"/><circle cx="888.1" cy="401.2" r="3.7"/><circle cx="884.8" cy="402.9" r="3.7"/><circle cx="885.2" cy="407.3" r="3.7"/><circle cx="887.9" cy="408.2" r="3.7"/><circle cx="890.6" cy="405.3" r="3.7"/><circle cx="891.2" cy="401.5" r="3.7"/><circle cx="894.4" cy="399.6" r="3.7"/><circle cx="898.2" cy="397.8" r="3.7"/><circle cx="899.8" cy="394.4" r="3.7"/><circle cx="902.0" cy="391.5" r="3.7"/><circle cx="905.6" cy="389.8" r="3.7"/><circle cx="907.9" cy="386.0" r="3.7"/><circle cx="911.4" cy="383.5" r="3.7"/><circle cx="913.7" cy="380.1" r="3.7"/><circle cx="917.1" cy="377.7" r="3.7"/><circle cx="920.1" cy="375.7" r="3.7"/><circle cx="923.8" cy="373.0" r="3.7"/><circle cx="923.3" cy="368.5" r="3.7"/><circle cx="922.0" cy="365.2" r="3.7"/><circle cx="921.2" cy="360.8" r="3.7"/><circle cx="924.4" cy="358.3" r="3.7"/><circle cx="925.7" cy="354.6" r="3.7"/><circle cx="927.6" cy="350.4" r="3.7"/><circle cx="929.1" cy="346.4" r="3.7"/><circle cx="930.7" cy="342.8" r="3.7"/><circle cx="930.4" cy="338.1" r="3.7"/><circle cx="930.9" cy="334.7" r="3.7"/><circle cx="932.7" cy="330.9" r="3.7"/><circle cx="931.8" cy="328.6" r="3.7"/><circle cx="928.0" cy="327.3" r="3.7"/><circle cx="924.0" cy="325.6" r="3.7"/><circle cx="921.6" cy="322.1" r="3.7"/><circle cx="918.3" cy="319.3" r="3.7"/><circle cx="913.7" cy="319.1" r="3.7"/></g>
<line x1="714" y1="302" x2="695.5" y2="321" stroke="#d4d4d2" stroke-width="0.9"/>
</g>
<line x1="604.2" y1="333.2" x2="766.01" y2="326.85" stroke="#000" stroke-width="2.1"/><path fill-opacity="1" d="M780.00 326.30L766.16 330.65L765.86 323.05Z" fill="#cfcfcc"/>

<line x1="604.2" y1="333.2" x2="692.48" y2="323.78" stroke="#000" stroke-width="2.1"/><path d="M706.40 322.30L692.88 327.56L692.08 320.01Z" fill="#000"/><line x1="604.2" y1="333.2" x2="846.50" y2="327.81" stroke="#000" stroke-width="2.1"/><path d="M860.50 327.50L846.59 331.61L846.42 324.01Z" fill="#000"/>
<g opacity="0.999"><line x1="158.05" y1="39.3" x2="158.05" y2="599.7" stroke="#262626" stroke-width="1.7"/><line x1="157.2" y1="598.9" x2="982.8" y2="598.9" stroke="#262626" stroke-width="1.7"/><line x1="148" y1="109.99" x2="158" y2="109.99" stroke="#262626" stroke-width="1.7"/><line x1="148" y1="184.33" x2="158" y2="184.33" stroke="#262626" stroke-width="1.7"/><line x1="148" y1="258.66" x2="158" y2="258.66" stroke="#262626" stroke-width="1.7"/><line x1="148" y1="333.00" x2="158" y2="333.00" stroke="#262626" stroke-width="1.7"/><line x1="148" y1="407.34" x2="158" y2="407.34" stroke="#262626" stroke-width="1.7"/><line x1="148" y1="481.67" x2="158" y2="481.67" stroke="#262626" stroke-width="1.7"/><line x1="148" y1="556.00" x2="158" y2="556.00" stroke="#262626" stroke-width="1.7"/><line x1="205.90" y1="598.9" x2="205.90" y2="608.9" stroke="#262626" stroke-width="1.7"/><line x1="305.45" y1="598.9" x2="305.45" y2="608.9" stroke="#262626" stroke-width="1.7"/><line x1="405.00" y1="598.9" x2="405.00" y2="608.9" stroke="#262626" stroke-width="1.7"/><line x1="504.55" y1="598.9" x2="504.55" y2="608.9" stroke="#262626" stroke-width="1.7"/><line x1="604.10" y1="598.9" x2="604.10" y2="608.9" stroke="#262626" stroke-width="1.7"/><line x1="703.65" y1="598.9" x2="703.65" y2="608.9" stroke="#262626" stroke-width="1.7"/><line x1="803.20" y1="598.9" x2="803.20" y2="608.9" stroke="#262626" stroke-width="1.7"/><line x1="902.75" y1="598.9" x2="902.75" y2="608.9" stroke="#262626" stroke-width="1.7"/><circle cx="173.6" cy="54.5" r="3.7" fill="#b6c8d4"/><g transform="translate(199.98,66.10) scale(0.9732,1.0545)"><text x="0" y="0" font-family="Liberation Sans, sans-serif" font-size="32" font-weight="400" fill="#000">NK</text></g><g transform="translate(679.14,310.00) scale(1.0567,1.0053)"><text x="0" y="0" font-family="Liberation Sans, sans-serif" font-size="27" font-weight="400" fill="#000">CCL4</text></g><g transform="translate(770.43,317.90) scale(1.0357,1.0105)"><text x="0" y="0" font-family="Liberation Sans, sans-serif" font-size="27" font-weight="400" fill="#000">NKG7</text></g><g transform="translate(867.51,327.70) scale(0.9886,1.0316)"><text x="0" y="0" font-family="Liberation Sans, sans-serif" font-size="27" font-weight="400" fill="#000">GNLY</text></g><g transform="translate(512.50,689.00) scale(0.9495,1.0136)"><text x="0" y="0" font-family="Liberation Sans, sans-serif" font-size="32" font-weight="700" fill="#000">UMAP</text></g><g transform="translate(607.94,689.00) scale(1.0562,1.0136)"><text x="0" y="0" font-family="Liberation Sans, sans-serif" font-size="32" font-weight="700" fill="#000">0</text></g><g transform="translate(61.10,373.51) rotate(-90) scale(0.9571,1.0045)"><text x="0" y="0" font-family="Liberation Sans, sans-serif" font-size="32" font-weight="700" fill="#000">UMAP</text></g><g transform="translate(61.10,283.60) rotate(-90) scale(1.1500,1.0045)"><text x="0" y="0" font-family="Liberation Sans, sans-serif" font-size="32" font-weight="700" fill="#000">1</text><rect x="1.44" y="-4.80" width="6.02" height="5.76" fill="#fcf7f1"/><rect x="11.94" y="-4.80" width="5.98" height="5.76" fill="#fcf7f1"/></g><g transform="translate(106.05,121.89) scale(0.9161,1.0409)"><text x="0" y="0" font-family="Liberation Sans, sans-serif" font-size="32" font-weight="400" fill="#000">15</text><rect x="1.44" y="-3.20" width="6.53" height="4.16" fill="#fcf7f1"/><rect x="10.91" y="-3.20" width="6.37" height="4.16" fill="#fcf7f1"/></g><g transform="translate(104.85,196.23) scale(0.9516,1.0409)"><text x="0" y="0" font-family="Liberation Sans, sans-serif" font-size="32" font-weight="400" fill="#000">10</text><rect x="1.44" y="-3.20" width="6.53" height="4.16" fill="#fcf7f1"/><rect x="10.91" y="-3.20" width="6.37" height="4.16" fill="#fcf7f1"/></g><g transform="translate(118.84,270.56) scale(1.0800,1.0409)"><text x="0" y="0" font-family="Liberation Sans, sans-serif" font-size="32" font-weight="400" fill="#000">5</text></g><g transform="translate(119.03,344.90) scale(1.0687,1.0409)"><text x="0" y="0" font-family="Liberation Sans, sans-serif" font-size="32" font-weight="400" fill="#000">0</text></g><g transform="translate(99.65,419.24) scale(1.0727,1.0409)"><text x="0" y="0" font-family="Liberation Sans, sans-serif" font-size="32" font-weight="400" fill="#000">−5</text></g><g transform="translate(87.42,493.57) scale(0.9392,1.0409)"><text x="0" y="0" font-family="Liberation Sans, sans-serif" font-size="32" font-weight="400" fill="#000">−10</text><rect x="20.13" y="-3.20" width="6.53" height="4.16" fill="#fcf7f1"/><rect x="29.60" y="-3.20" width="6.37" height="4.16" fill="#fcf7f1"/></g><g transform="translate(88.98,567.90) scale(0.9098,1.0409)"><text x="0" y="0" font-family="Liberation Sans, sans-serif" font-size="32" font-weight="400" fill="#000">−15</text><rect x="20.13" y="-3.20" width="6.53" height="4.16" fill="#fcf7f1"/><rect x="29.60" y="-3.20" width="6.37" height="4.16" fill="#fcf7f1"/></g><g transform="translate(176.43,642.10) scale(1.0843,1.0545)"><text x="0" y="0" font-family="Liberation Sans, sans-serif" font-size="32" font-weight="400" fill="#000">−20</text></g><g transform="translate(281.19,642.10) scale(0.9039,1.0545)"><text x="0" y="0" font-family="Liberation Sans, sans-serif" font-size="32" font-weight="400" fill="#000">−15</text><rect x="20.13" y="-3.20" width="6.53" height="4.16" fill="#fcf7f1"/><rect x="29.60" y="-3.20" width="6.37" height="4.16" fill="#fcf7f1"/></g><g transform="translate(380.02,642.10) scale(0.9392,1.0545)"><text x="0" y="0" font-family="Liberation Sans, sans-serif" font-size="32" font-weight="400" fill="#000">−10</text><rect x="20.13" y="-3.20" width="6.53" height="4.16" fill="#fcf7f1"/><rect x="29.60" y="-3.20" width="6.37" height="4.16" fill="#fcf7f1"/></g><g transform="translate(484.42,642.10) scale(1.0909,1.0545)"><text x="0" y="0" font-family="Liberation Sans, sans-serif" font-size="32" font-weight="400" fill="#000">−5</text></g><g transform="translate(595.00,642.10) scale(1.1000,1.0545)"><text x="0" y="0" font-family="Liberation Sans, sans-serif" font-size="32" font-weight="400" fill="#000">0</text></g><g transform="translate(693.59,642.10) scale(1.1067,1.0545)"><text x="0" y="0" font-family="Liberation Sans, sans-serif" font-size="32" font-weight="400" fill="#000">5</text></g><g transform="translate(785.26,642.10) scale(0.9129,1.0545)"><text x="0" y="0" font-family="Liberation Sans, sans-serif" font-size="32" font-weight="400" fill="#000">10</text><rect x="1.44" y="-3.20" width="6.53" height="4.16" fill="#fcf7f1"/><rect x="10.91" y="-3.20" width="6.37" height="4.16" fill="#fcf7f1"/></g><g transform="translate(885.82,642.10) scale(0.8935,1.0545)"><text x="0" y="0" font-family="Liberation Sans, sans-serif" font-size="32" font-weight="400" fill="#000">15</text><rect x="1.44" y="-3.20" width="6.53" height="4.16" fill="#fcf7f1"/><rect x="10.91" y="-3.20" width="6.37" height="4.16" fill="#fcf7f1"/></g></g>
</svg>
</body></html>
